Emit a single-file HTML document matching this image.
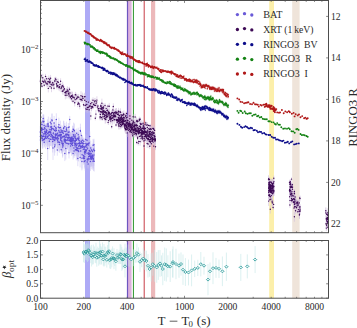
<!DOCTYPE html><html><head><meta charset="utf-8"><style>html,body{margin:0;padding:0;background:#fff;width:357px;height:328px;overflow:hidden}svg{display:block}text{font-family:"Liberation Serif",serif;fill:#2a2a2a}</style></head><body>
<svg width="357" height="328" viewBox="0 0 357 328">
<rect width="357" height="328" fill="#fff"/>
<rect x="85" y="0.5" width="5" height="232.2" fill="#aeaaf6"/><rect x="128" y="0.5" width="3.6" height="232.2" fill="#dcb0dc"/><rect x="126.9" y="0.5" width="1.2" height="232.2" fill="#6d55c0"/><rect x="132.9" y="0.5" width="1.1" height="232.2" fill="#3d9d3d"/><rect x="143.6" y="0.5" width="1.3" height="232.2" fill="#d46a72"/><rect x="151" y="0.5" width="4.2" height="232.2" fill="#ecb8ba"/><rect x="269.2" y="0.5" width="4.8" height="232.2" fill="#fcefaa"/><rect x="292.2" y="0.5" width="7.4" height="232.2" fill="#efe4da"/>
<rect x="85" y="240.5" width="5" height="57.69999999999999" fill="#aeaaf6"/><rect x="128" y="240.5" width="3.6" height="57.69999999999999" fill="#dcb0dc"/><rect x="126.9" y="240.5" width="1.2" height="57.69999999999999" fill="#6d55c0"/><rect x="132.9" y="240.5" width="1.1" height="57.69999999999999" fill="#3d9d3d"/><rect x="143.6" y="240.5" width="1.3" height="57.69999999999999" fill="#d46a72"/><rect x="151" y="240.5" width="4.2" height="57.69999999999999" fill="#ecb8ba"/><rect x="269.2" y="240.5" width="4.8" height="57.69999999999999" fill="#fcefaa"/><rect x="292.2" y="240.5" width="7.4" height="57.69999999999999" fill="#efe4da"/>
<path d="M40.3 125.9V141.1M40.4 131.0V144.6M40.5 137.2V143.9M40.6 133.0V140.2M40.7 120.6V128.5M40.8 132.4V147.3M40.9 120.4V140.0M41.0 123.4V141.5M41.1 131.0V141.4M41.3 132.1V140.9M41.4 124.2V138.0M41.5 126.2V133.3M41.6 126.5V137.1M41.7 122.7V135.2M41.8 131.9V141.5M41.9 119.2V132.7M42.1 124.7V144.5M42.1 123.7V135.7M42.3 134.4V141.2M42.4 132.0V148.7M42.6 130.4V146.2M42.7 123.9V138.1M42.8 135.5V148.3M42.9 118.5V125.6M43.1 115.1V132.6M43.2 113.9V125.4M43.3 136.1V144.6M43.4 131.2V138.2M43.5 131.4V143.0M43.7 133.3V140.6M43.8 114.6V132.1M44.0 125.3V135.4M44.1 117.6V137.0M44.2 138.8V147.5M44.3 127.9V142.3M44.4 137.1V143.4M44.5 120.1V139.4M44.6 133.1V146.4M44.7 124.6V143.2M44.9 123.9V142.1M45.0 125.2V132.9M45.2 133.7V140.8M45.2 129.4V140.3M45.3 133.7V139.9M45.4 134.6V141.2M45.6 130.2V144.9M45.7 128.2V139.5M45.7 131.0V148.9M45.9 123.3V130.7M46.0 129.8V140.7M46.1 131.7V138.3M46.2 124.3V137.8M46.3 126.0V139.5M46.5 125.1V143.2M46.6 128.9V137.4M46.8 132.8V146.3M46.9 123.7V141.1M47.1 129.0V147.0M47.3 132.8V142.2M47.4 119.5V130.6M47.4 133.3V143.1M47.6 125.6V145.0M47.7 140.7V160.1M47.8 122.2V131.4M47.9 127.9V142.7M48.1 129.1V146.9M48.2 123.6V131.0M48.3 116.6V135.3M48.5 129.2V137.9M48.6 121.7V132.6M48.8 133.7V145.5M48.9 125.2V141.5M49.0 127.6V146.3M49.2 131.9V140.2M49.3 136.9V147.9M49.4 128.6V136.7M49.5 135.8V149.3M49.7 126.6V138.8M49.8 131.0V140.7M49.9 125.7V135.2M50.1 129.5V137.6M50.2 134.7V145.8M50.3 117.5V129.5M50.5 121.7V134.8M50.6 127.2V139.5M50.7 130.6V136.9M50.9 129.9V146.1M51.0 134.9V145.6M51.1 120.8V128.5M51.2 126.1V135.8M51.3 128.8V142.8M51.5 119.1V137.9M51.6 123.0V136.3M51.7 124.1V136.6M51.9 113.6V129.4M52.0 127.9V147.1M52.1 113.6V131.4M52.2 125.5V133.4M52.3 134.7V141.9M52.4 128.9V145.9M52.6 132.9V148.2M52.7 134.1V152.5M52.9 131.9V143.6M53.0 140.0V159.9M53.1 131.9V145.2M53.2 135.7V144.6M53.3 128.3V142.1M53.4 130.3V136.8M53.5 126.3V133.4M53.7 122.4V139.5M53.9 135.1V141.9M54.0 133.0V143.0M54.1 116.0V133.5M54.2 136.9V145.2M54.4 123.2V130.7M54.4 124.2V139.9M54.6 140.7V155.7M54.7 137.5V144.9M54.9 140.0V152.5M55.0 133.6V147.5M55.1 128.8V142.3M55.2 134.5V142.3M55.3 134.1V144.6M55.4 129.2V145.9M55.5 126.6V137.6M55.6 130.8V140.5M55.7 130.4V139.2M55.8 119.8V138.9M55.9 132.1V145.2M56.0 124.5V136.2M56.1 124.2V135.1M56.3 113.3V129.2M56.4 127.7V134.7M56.5 135.1V142.3M56.6 131.9V139.3M56.8 131.2V149.4M56.9 130.1V140.4M57.0 136.0V144.4M57.2 126.1V145.7M57.3 146.1V155.7M57.5 130.7V137.0M57.6 135.2V148.0M57.7 134.9V141.2M57.8 138.9V146.4M57.9 132.4V142.8M58.0 130.0V144.3M58.1 129.0V145.1M58.3 122.3V134.0M58.4 132.3V148.5M58.5 132.5V139.3M58.7 135.4V151.7M58.8 127.3V135.4M58.9 117.7V135.1M59.1 129.7V144.0M59.2 128.4V137.8M59.3 124.4V132.5M59.4 139.0V152.9M59.6 136.7V151.5M59.7 128.5V145.8M59.8 130.7V143.9M60.0 128.3V144.7M60.1 131.3V138.6M60.2 129.0V145.4M60.3 127.0V140.0M60.4 120.7V137.5M60.6 131.3V146.4M60.6 132.3V148.7M60.7 134.1V148.2M60.8 134.3V149.8M60.9 131.8V147.3M61.0 124.8V137.5M61.1 128.3V146.8M61.2 147.3V153.7M61.3 127.5V145.0M61.5 128.4V137.6M61.7 134.3V143.4M61.8 133.2V152.6M61.9 135.0V152.6M62.0 139.7V149.1M62.2 125.6V138.5M62.2 138.4V150.9M62.3 133.6V141.8M62.4 129.7V136.0M62.6 139.8V157.6M62.7 137.5V156.2M62.8 128.2V139.6M62.9 140.1V151.3M63.0 132.8V142.9M63.1 141.7V151.9M63.2 139.7V149.3M63.3 128.7V140.1M63.5 129.4V147.8M63.6 120.7V139.9M63.8 121.3V137.4M63.8 129.8V146.4M64.0 126.8V137.0M64.0 134.8V147.6M64.1 131.8V142.1M64.3 135.6V150.9M64.4 131.1V145.0M64.5 135.4V144.5M64.7 135.2V148.2M64.8 148.7V161.1M64.8 123.1V132.0M64.9 132.3V141.8M65.0 134.0V148.1M65.2 132.8V144.7M65.3 127.1V138.5M65.4 134.2V153.7M65.5 134.2V147.4M65.6 136.4V146.4M65.7 130.0V141.8M65.8 141.3V159.6M65.9 132.0V138.7M66.0 137.4V151.7M66.1 129.3V140.9M66.3 135.4V155.0M66.4 124.8V132.5M66.4 121.7V140.9M66.6 130.8V146.0M66.7 128.4V135.2M66.9 136.4V145.9M67.0 132.1V140.1M67.1 128.4V143.4M67.3 134.7V148.2M67.4 135.3V146.9M67.5 133.7V144.1M67.6 130.3V149.7M67.8 139.7V149.2M67.8 126.5V145.9M68.0 133.0V146.1M68.1 135.1V147.1M68.2 128.5V137.9M68.3 123.0V133.9M68.4 130.4V147.6M68.6 130.1V143.3M68.6 136.9V154.4M68.7 134.3V143.6M68.9 129.8V142.9M69.0 149.1V158.4M69.1 128.7V136.9M69.2 123.3V132.5M69.4 137.6V144.7M69.5 133.3V151.9M69.6 129.5V148.6M69.7 115.9V124.7M69.9 133.3V148.7M70.0 133.5V144.9M70.1 135.7V145.8M70.2 132.2V151.6M70.3 139.0V150.2M70.4 131.8V149.3M70.6 141.4V152.8M70.7 138.2V147.1M70.8 136.2V148.1M71.0 132.3V149.1M71.1 134.4V153.3M71.1 133.8V150.3M71.3 129.8V149.2M71.4 140.1V149.9M71.6 135.7V142.0M71.7 136.9V155.8M71.9 137.7V147.1M72.0 132.1V151.5M72.1 132.2V144.3M72.3 135.7V154.7M72.3 136.5V154.1M72.5 125.7V140.3M72.6 131.4V148.4M72.7 142.0V150.9M72.8 138.0V144.7M72.9 138.5V149.2M73.1 149.6V159.5M73.2 126.2V133.8M73.3 135.5V144.9M73.4 128.8V143.6M73.6 134.6V150.0M73.6 122.6V140.4M73.7 129.3V145.7M73.8 134.9V144.5M73.9 142.3V156.5M74.0 146.3V158.0M74.2 130.0V147.4M74.3 133.1V153.0M74.4 123.6V141.4M74.6 140.3V147.1M74.7 136.3V155.9M74.8 136.4V155.4M74.9 141.8V151.6M75.1 129.1V148.4M75.1 131.3V140.5M75.2 133.8V142.0M75.3 135.4V150.6M75.4 147.1V153.5M75.5 136.1V146.6M75.6 131.8V149.0M75.7 139.9V151.6M75.9 137.2V152.2M76.0 142.1V154.0M76.0 145.8V156.3M76.2 135.1V146.3M76.3 142.2V160.4M76.5 133.7V149.9M76.6 143.1V149.4M76.7 128.6V140.4M76.9 142.9V155.5M77.0 144.4V159.4M77.2 140.9V148.4M77.3 135.3V143.5M77.4 143.0V156.4M77.5 141.8V159.1M77.7 144.3V153.3M77.8 153.3V166.2M77.9 130.6V149.6M78.0 143.5V161.0M78.1 132.5V149.6M78.2 127.7V145.3M78.2 146.7V155.9M78.4 135.3V143.2M78.4 137.1V153.3M78.6 144.9V161.5M78.7 139.2V157.0M78.8 132.6V147.4M78.9 135.4V147.5M79.0 132.1V144.5M79.1 145.9V152.5M79.2 133.9V150.6M79.4 140.2V152.8M79.5 139.1V147.1M79.6 142.6V150.1M79.7 137.5V152.5M79.8 138.6V155.0M79.9 138.2V151.3M80.0 137.6V156.9M80.1 151.0V167.4M80.3 127.0V135.9M80.4 123.7V142.6M80.5 139.7V156.8M80.7 144.3V160.9M80.8 140.8V159.3M80.9 142.1V155.3M81.0 139.6V148.8M81.1 138.5V145.3M81.2 142.8V151.3M81.4 137.8V146.4M81.5 132.4V140.2M81.7 135.8V154.1M81.8 137.0V151.2M81.9 155.4V170.4M82.0 151.3V168.5M82.1 150.2V161.4M82.3 141.9V154.2M82.4 140.2V157.8M82.5 139.6V154.6M82.6 136.0V146.5M82.7 140.5V147.2M82.8 137.7V151.0M83.0 140.5V148.5M83.0 144.7V150.9M83.2 143.9V151.6M83.3 143.5V157.9M83.4 149.8V164.6M83.5 153.4V163.0M83.6 155.5V163.0M83.7 150.7V162.5M83.8 138.6V145.0M83.9 137.6V152.7M84.0 139.0V158.1M84.2 146.2V153.0M84.3 156.7V168.6M84.4 155.8V162.3M84.5 145.0V164.2M84.6 146.4V159.6M84.7 149.8V167.3M84.8 144.8V151.7M85.0 147.2V164.3M85.1 154.2V170.7M85.2 143.6V160.0M85.4 146.4V155.9M85.4 148.2V159.1M85.6 139.8V155.8M85.7 134.0V147.8M85.8 147.9V157.8M85.9 135.6V155.1M86.0 147.2V157.0M86.1 143.1V159.6M86.3 143.1V161.4M86.4 141.7V151.2M86.5 138.5V153.9M86.7 139.3V152.0M86.9 142.4V154.7M87.0 134.7V148.8M87.1 150.2V157.6M87.3 156.0V164.2M87.3 157.5V168.5M87.4 157.1V163.8M87.5 142.3V158.2M87.6 141.1V148.3M87.8 137.8V155.3M87.9 157.2V164.3M88.1 160.9V168.6M88.2 141.8V149.6M88.2 152.2V167.2M88.4 137.5V152.4M88.5 147.6V164.3M88.6 149.5V160.1M88.7 152.6V162.7M88.8 148.3V159.6M88.9 151.8V169.7M89.1 148.1V154.8M89.2 138.7V149.7M89.3 150.8V164.4M89.4 147.0V164.6M89.5 148.0V154.3M89.6 151.2V157.5M89.7 131.3V144.3M89.9 150.8V161.9M90.0 154.9V164.7M90.2 145.4V161.3M90.3 153.5V161.3M90.4 155.3V171.1M90.6 151.8V166.6M90.7 140.6V159.1M90.8 148.8V167.2M90.8 146.6V165.2M91.0 152.6V164.1M91.1 148.1V161.7M91.3 152.7V169.3M91.4 146.6V155.0M91.6 151.1V166.4M91.7 149.3V166.2M91.8 155.4V163.3M91.9 152.8V161.7M92.0 144.0V159.9M92.2 151.2V160.9M92.3 150.6V164.1M92.4 143.6V163.3M92.5 153.5V161.2M92.7 150.0V169.8M92.8 150.3V166.6M93.0 153.1V160.8M93.0 156.6V168.2M93.1 138.9V154.7M93.2 153.6V168.5M93.4 153.8V165.6M93.5 152.2V170.9M93.6 140.2V152.2M93.7 142.8V159.0M93.9 147.8V165.8M94.0 138.8V153.9M94.1 147.6V155.2M94.2 154.5V171.5M94.4 146.0V158.0M94.5 144.7V159.5" stroke="#c4bdf0" stroke-width="0.5" fill="none"/>
<path d="M40.3 132.0h0.01M40.4 136.4h0.01M40.5 139.9h0.01M40.6 135.9h0.01M40.7 123.8h0.01M40.8 138.4h0.01M40.9 128.2h0.01M41.0 130.7h0.01M41.1 135.2h0.01M41.3 135.6h0.01M41.4 129.7h0.01M41.5 129.0h0.01M41.6 130.7h0.01M41.7 127.7h0.01M41.8 135.8h0.01M41.9 124.6h0.01M42.1 132.6h0.01M42.1 128.5h0.01M42.3 137.1h0.01M42.4 138.7h0.01M42.6 136.7h0.01M42.7 129.6h0.01M42.8 140.6h0.01M42.9 121.3h0.01M43.1 122.1h0.01M43.2 118.5h0.01M43.3 139.5h0.01M43.4 134.0h0.01M43.5 136.1h0.01M43.7 136.2h0.01M43.8 121.6h0.01M44.0 129.3h0.01M44.1 125.4h0.01M44.2 142.3h0.01M44.3 133.7h0.01M44.4 139.6h0.01M44.5 127.8h0.01M44.6 138.4h0.01M44.7 132.0h0.01M44.9 131.2h0.01M45.0 128.3h0.01M45.2 136.5h0.01M45.2 133.7h0.01M45.3 136.2h0.01M45.4 137.3h0.01M45.6 136.1h0.01M45.7 132.7h0.01M45.7 138.1h0.01M45.9 126.2h0.01M46.0 134.2h0.01M46.1 134.4h0.01M46.2 129.7h0.01M46.3 131.4h0.01M46.5 132.3h0.01M46.6 132.3h0.01M46.8 138.2h0.01M46.9 130.7h0.01M47.1 136.2h0.01M47.3 136.6h0.01M47.4 123.9h0.01M47.4 137.2h0.01M47.6 133.4h0.01M47.7 148.5h0.01M47.8 125.9h0.01M47.9 133.8h0.01M48.1 136.2h0.01M48.2 126.6h0.01M48.3 124.1h0.01M48.5 132.6h0.01M48.6 126.1h0.01M48.8 138.4h0.01M48.9 131.7h0.01M49.0 135.1h0.01M49.2 135.2h0.01M49.3 141.3h0.01M49.4 131.9h0.01M49.5 141.2h0.01M49.7 131.5h0.01M49.8 134.9h0.01M49.9 129.5h0.01M50.1 132.7h0.01M50.2 139.2h0.01M50.3 122.3h0.01M50.5 126.9h0.01M50.6 132.1h0.01M50.7 133.1h0.01M50.9 136.4h0.01M51.0 139.2h0.01M51.1 123.8h0.01M51.2 130.0h0.01M51.3 134.4h0.01M51.5 126.7h0.01M51.6 128.3h0.01M51.7 129.1h0.01M51.9 119.9h0.01M52.0 135.5h0.01M52.1 120.7h0.01M52.2 128.6h0.01M52.3 137.6h0.01M52.4 135.7h0.01M52.6 139.0h0.01M52.7 141.4h0.01M52.9 136.6h0.01M53.0 148.0h0.01M53.1 137.2h0.01M53.2 139.2h0.01M53.3 133.8h0.01M53.4 132.9h0.01M53.5 129.1h0.01M53.7 129.3h0.01M53.9 137.8h0.01M54.0 137.0h0.01M54.1 123.0h0.01M54.2 140.3h0.01M54.4 126.2h0.01M54.4 130.5h0.01M54.6 146.7h0.01M54.7 140.4h0.01M54.9 145.0h0.01M55.0 139.2h0.01M55.1 134.2h0.01M55.2 137.6h0.01M55.3 138.3h0.01M55.4 135.8h0.01M55.5 131.0h0.01M55.6 134.7h0.01M55.7 133.9h0.01M55.8 127.4h0.01M55.9 137.3h0.01M56.0 129.2h0.01M56.1 128.6h0.01M56.3 119.6h0.01M56.4 130.5h0.01M56.5 138.0h0.01M56.6 134.9h0.01M56.8 138.5h0.01M56.9 134.2h0.01M57.0 139.3h0.01M57.2 133.9h0.01M57.3 150.0h0.01M57.5 133.2h0.01M57.6 140.3h0.01M57.7 137.4h0.01M57.8 141.9h0.01M57.9 136.6h0.01M58.0 135.7h0.01M58.1 135.5h0.01M58.3 127.0h0.01M58.4 138.8h0.01M58.5 135.2h0.01M58.7 141.9h0.01M58.8 130.5h0.01M58.9 124.7h0.01M59.1 135.4h0.01M59.2 132.1h0.01M59.3 127.7h0.01M59.4 144.5h0.01M59.6 142.6h0.01M59.7 135.4h0.01M59.8 136.0h0.01M60.0 134.8h0.01M60.1 134.2h0.01M60.2 135.5h0.01M60.3 132.2h0.01M60.4 127.4h0.01M60.6 137.3h0.01M60.6 138.9h0.01M60.7 139.8h0.01M60.8 140.5h0.01M60.9 138.0h0.01M61.0 129.9h0.01M61.1 135.7h0.01M61.2 149.8h0.01M61.3 134.5h0.01M61.5 132.1h0.01M61.7 137.9h0.01M61.8 141.0h0.01M61.9 142.1h0.01M62.0 143.5h0.01M62.2 130.7h0.01M62.2 143.4h0.01M62.3 136.9h0.01M62.4 132.2h0.01M62.6 146.9h0.01M62.7 145.0h0.01M62.8 132.7h0.01M62.9 144.6h0.01M63.0 136.8h0.01M63.1 145.7h0.01M63.2 143.5h0.01M63.3 133.2h0.01M63.5 136.8h0.01M63.6 128.4h0.01M63.8 127.7h0.01M63.8 136.4h0.01M64.0 130.9h0.01M64.0 139.9h0.01M64.1 135.9h0.01M64.3 141.7h0.01M64.4 136.6h0.01M64.5 139.1h0.01M64.7 140.4h0.01M64.8 153.6h0.01M64.8 126.6h0.01M64.9 136.1h0.01M65.0 139.6h0.01M65.2 137.6h0.01M65.3 131.6h0.01M65.4 142.0h0.01M65.5 139.5h0.01M65.6 140.4h0.01M65.7 134.7h0.01M65.8 148.6h0.01M65.9 134.6h0.01M66.0 143.1h0.01M66.1 133.9h0.01M66.3 143.2h0.01M66.4 127.9h0.01M66.4 129.4h0.01M66.6 136.9h0.01M66.7 131.1h0.01M66.9 140.2h0.01M67.0 135.3h0.01M67.1 134.4h0.01M67.3 140.1h0.01M67.4 139.9h0.01M67.5 137.8h0.01M67.6 138.0h0.01M67.8 143.5h0.01M67.8 134.2h0.01M68.0 138.3h0.01M68.1 139.9h0.01M68.2 132.2h0.01M68.3 127.4h0.01M68.4 137.3h0.01M68.6 135.4h0.01M68.6 143.9h0.01M68.7 138.1h0.01M68.9 135.1h0.01M69.0 152.8h0.01M69.1 132.0h0.01M69.2 127.0h0.01M69.4 140.4h0.01M69.5 140.8h0.01M69.6 137.2h0.01M69.7 119.4h0.01M69.9 139.4h0.01M70.0 138.0h0.01M70.1 139.8h0.01M70.2 140.0h0.01M70.3 143.5h0.01M70.4 138.8h0.01M70.6 146.0h0.01M70.7 141.8h0.01M70.8 141.0h0.01M71.0 139.0h0.01M71.1 142.0h0.01M71.1 140.4h0.01M71.3 137.6h0.01M71.4 144.0h0.01M71.6 138.2h0.01M71.7 144.4h0.01M71.9 141.4h0.01M72.0 139.8h0.01M72.1 137.0h0.01M72.3 143.3h0.01M72.3 143.5h0.01M72.5 131.5h0.01M72.6 138.2h0.01M72.7 145.6h0.01M72.8 140.7h0.01M72.9 142.8h0.01M73.1 153.6h0.01M73.2 129.3h0.01M73.3 139.2h0.01M73.4 134.8h0.01M73.6 140.8h0.01M73.6 129.7h0.01M73.7 135.9h0.01M73.8 138.7h0.01M73.9 147.9h0.01M74.0 151.0h0.01M74.2 137.0h0.01M74.3 141.0h0.01M74.4 130.7h0.01M74.6 143.0h0.01M74.7 144.1h0.01M74.8 144.0h0.01M74.9 145.7h0.01M75.1 136.8h0.01M75.1 135.0h0.01M75.2 137.1h0.01M75.3 141.5h0.01M75.4 149.7h0.01M75.5 140.3h0.01M75.6 138.6h0.01M75.7 144.6h0.01M75.9 143.2h0.01M76.0 146.9h0.01M76.0 150.0h0.01M76.2 139.6h0.01M76.3 149.5h0.01M76.5 140.2h0.01M76.6 145.6h0.01M76.7 133.3h0.01M76.9 148.0h0.01M77.0 150.4h0.01M77.2 143.9h0.01M77.3 138.6h0.01M77.4 148.4h0.01M77.5 148.7h0.01M77.7 147.9h0.01M77.8 158.5h0.01M77.9 138.2h0.01M78.0 150.5h0.01M78.1 139.3h0.01M78.2 134.7h0.01M78.2 150.4h0.01M78.4 138.5h0.01M78.4 143.6h0.01M78.6 151.5h0.01M78.7 146.3h0.01M78.8 138.5h0.01M78.9 140.2h0.01M79.0 137.0h0.01M79.1 148.6h0.01M79.2 140.6h0.01M79.4 145.2h0.01M79.5 142.3h0.01M79.6 145.6h0.01M79.7 143.5h0.01M79.8 145.1h0.01M79.9 143.4h0.01M80.0 145.3h0.01M80.1 157.6h0.01M80.3 130.5h0.01M80.4 131.3h0.01M80.5 146.6h0.01M80.7 150.9h0.01M80.8 148.2h0.01M80.9 147.4h0.01M81.0 143.3h0.01M81.1 141.2h0.01M81.2 146.2h0.01M81.4 141.2h0.01M81.5 135.5h0.01M81.7 143.1h0.01M81.8 142.7h0.01M81.9 161.4h0.01M82.0 158.2h0.01M82.1 154.7h0.01M82.3 146.8h0.01M82.4 147.2h0.01M82.5 145.6h0.01M82.6 140.2h0.01M82.7 143.2h0.01M82.8 143.1h0.01M83.0 143.7h0.01M83.0 147.2h0.01M83.2 147.0h0.01M83.3 149.3h0.01M83.4 155.7h0.01M83.5 157.2h0.01M83.6 158.5h0.01M83.7 155.4h0.01M83.8 141.2h0.01M83.9 143.6h0.01M84.0 146.6h0.01M84.2 148.9h0.01M84.3 161.5h0.01M84.4 158.4h0.01M84.5 152.7h0.01M84.6 151.6h0.01M84.7 156.8h0.01M84.8 147.6h0.01M85.0 154.0h0.01M85.1 160.8h0.01M85.2 150.1h0.01M85.4 150.2h0.01M85.4 152.6h0.01M85.6 146.2h0.01M85.7 139.5h0.01M85.8 151.8h0.01M85.9 143.4h0.01M86.0 151.1h0.01M86.1 149.7h0.01M86.3 150.4h0.01M86.4 145.5h0.01M86.5 144.7h0.01M86.7 144.4h0.01M86.9 147.3h0.01M87.0 140.3h0.01M87.1 153.2h0.01M87.3 159.2h0.01M87.3 161.9h0.01M87.4 159.8h0.01M87.5 148.7h0.01M87.6 144.0h0.01M87.8 144.8h0.01M87.9 160.0h0.01M88.1 164.0h0.01M88.2 144.9h0.01M88.2 158.2h0.01M88.4 143.4h0.01M88.5 154.3h0.01M88.6 153.7h0.01M88.7 156.6h0.01M88.8 152.8h0.01M88.9 159.0h0.01M89.1 150.8h0.01M89.2 143.1h0.01M89.3 156.3h0.01M89.4 154.0h0.01M89.5 150.5h0.01M89.6 153.7h0.01M89.7 136.5h0.01M89.9 155.2h0.01M90.0 158.8h0.01M90.2 151.8h0.01M90.3 156.6h0.01M90.4 161.6h0.01M90.6 157.7h0.01M90.7 148.0h0.01M90.8 156.2h0.01M90.8 154.0h0.01M91.0 157.2h0.01M91.1 153.6h0.01M91.3 159.3h0.01M91.4 150.0h0.01M91.6 157.2h0.01M91.7 156.1h0.01M91.8 158.5h0.01M91.9 156.3h0.01M92.0 150.3h0.01M92.2 155.1h0.01M92.3 156.0h0.01M92.4 151.5h0.01M92.5 156.6h0.01M92.7 157.9h0.01M92.8 156.8h0.01M93.0 156.2h0.01M93.0 161.2h0.01M93.1 145.2h0.01M93.2 159.6h0.01M93.4 158.5h0.01M93.5 159.7h0.01M93.6 145.0h0.01M93.7 149.3h0.01M93.9 155.0h0.01M94.0 144.8h0.01M94.1 150.6h0.01M94.2 161.3h0.01M94.4 150.8h0.01M94.5 150.7h0.01" stroke="#5f4fd6" stroke-width="1.5" stroke-linecap="round" fill="none"/>
<path d="M40.3 79.1V83.2M40.7 73.8V81.5M41.1 73.8V77.1M41.5 81.7V85.7M42.0 84.4V88.0M42.4 78.0V84.2M42.8 73.8V81.7M43.2 78.6V84.1M43.8 79.7V85.0M44.2 83.5V87.2M44.8 77.8V82.4M45.1 79.9V83.0M45.5 73.9V79.0M45.8 80.5V84.8M46.3 81.5V85.8M46.7 76.1V81.4M47.0 79.7V87.5M47.5 81.1V87.0M47.9 79.1V84.2M48.3 84.5V92.4M48.8 75.5V81.8M49.0 77.7V85.7M49.4 80.2V85.5M49.7 76.9V82.5M50.0 84.2V88.9M50.3 79.6V84.4M50.6 74.9V81.8M51.0 80.0V88.5M51.5 83.7V92.2M52.0 83.0V86.9M52.5 81.3V84.4M53.0 79.5V86.5M53.3 82.7V87.1M53.8 82.2V87.2M54.0 86.2V90.2M54.6 77.7V84.3M55.0 77.2V85.0M55.5 76.8V81.0M56.0 76.9V82.6M56.5 80.7V87.0M56.8 82.1V88.1M57.0 83.8V89.6M57.3 78.6V84.8M57.8 84.3V87.3M58.3 78.7V85.7M58.8 84.5V89.7M59.2 84.4V91.2M59.6 85.1V88.2M60.0 81.9V86.9M60.6 78.3V84.4M60.9 84.9V92.2M61.4 85.2V90.3M61.9 83.2V89.3M62.3 89.2V93.5M62.7 81.7V89.6M63.0 87.0V95.0M63.4 84.0V90.1M63.9 86.2V93.2M64.4 86.4V91.2M64.8 89.2V96.0M65.3 91.1V99.4M65.7 90.4V93.7M66.0 88.7V97.2M66.4 88.0V94.9M66.9 91.9V98.6M67.3 86.3V93.5M67.8 88.1V95.1M68.1 87.1V94.7M68.4 89.5V97.2M68.9 90.7V97.6M69.2 92.8V99.2M69.5 86.8V91.6M69.9 89.5V96.4M70.4 95.9V99.3M70.8 92.6V100.4M71.3 91.5V100.0M71.6 95.4V101.9M72.1 91.9V100.8M72.5 91.7V98.6M72.8 95.3V99.2M73.0 99.4V103.2M73.6 95.4V98.9M74.1 94.0V101.4M74.4 94.2V101.6M74.7 99.1V106.4M75.2 96.0V103.3M75.4 91.9V97.6M75.9 92.7V97.2M76.5 97.2V100.3M76.9 94.7V102.6M77.2 95.3V99.3M77.7 101.3V107.2M77.9 94.1V99.7M78.4 101.1V105.0M78.8 93.9V100.7M79.2 101.3V106.6M79.7 102.9V109.3M80.0 97.4V100.8M80.5 97.0V102.0M81.0 91.2V100.1M81.4 96.6V102.2M82.0 97.6V102.9M82.4 92.6V100.5M82.7 96.6V99.6M83.0 94.6V102.5M83.5 103.0V106.3M84.0 102.1V108.5M84.3 92.8V100.9M84.8 97.7V102.8M85.1 93.4V99.7M85.6 100.9V109.5M85.9 105.6V112.2M86.3 99.4V103.9M86.8 100.7V108.4M87.1 105.6V113.2M87.4 104.3V110.8M88.0 104.7V110.6M88.4 100.0V104.1M88.7 104.5V109.7M89.1 107.1V112.5M89.4 101.4V110.4M89.8 104.4V108.1M90.2 102.8V109.3M90.6 100.7V106.8M90.8 111.9V120.1M91.2 104.9V111.4M91.5 102.4V111.1M91.9 98.8V106.7M92.5 104.4V108.6M92.8 105.8V109.3M93.0 97.3V103.0M93.5 100.2V108.7M93.8 102.3V106.0M94.3 102.9V107.5M94.7 98.3V105.3M95.1 97.9V103.6M95.3 116.1V120.4M95.6 103.1V107.7M95.9 110.1V118.1M96.1 99.7V107.4M96.6 100.3V103.6M96.9 96.3V103.8M97.4 103.9V110.4M97.9 104.1V107.8M98.2 105.8V111.6M98.5 108.5V112.9M98.7 105.1V112.4M99.0 107.0V110.2M99.5 106.8V115.0M100.1 115.9V119.7M100.2 112.4V120.4M100.4 111.6V117.3M100.5 108.2V115.0M100.6 104.0V108.3M100.7 106.9V110.8M100.9 103.2V107.8M101.0 107.7V115.7M101.1 110.5V114.5M101.3 105.1V108.8M101.5 115.8V119.1M101.7 106.3V112.1M101.8 106.1V110.6M101.9 98.7V107.7M102.2 117.3V120.9M102.3 108.1V115.4M102.4 105.6V114.5M102.5 110.1V114.0M102.6 103.8V111.8M102.7 108.3V116.8M102.8 111.4V117.9M102.9 110.1V117.4M103.0 115.1V118.6M103.1 105.6V110.2M103.2 105.2V111.9M103.4 111.1V115.3M103.5 103.2V110.6M103.6 107.4V115.2M103.8 106.3V114.4M104.0 106.8V115.3M104.1 107.7V115.9M104.2 111.9V117.1M104.3 115.7V120.9M104.5 113.6V119.3M104.6 110.3V114.0M104.8 112.7V117.6M105.0 102.9V108.1M105.2 114.9V123.7M105.3 112.2V118.3M105.5 107.4V116.2M105.6 110.4V114.5M105.7 111.0V114.2M105.8 115.9V123.1M105.9 114.5V121.0M106.1 109.8V117.0M106.2 115.3V118.5M106.2 105.6V111.6M106.4 110.0V115.4M106.5 111.7V118.2M106.7 112.4V119.8M106.8 113.1V121.1M107.0 106.4V114.4M107.2 113.3V118.6M107.4 111.9V116.4M107.5 107.5V113.1M107.7 112.6V120.5M107.9 104.4V107.7M108.1 120.1V124.6M108.2 108.3V115.1M108.3 109.9V115.5M108.5 112.3V115.5M108.6 116.3V124.9M108.8 109.2V117.0M109.0 111.8V118.6M109.1 110.3V117.4M109.2 102.9V109.7M109.3 109.3V115.4M109.5 115.2V120.1M109.6 112.0V115.7M109.8 116.9V121.6M109.9 110.6V116.8M110.0 114.1V118.8M110.2 114.1V118.8M110.3 115.2V123.2M110.5 114.5V120.9M110.6 114.2V119.9M110.8 117.7V124.3M110.9 112.2V116.5M111.1 115.4V120.7M111.2 114.9V123.1M111.4 112.6V119.0M111.5 110.8V115.5M111.7 124.7V128.7M111.8 116.9V120.2M111.9 110.0V115.6M112.1 113.6V122.3M112.3 115.7V119.6M112.4 109.2V115.9M112.6 116.7V124.6M112.8 111.9V119.4M112.9 106.0V113.7M113.1 113.8V122.1M113.2 111.4V119.0M113.3 103.3V109.7M113.5 112.7V120.4M113.7 110.7V116.4M113.8 110.5V117.8M113.9 110.1V115.4M114.1 115.9V123.6M114.3 110.5V114.6M114.4 114.8V118.7M114.5 111.1V119.6M114.7 112.0V120.1M114.9 116.7V122.3M115.1 114.8V117.9M115.2 108.6V117.2M115.3 112.2V118.4M115.6 109.0V116.1M115.7 114.2V119.3M115.9 108.2V115.3M116.0 123.2V126.8M116.1 110.2V116.6M116.4 116.1V124.9M116.5 108.0V117.0M116.6 116.6V122.7M116.8 114.9V123.8M117.0 117.8V123.9M117.1 118.6V126.5M117.3 110.1V118.4M117.5 116.8V122.8M117.6 118.7V122.8M117.7 111.9V117.0M117.9 110.9V117.7M118.0 109.9V114.8M118.1 120.4V123.4M118.2 117.6V124.6M118.2 110.9V116.9M118.3 114.7V120.9M118.5 120.8V127.3M118.5 116.3V123.8M118.6 118.2V121.8M118.6 107.9V114.5M118.7 115.8V119.1M118.8 115.3V122.6M118.8 113.1V117.1M118.9 122.2V128.7M119.0 120.7V126.4M119.0 123.2V129.7M119.2 118.6V124.3M119.2 114.4V123.0M119.4 117.5V122.4M119.5 116.8V123.4M119.6 112.8V118.7M119.7 115.4V122.7M119.8 120.4V125.3M119.9 109.7V114.2M119.9 117.1V122.2M120.0 119.0V125.4M120.0 115.3V121.5M120.1 116.0V119.7M120.2 117.4V122.5M120.3 118.1V122.6M120.3 118.7V125.7M120.4 120.9V124.5M120.4 120.5V128.5M120.5 108.3V116.2M120.5 119.5V124.6M120.6 110.1V114.4M120.8 123.5V129.5M120.8 113.9V121.2M120.9 116.0V124.4M121.0 114.3V121.0M121.0 117.8V126.0M121.1 112.5V117.1M121.2 116.8V122.1M121.3 114.1V119.4M121.3 116.5V120.5M121.4 115.6V119.3M121.5 122.8V127.9M121.6 117.2V122.1M121.6 119.7V123.4M121.7 115.2V123.6M121.8 120.1V128.4M121.9 120.9V124.1M122.0 119.3V126.3M122.1 111.9V119.1M122.2 119.5V127.6M122.2 117.0V120.7M122.3 115.1V122.5M122.4 119.8V123.8M122.5 118.6V123.4M122.6 120.7V127.6M122.6 117.7V125.7M122.7 117.5V123.1M122.8 115.4V120.5M122.8 122.1V126.9M122.9 111.0V119.1M123.0 122.1V125.8M123.1 119.9V124.2M123.2 117.6V124.8M123.3 115.8V123.3M123.4 116.7V125.4M123.4 118.8V127.4M123.5 117.6V124.3M123.6 112.3V115.6M123.7 113.0V121.5M123.8 120.0V127.5M123.8 117.2V121.8M123.9 110.3V119.1M124.0 117.2V120.5M124.1 118.3V123.7M124.1 117.4V124.7M124.2 121.8V126.2M124.3 113.3V121.9M124.3 119.2V124.0M124.4 122.9V127.9M124.5 123.1V129.4M124.6 121.9V128.5M124.7 123.8V131.3M124.8 122.3V127.5M124.9 122.9V126.3M124.9 121.7V127.4M125.0 126.0V130.9M125.1 119.2V122.7M125.1 120.0V128.9M125.2 123.8V132.7M125.3 124.1V127.8M125.4 117.2V123.5M125.4 119.6V128.1M125.5 112.8V119.7M125.6 113.8V118.3M125.6 125.8V133.9M125.7 122.1V126.3M125.8 126.3V130.3M125.9 111.5V119.4M126.0 118.0V126.0M126.0 122.9V128.1M126.1 115.8V120.3M126.2 125.8V132.2M126.3 121.9V130.3M126.4 114.7V120.7M126.5 122.2V128.7M126.5 122.9V130.0M126.6 111.7V115.2M126.6 124.6V130.2M126.7 119.6V127.6M126.8 119.6V127.3M126.8 119.5V125.6M126.9 127.2V132.2M127.0 115.8V124.3M127.0 114.9V119.7M127.1 118.4V122.6M127.2 120.1V125.0M127.2 128.8V137.0M127.4 118.2V126.9M127.4 121.2V128.3M127.5 120.5V125.3M127.6 125.4V132.3M127.7 120.5V125.5M127.8 123.5V130.6M127.9 123.2V126.7M128.0 118.1V123.6M128.0 125.3V131.7M128.1 122.5V130.8M128.2 124.6V128.3M128.3 121.7V127.9M128.4 123.7V129.7M128.5 123.9V127.5M128.5 127.0V133.6M128.6 120.8V126.5M128.7 122.8V129.1M128.8 120.8V129.7M128.9 121.4V125.0M129.0 118.9V127.7M129.1 123.1V130.8M129.1 123.4V127.8M129.2 122.5V125.6M129.3 122.7V129.9M129.4 124.8V133.1M129.5 125.1V133.6M129.6 119.9V123.9M129.7 118.4V125.5M129.8 129.9V133.6M129.8 121.4V128.7M129.9 112.6V119.2M129.9 117.0V120.7M130.0 120.2V127.3M130.1 123.6V131.6M130.2 128.5V132.2M130.2 129.8V133.9M130.3 128.6V133.3M130.4 120.4V128.6M130.5 124.3V131.4M130.6 124.4V129.5M130.7 123.1V129.1M130.8 124.7V128.8M130.9 121.8V128.9M130.9 120.0V128.1M131.0 122.8V131.0M131.1 127.7V132.0M131.2 125.0V131.6M131.3 125.6V131.4M131.3 127.5V132.8M131.4 129.7V134.7M131.4 124.1V129.8M131.6 125.5V132.5M131.6 125.2V129.8M131.7 123.4V129.5M131.8 127.8V136.8M131.9 116.2V124.4M132.0 120.9V127.7M132.1 120.9V128.7M132.2 125.4V134.0M132.3 121.0V128.5M132.3 130.5V137.3M132.4 121.5V124.8M132.5 123.4V128.4M132.6 121.1V125.5M132.7 125.2V130.3M132.7 133.0V138.7M132.8 124.6V131.0M132.8 125.8V130.6M132.9 125.1V132.5M133.0 126.8V135.3M133.1 124.3V127.8M133.1 114.1V119.3M133.2 118.8V124.4M133.4 127.9V136.3M133.4 127.4V132.0M133.5 125.8V133.0M133.5 127.9V133.3M133.6 117.6V124.5M133.6 119.0V126.4M133.7 122.6V130.4M133.9 124.4V129.4M133.9 125.8V134.1M134.0 128.6V137.1M134.1 121.3V128.2M134.1 130.7V137.8M134.2 130.5V133.8M134.3 127.2V132.2M134.4 122.6V128.4M134.4 122.0V130.6M134.5 126.3V133.0M134.6 125.7V130.7M134.6 125.8V133.4M134.7 126.3V134.2M134.8 119.7V126.1M134.8 123.8V130.4M134.9 124.6V131.9M135.0 121.4V129.1M135.1 127.3V133.0M135.1 113.9V120.1M135.3 126.1V131.9M135.3 125.3V132.9M135.4 128.0V135.5M135.5 126.9V130.1M135.5 130.2V136.6M135.6 126.3V135.0M135.6 126.7V134.1M135.8 129.0V133.0M135.8 125.0V133.9M135.9 122.4V129.2M135.9 128.0V132.9M136.1 122.7V126.4M136.2 132.0V137.4M136.3 129.9V133.3M136.3 116.8V125.4M136.4 132.2V136.5M136.5 126.7V131.1M136.6 130.0V137.6M136.6 123.1V127.4M136.7 140.5V144.4M136.8 128.0V135.5M136.9 124.7V129.4M137.0 118.6V122.5M137.1 127.1V133.7M137.2 119.7V123.9M137.3 122.8V128.0M137.4 127.4V135.6M137.5 125.3V130.1M137.6 137.1V140.2M137.7 135.4V139.3M137.8 128.5V135.6M137.8 128.9V133.9M137.9 123.7V132.5M138.0 119.1V123.5M138.1 126.6V132.6M138.1 126.2V131.8M138.2 140.7V145.6M138.3 129.9V133.7M138.4 131.1V135.2M138.5 131.7V135.6M138.6 125.6V130.7M138.6 126.1V134.6M138.7 128.7V137.0M138.8 139.1V143.7M138.9 128.7V131.9M138.9 129.4V134.8M139.0 126.5V133.7M139.1 127.9V134.2M139.2 122.0V130.2M139.3 116.5V121.9M139.4 117.9V123.2M139.4 133.6V139.1M139.5 127.9V134.5M139.6 128.5V133.1M139.7 126.5V130.6M139.7 129.1V137.1M139.8 128.5V135.7M139.9 126.8V133.6M140.0 124.9V127.9M140.1 137.6V145.7M140.2 117.1V121.5M140.3 119.7V127.2M140.3 127.1V133.2M140.4 123.4V130.5M140.5 125.3V129.6M140.6 125.0V129.6M140.7 121.4V127.5M140.8 130.3V134.7M140.8 133.1V139.2M140.9 125.1V133.0M141.0 132.3V138.1M141.1 134.6V142.6M141.2 129.8V135.0M141.3 126.7V134.6M141.3 131.7V135.3M141.4 130.4V138.3M141.5 127.2V132.6M141.6 128.7V135.8M141.7 120.3V127.8M141.7 129.3V136.4M141.8 126.0V131.2M141.9 128.8V134.1M141.9 131.9V135.3M142.0 133.6V140.9M142.0 126.4V134.5M142.1 131.4V138.2M142.2 129.5V137.2M142.3 133.8V139.0M142.3 124.5V131.8M142.4 130.8V136.3M142.5 131.0V136.3M142.5 124.1V132.6M142.6 136.3V141.6M142.7 128.5V133.5M142.7 129.3V135.5M142.8 123.8V132.2M142.9 135.2V141.0M143.0 129.3V137.3M143.1 120.5V126.1M143.2 130.9V137.0M143.3 126.3V131.7M143.3 122.6V129.7M143.4 131.6V135.3M143.4 123.3V126.8M143.5 130.4V137.9M143.6 132.1V135.4M143.7 129.8V133.1M143.8 125.1V130.6M143.9 136.7V145.0M144.0 130.2V135.2M144.0 143.7V148.3M144.1 130.9V135.8M144.2 133.4V139.5M144.2 126.9V130.2M144.3 134.2V142.3M144.4 125.0V129.2M144.4 125.9V131.7M144.5 128.8V135.3M144.6 129.7V138.2M144.6 128.6V131.9M144.7 125.5V131.9M144.8 129.9V134.5M144.9 127.5V135.3M145.0 137.1V142.8M145.1 123.1V126.4M145.2 133.0V139.8M145.2 131.2V137.7M145.2 127.8V136.3M145.3 131.5V138.5M145.4 126.1V130.9M145.5 130.5V139.0M145.5 129.6V133.2M145.6 133.1V138.6M145.7 120.7V125.2M145.8 130.9V134.3M145.9 129.7V132.9M146.0 129.6V136.1M146.1 133.7V140.0M146.1 133.1V141.1M146.2 127.8V135.6M146.3 130.3V135.6M146.4 132.4V136.8M146.5 134.4V141.7M146.5 133.2V140.2M146.6 130.8V139.3M146.7 127.7V136.3M146.8 129.3V136.8M146.9 133.8V142.4M146.9 122.0V128.6M147.0 133.2V136.8M147.0 128.9V137.0M147.1 139.3V147.8M147.1 122.2V127.3M147.3 124.0V131.0M147.3 129.6V134.1M147.4 136.5V140.6M147.5 130.7V137.1M147.6 132.9V139.2M147.7 128.7V131.9M147.7 129.9V133.5M147.8 135.9V141.0M147.9 135.4V142.4M148.0 137.2V142.2M148.1 139.8V148.1M148.1 131.7V140.0M148.2 133.3V139.3M148.3 136.4V140.4M148.4 135.1V141.2M148.4 134.2V138.4M148.5 136.9V141.3M148.6 123.9V127.0M148.7 131.8V137.8M148.8 126.6V131.0M148.9 130.1V134.0M149.0 136.4V142.5M149.0 131.8V140.1M149.1 128.9V135.5M149.2 129.9V137.2M149.2 130.9V139.8M149.3 137.9V144.6M149.4 132.9V140.8M149.4 127.2V135.7M149.5 136.9V142.3M149.5 131.4V135.8M149.6 131.7V136.7M149.7 130.9V135.1M149.7 124.9V133.9M149.8 143.2V149.1M149.9 133.5V141.0M150.0 123.7V127.9M150.1 138.2V141.8M150.2 126.5V131.6M150.3 138.4V145.9M150.3 130.2V138.1M150.4 137.8V145.8M150.5 128.2V134.7M150.6 135.2V143.4M150.7 124.3V133.0M150.7 133.4V142.2M150.8 132.7V137.3M151.0 133.2V139.0M151.0 135.8V141.8M151.1 130.3V135.7M151.2 125.4V133.2M151.3 141.1V146.5M151.4 129.4V136.3M151.5 128.7V136.7M151.6 139.6V142.6M151.7 134.2V142.1M151.7 132.9V139.6M151.8 131.9V137.0M151.9 135.4V142.1M152.0 135.6V142.8M152.1 134.5V141.5M152.2 139.5V142.8M152.3 138.9V143.0M152.3 138.2V142.5M152.4 131.8V138.4M152.5 127.7V136.4M152.6 135.1V144.1M152.7 134.5V140.7M152.7 131.9V136.0M152.8 126.1V130.6M152.9 136.9V140.5M153.0 137.3V142.6M153.1 128.1V136.4M153.2 139.3V145.0M153.3 136.8V142.0M153.4 130.5V136.6M153.5 129.1V137.5M153.6 126.7V130.1M153.7 142.5V149.6M153.8 125.2V133.6M153.9 135.4V142.9M153.9 131.2V139.9M154.0 137.0V140.9M154.1 132.8V138.2M154.2 132.7V139.5M154.3 133.9V140.2M154.3 128.6V137.4M154.4 136.5V141.8M154.6 126.7V134.0M154.7 133.2V139.7M154.8 135.7V143.5M154.8 136.3V144.6M154.9 137.5V144.9M154.9 134.0V138.8M155.0 134.0V142.8M155.1 134.2V142.9M155.2 138.2V143.1M155.3 137.1V142.5M155.3 134.9V143.6M155.4 137.0V142.7M155.5 143.3V150.1M270.2 187.3V193.6M271.6 188.1V195.8M272.6 181.7V191.2M271.4 187.9V192.9M272.0 185.0V188.3M273.0 189.7V196.7M270.4 187.3V192.0M268.9 182.5V189.4M272.6 181.1V189.7M269.1 181.1V186.2M272.0 188.1V195.9M272.8 183.1V188.8M273.7 184.0V189.7M272.9 181.0V186.4M269.5 186.7V193.4M272.2 179.1V188.5M269.2 183.4V189.2M271.3 183.6V192.6M272.2 180.3V187.3M270.0 180.8V189.7M272.8 184.2V191.9M272.6 182.0V188.5M273.4 187.4V196.1M272.1 178.9V188.1M269.2 181.8V189.0M270.0 179.9V183.4M271.8 186.0V190.5M269.7 182.6V186.3M272.2 190.6V196.2M272.3 184.2V187.7M273.1 183.2V190.6M269.3 184.8V189.7M268.8 178.4V187.0M268.7 184.1V192.9M269.1 185.1V190.5M270.3 188.5V195.5M269.7 183.2V192.1M272.9 181.2V188.0M268.7 183.9V190.4M270.8 184.4V187.9M272.0 183.3V189.1M271.3 178.7V185.8M269.7 190.7V199.3M273.8 175.6V180.9M273.9 188.7V192.7M271.0 184.9V192.7M272.4 181.7V186.0M270.7 185.4V190.4M269.6 183.6V189.7M269.6 178.7V186.6M269.6 182.6V190.5M273.9 187.5V195.7M273.7 188.0V196.1M268.8 182.0V186.4M268.6 187.1V194.5M270.0 179.9V185.4M269.4 176.9V182.1M268.7 176.7V180.9M270.5 189.1V195.3M269.1 181.3V185.0M269.3 182.7V192.7M273.5 178.7V187.3M271.1 185.9V189.7M271.6 182.0V188.6M269.7 182.3V191.7M272.4 182.9V192.6M273.9 178.8V184.5M273.0 184.8V193.7M269.2 185.9V193.0M270.6 185.7V188.7M273.1 186.3V189.6M273.4 179.7V186.5M268.9 180.2V189.4M271.2 187.8V195.3M269.6 184.5V190.2M269.1 191.2V198.4M269.2 184.7V191.8M272.0 186.8V194.8M270.9 190.6V194.0M271.1 186.5V192.3M272.2 182.6V190.2M272.3 181.3V187.6M269.3 189.4V192.8M269.8 179.4V189.3M269.8 177.7V186.4M272.0 186.9V195.1M268.7 190.9V199.5M268.7 190.8V194.1M269.8 185.4V193.1M273.6 182.2V189.7M273.6 185.3V188.4M272.7 187.2V190.9M273.9 182.1V190.7M269.4 181.5V188.0M269.1 184.0V193.4M268.5 175.2V184.1M271.6 185.2V192.5M271.8 178.9V187.5M268.9 188.7V193.8M270.7 187.0V190.0M272.6 189.4V198.0M271.0 186.1V189.9M272.1 186.1V189.9M273.9 187.3V194.1M270.4 187.4V196.3M273.2 188.4V192.1M270.5 183.0V187.0M271.8 187.8V197.7M272.7 186.5V190.3M272.3 183.5V190.7M271.4 191.9V199.2M272.1 196.6V206.0M272.5 198.4V207.3M272.4 188.9V192.1M272.2 198.2V207.4M269.5 191.3V200.9M270.9 196.5V201.6M270.4 194.1V199.3M269.0 184.4V191.9M273.6 200.3V208.6M273.1 205.1V210.0M269.9 196.8V202.7M268.6 196.4V205.9M270.3 205.1V213.5M291.9 195.9V202.6M289.8 179.8V188.6M290.5 183.6V190.4M292.5 184.8V189.0M291.1 181.8V191.4M290.8 180.3V189.7M291.6 191.3V195.8M290.4 185.8V195.1M289.5 185.4V195.4M290.0 197.5V203.5M291.6 183.2V191.5M290.3 179.3V184.1M289.6 187.1V191.9M292.5 183.4V190.9M291.3 182.6V190.4M290.4 182.5V186.0M289.7 194.7V198.7M289.8 188.3V194.7M292.5 185.0V193.4M290.1 184.7V188.4M290.4 180.2V186.3M291.8 194.1V197.8M292.4 183.2V186.4M292.1 198.2V202.8M292.2 191.4V196.4M289.5 180.4V184.7M292.3 192.3V199.4M291.5 196.2V200.5M289.9 202.2V207.8M291.5 197.3V204.3M290.2 187.5V196.4M289.9 186.5V196.3M290.6 186.2V194.7M290.3 185.0V190.6M291.1 190.2V198.8M290.4 191.1V196.8M291.9 189.4V193.9M290.7 192.1V197.7M291.5 177.4V180.8M291.6 188.7V197.6M294.5 202.5V206.4M296.2 199.0V207.0M293.3 199.8V204.0M294.4 200.1V206.1M293.5 199.1V205.4M300.0 205.7V212.6M293.2 195.6V202.6M299.5 209.2V219.0M299.4 211.7V218.3M294.5 204.6V208.8M299.4 204.6V209.4M299.9 206.0V212.2M298.4 207.0V212.2M294.2 197.7V205.4M295.5 207.5V213.9M294.0 206.5V209.6M297.8 200.1V206.3M298.4 201.7V208.5M294.4 189.5V197.1M293.7 194.3V203.0M300.1 204.1V209.7M299.7 195.8V200.1M294.4 189.6V193.2M294.3 192.1V195.3M296.1 199.6V207.9M297.2 201.0V210.6M295.8 196.3V205.9M294.4 195.7V202.1M296.6 202.8V212.7M297.5 199.9V204.4M299.2 208.5V214.7M294.4 212.0V221.7M295.1 193.2V200.9M292.8 196.8V202.4M293.9 195.2V202.5M294.6 196.7V202.9M297.0 200.3V205.0M293.6 191.0V200.8M293.8 198.8V205.8M299.6 209.3V212.7M294.5 199.5V205.7M295.8 202.2V211.4M297.8 209.2V214.1M300.0 195.6V201.5M293.0 197.9V201.0M294.9 196.6V201.6M300.2 207.6V214.3M299.3 198.6V207.2M297.8 199.6V204.3M297.8 200.5V207.6M327.8 225.1V229.4M325.8 208.3V217.6M327.2 219.2V224.0M326.3 221.8V227.4M327.1 214.2V222.4M327.3 214.4V220.7M327.5 216.0V222.3M327.5 214.5V222.5M327.4 219.0V227.5M326.3 225.1V231.1M328.3 215.2V225.0M328.1 220.6V225.3M327.7 211.1V219.4M326.0 221.3V225.8M326.2 216.9V220.9M326.7 217.1V223.0M325.8 207.2V214.2M326.6 210.3V218.2M326.8 219.5V222.6M327.5 221.0V225.2M326.6 221.2V230.1M327.4 213.7V221.1M327.6 217.4V225.8M326.4 216.0V220.8M327.9 208.2V217.3M327.2 212.2V216.6" stroke="#d2bfdd" stroke-width="0.6" fill="none"/>
<path d="M40.3 81.1h0.01M40.7 77.7h0.01M41.1 75.4h0.01M41.5 83.7h0.01M42.0 86.2h0.01M42.4 81.1h0.01M42.8 77.8h0.01M43.2 81.4h0.01M43.8 82.3h0.01M44.2 85.3h0.01M44.8 80.1h0.01M45.1 81.4h0.01M45.5 76.4h0.01M45.8 82.6h0.01M46.3 83.7h0.01M46.7 78.7h0.01M47.0 83.6h0.01M47.5 84.0h0.01M47.9 81.7h0.01M48.3 88.4h0.01M48.8 78.6h0.01M49.0 81.7h0.01M49.4 82.8h0.01M49.7 79.7h0.01M50.0 86.6h0.01M50.3 82.0h0.01M50.6 78.3h0.01M51.0 84.2h0.01M51.5 88.0h0.01M52.0 85.0h0.01M52.5 82.8h0.01M53.0 83.0h0.01M53.3 84.9h0.01M53.8 84.7h0.01M54.0 88.2h0.01M54.6 81.0h0.01M55.0 81.1h0.01M55.5 78.9h0.01M56.0 79.7h0.01M56.5 83.8h0.01M56.8 85.1h0.01M57.0 86.7h0.01M57.3 81.7h0.01M57.8 85.8h0.01M58.3 82.2h0.01M58.8 87.1h0.01M59.2 87.8h0.01M59.6 86.7h0.01M60.0 84.4h0.01M60.6 81.3h0.01M60.9 88.6h0.01M61.4 87.7h0.01M61.9 86.3h0.01M62.3 91.3h0.01M62.7 85.7h0.01M63.0 91.0h0.01M63.4 87.0h0.01M63.9 89.7h0.01M64.4 88.8h0.01M64.8 92.6h0.01M65.3 95.2h0.01M65.7 92.0h0.01M66.0 93.0h0.01M66.4 91.4h0.01M66.9 95.2h0.01M67.3 89.9h0.01M67.8 91.6h0.01M68.1 90.9h0.01M68.4 93.3h0.01M68.9 94.2h0.01M69.2 96.0h0.01M69.5 89.2h0.01M69.9 92.9h0.01M70.4 97.6h0.01M70.8 96.5h0.01M71.3 95.7h0.01M71.6 98.7h0.01M72.1 96.4h0.01M72.5 95.1h0.01M72.8 97.3h0.01M73.0 101.3h0.01M73.6 97.1h0.01M74.1 97.7h0.01M74.4 97.9h0.01M74.7 102.7h0.01M75.2 99.6h0.01M75.4 94.8h0.01M75.9 94.9h0.01M76.5 98.7h0.01M76.9 98.6h0.01M77.2 97.3h0.01M77.7 104.3h0.01M77.9 96.9h0.01M78.4 103.0h0.01M78.8 97.3h0.01M79.2 104.0h0.01M79.7 106.1h0.01M80.0 99.1h0.01M80.5 99.5h0.01M81.0 95.7h0.01M81.4 99.4h0.01M82.0 100.2h0.01M82.4 96.5h0.01M82.7 98.1h0.01M83.0 98.5h0.01M83.5 104.6h0.01M84.0 105.3h0.01M84.3 96.8h0.01M84.8 100.3h0.01M85.1 96.6h0.01M85.6 105.2h0.01M85.9 108.9h0.01M86.3 101.6h0.01M86.8 104.5h0.01M87.1 109.4h0.01M87.4 107.5h0.01M88.0 107.6h0.01M88.4 102.1h0.01M88.7 107.1h0.01M89.1 109.8h0.01M89.4 105.9h0.01M89.8 106.2h0.01M90.2 106.0h0.01M90.6 103.8h0.01M90.8 116.0h0.01M91.2 108.2h0.01M91.5 106.7h0.01M91.9 102.7h0.01M92.5 106.5h0.01M92.8 107.6h0.01M93.0 100.2h0.01M93.5 104.4h0.01M93.8 104.2h0.01M94.3 105.2h0.01M94.7 101.8h0.01M95.1 100.7h0.01M95.3 118.2h0.01M95.6 105.4h0.01M95.9 114.1h0.01M96.1 103.6h0.01M96.6 101.9h0.01M96.9 100.1h0.01M97.4 107.1h0.01M97.9 106.0h0.01M98.2 108.7h0.01M98.5 110.7h0.01M98.7 108.7h0.01M99.0 108.6h0.01M99.5 110.9h0.01M100.1 117.8h0.01M100.2 116.4h0.01M100.4 114.4h0.01M100.5 111.6h0.01M100.6 106.1h0.01M100.7 108.8h0.01M100.9 105.5h0.01M101.0 111.7h0.01M101.1 112.5h0.01M101.3 107.0h0.01M101.5 117.5h0.01M101.7 109.2h0.01M101.8 108.3h0.01M101.9 103.2h0.01M102.2 119.1h0.01M102.3 111.7h0.01M102.4 110.1h0.01M102.5 112.0h0.01M102.6 107.8h0.01M102.7 112.5h0.01M102.8 114.6h0.01M102.9 113.8h0.01M103.0 116.8h0.01M103.1 107.9h0.01M103.2 108.6h0.01M103.4 113.2h0.01M103.5 106.9h0.01M103.6 111.3h0.01M103.8 110.4h0.01M104.0 111.0h0.01M104.1 111.8h0.01M104.2 114.5h0.01M104.3 118.3h0.01M104.5 116.4h0.01M104.6 112.2h0.01M104.8 115.2h0.01M105.0 105.5h0.01M105.2 119.3h0.01M105.3 115.3h0.01M105.5 111.8h0.01M105.6 112.4h0.01M105.7 112.6h0.01M105.8 119.5h0.01M105.9 117.7h0.01M106.1 113.4h0.01M106.2 116.9h0.01M106.2 108.6h0.01M106.4 112.7h0.01M106.5 114.9h0.01M106.7 116.1h0.01M106.8 117.1h0.01M107.0 110.4h0.01M107.2 115.9h0.01M107.4 114.1h0.01M107.5 110.3h0.01M107.7 116.5h0.01M107.9 106.1h0.01M108.1 122.4h0.01M108.2 111.7h0.01M108.3 112.7h0.01M108.5 113.9h0.01M108.6 120.6h0.01M108.8 113.1h0.01M109.0 115.2h0.01M109.1 113.8h0.01M109.2 106.3h0.01M109.3 112.4h0.01M109.5 117.7h0.01M109.6 113.9h0.01M109.8 119.3h0.01M109.9 113.7h0.01M110.0 116.4h0.01M110.2 116.5h0.01M110.3 119.2h0.01M110.5 117.7h0.01M110.6 117.1h0.01M110.8 121.0h0.01M110.9 114.3h0.01M111.1 118.1h0.01M111.2 119.0h0.01M111.4 115.8h0.01M111.5 113.2h0.01M111.7 126.7h0.01M111.8 118.5h0.01M111.9 112.8h0.01M112.1 117.9h0.01M112.3 117.6h0.01M112.4 112.5h0.01M112.6 120.6h0.01M112.8 115.7h0.01M112.9 109.9h0.01M113.1 118.0h0.01M113.2 115.2h0.01M113.3 106.5h0.01M113.5 116.5h0.01M113.7 113.5h0.01M113.8 114.2h0.01M113.9 112.8h0.01M114.1 119.7h0.01M114.3 112.5h0.01M114.4 116.8h0.01M114.5 115.4h0.01M114.7 116.1h0.01M114.9 119.5h0.01M115.1 116.4h0.01M115.2 112.9h0.01M115.3 115.3h0.01M115.6 112.6h0.01M115.7 116.8h0.01M115.9 111.7h0.01M116.0 125.0h0.01M116.1 113.4h0.01M116.4 120.5h0.01M116.5 112.5h0.01M116.6 119.7h0.01M116.8 119.4h0.01M117.0 120.8h0.01M117.1 122.6h0.01M117.3 114.2h0.01M117.5 119.8h0.01M117.6 120.7h0.01M117.7 114.4h0.01M117.9 114.3h0.01M118.0 112.3h0.01M118.1 121.9h0.01M118.2 121.1h0.01M118.2 113.9h0.01M118.3 117.8h0.01M118.5 124.0h0.01M118.5 120.1h0.01M118.6 120.0h0.01M118.6 111.2h0.01M118.7 117.5h0.01M118.8 119.0h0.01M118.8 115.1h0.01M118.9 125.5h0.01M119.0 123.6h0.01M119.0 126.4h0.01M119.2 121.5h0.01M119.2 118.7h0.01M119.4 119.9h0.01M119.5 120.1h0.01M119.6 115.8h0.01M119.7 119.1h0.01M119.8 122.8h0.01M119.9 112.0h0.01M119.9 119.7h0.01M120.0 122.2h0.01M120.0 118.4h0.01M120.1 117.9h0.01M120.2 120.0h0.01M120.3 120.4h0.01M120.3 122.2h0.01M120.4 122.7h0.01M120.4 124.5h0.01M120.5 112.3h0.01M120.5 122.0h0.01M120.6 112.3h0.01M120.8 126.5h0.01M120.8 117.6h0.01M120.9 120.2h0.01M121.0 117.6h0.01M121.0 121.9h0.01M121.1 114.8h0.01M121.2 119.4h0.01M121.3 116.7h0.01M121.3 118.5h0.01M121.4 117.5h0.01M121.5 125.4h0.01M121.6 119.7h0.01M121.6 121.6h0.01M121.7 119.4h0.01M121.8 124.3h0.01M121.9 122.5h0.01M122.0 122.8h0.01M122.1 115.5h0.01M122.2 123.6h0.01M122.2 118.8h0.01M122.3 118.8h0.01M122.4 121.8h0.01M122.5 121.0h0.01M122.6 124.2h0.01M122.6 121.7h0.01M122.7 120.3h0.01M122.8 118.0h0.01M122.8 124.5h0.01M122.9 115.0h0.01M123.0 124.0h0.01M123.1 122.0h0.01M123.2 121.2h0.01M123.3 119.6h0.01M123.4 121.0h0.01M123.4 123.1h0.01M123.5 120.9h0.01M123.6 114.0h0.01M123.7 117.3h0.01M123.8 123.7h0.01M123.8 119.5h0.01M123.9 114.7h0.01M124.0 118.8h0.01M124.1 121.0h0.01M124.1 121.1h0.01M124.2 124.0h0.01M124.3 117.6h0.01M124.3 121.6h0.01M124.4 125.4h0.01M124.5 126.2h0.01M124.6 125.2h0.01M124.7 127.6h0.01M124.8 124.9h0.01M124.9 124.6h0.01M124.9 124.5h0.01M125.0 128.5h0.01M125.1 120.9h0.01M125.1 124.4h0.01M125.2 128.2h0.01M125.3 126.0h0.01M125.4 120.4h0.01M125.4 123.9h0.01M125.5 116.3h0.01M125.6 116.1h0.01M125.6 129.8h0.01M125.7 124.2h0.01M125.8 128.3h0.01M125.9 115.4h0.01M126.0 122.0h0.01M126.0 125.5h0.01M126.1 118.1h0.01M126.2 129.0h0.01M126.3 126.1h0.01M126.4 117.7h0.01M126.5 125.4h0.01M126.5 126.4h0.01M126.6 113.5h0.01M126.6 127.4h0.01M126.7 123.6h0.01M126.8 123.4h0.01M126.8 122.5h0.01M126.9 129.7h0.01M127.0 120.0h0.01M127.0 117.3h0.01M127.1 120.5h0.01M127.2 122.5h0.01M127.2 132.9h0.01M127.4 122.5h0.01M127.4 124.8h0.01M127.5 122.9h0.01M127.6 128.8h0.01M127.7 123.0h0.01M127.8 127.1h0.01M127.9 125.0h0.01M128.0 120.8h0.01M128.0 128.5h0.01M128.1 126.6h0.01M128.2 126.4h0.01M128.3 124.8h0.01M128.4 126.7h0.01M128.5 125.7h0.01M128.5 130.3h0.01M128.6 123.7h0.01M128.7 126.0h0.01M128.8 125.2h0.01M128.9 123.2h0.01M129.0 123.3h0.01M129.1 126.9h0.01M129.1 125.6h0.01M129.2 124.0h0.01M129.3 126.3h0.01M129.4 129.0h0.01M129.5 129.3h0.01M129.6 121.9h0.01M129.7 121.9h0.01M129.8 131.7h0.01M129.8 125.1h0.01M129.9 115.9h0.01M129.9 118.8h0.01M130.0 123.8h0.01M130.1 127.6h0.01M130.2 130.3h0.01M130.2 131.8h0.01M130.3 130.9h0.01M130.4 124.5h0.01M130.5 127.8h0.01M130.6 127.0h0.01M130.7 126.1h0.01M130.8 126.7h0.01M130.9 125.4h0.01M130.9 124.1h0.01M131.0 126.9h0.01M131.1 129.9h0.01M131.2 128.3h0.01M131.3 128.5h0.01M131.3 130.1h0.01M131.4 132.2h0.01M131.4 126.9h0.01M131.6 129.0h0.01M131.6 127.5h0.01M131.7 126.4h0.01M131.8 132.3h0.01M131.9 120.3h0.01M132.0 124.3h0.01M132.1 124.8h0.01M132.2 129.7h0.01M132.3 124.8h0.01M132.3 133.9h0.01M132.4 123.1h0.01M132.5 125.9h0.01M132.6 123.3h0.01M132.7 127.8h0.01M132.7 135.8h0.01M132.8 127.8h0.01M132.8 128.2h0.01M132.9 128.8h0.01M133.0 131.0h0.01M133.1 126.1h0.01M133.1 116.7h0.01M133.2 121.6h0.01M133.4 132.1h0.01M133.4 129.7h0.01M133.5 129.4h0.01M133.5 130.6h0.01M133.6 121.1h0.01M133.6 122.7h0.01M133.7 126.5h0.01M133.9 126.9h0.01M133.9 129.9h0.01M134.0 132.8h0.01M134.1 124.8h0.01M134.1 134.3h0.01M134.2 132.2h0.01M134.3 129.7h0.01M134.4 125.5h0.01M134.4 126.3h0.01M134.5 129.7h0.01M134.6 128.2h0.01M134.6 129.6h0.01M134.7 130.3h0.01M134.8 122.9h0.01M134.8 127.1h0.01M134.9 128.3h0.01M135.0 125.2h0.01M135.1 130.2h0.01M135.1 117.0h0.01M135.3 129.0h0.01M135.3 129.1h0.01M135.4 131.8h0.01M135.5 128.5h0.01M135.5 133.4h0.01M135.6 130.6h0.01M135.6 130.4h0.01M135.8 131.0h0.01M135.8 129.5h0.01M135.9 125.8h0.01M135.9 130.4h0.01M136.1 124.5h0.01M136.2 134.7h0.01M136.3 131.6h0.01M136.3 121.1h0.01M136.4 134.3h0.01M136.5 128.9h0.01M136.6 133.8h0.01M136.6 125.2h0.01M136.7 142.5h0.01M136.8 131.7h0.01M136.9 127.0h0.01M137.0 120.5h0.01M137.1 130.4h0.01M137.2 121.8h0.01M137.3 125.4h0.01M137.4 131.5h0.01M137.5 127.7h0.01M137.6 138.6h0.01M137.7 137.3h0.01M137.8 132.0h0.01M137.8 131.4h0.01M137.9 128.1h0.01M138.0 121.3h0.01M138.1 129.6h0.01M138.1 129.0h0.01M138.2 143.1h0.01M138.3 131.8h0.01M138.4 133.2h0.01M138.5 133.7h0.01M138.6 128.2h0.01M138.6 130.3h0.01M138.7 132.8h0.01M138.8 141.4h0.01M138.9 130.3h0.01M138.9 132.1h0.01M139.0 130.1h0.01M139.1 131.0h0.01M139.2 126.1h0.01M139.3 119.2h0.01M139.4 120.6h0.01M139.4 136.4h0.01M139.5 131.2h0.01M139.6 130.8h0.01M139.7 128.6h0.01M139.7 133.1h0.01M139.8 132.1h0.01M139.9 130.2h0.01M140.0 126.4h0.01M140.1 141.6h0.01M140.2 119.3h0.01M140.3 123.4h0.01M140.3 130.1h0.01M140.4 127.0h0.01M140.5 127.5h0.01M140.6 127.3h0.01M140.7 124.5h0.01M140.8 132.5h0.01M140.8 136.2h0.01M140.9 129.1h0.01M141.0 135.2h0.01M141.1 138.6h0.01M141.2 132.4h0.01M141.3 130.6h0.01M141.3 133.5h0.01M141.4 134.4h0.01M141.5 129.9h0.01M141.6 132.3h0.01M141.7 124.0h0.01M141.7 132.8h0.01M141.8 128.6h0.01M141.9 131.4h0.01M141.9 133.6h0.01M142.0 137.3h0.01M142.0 130.5h0.01M142.1 134.8h0.01M142.2 133.3h0.01M142.3 136.4h0.01M142.3 128.1h0.01M142.4 133.5h0.01M142.5 133.6h0.01M142.5 128.4h0.01M142.6 139.0h0.01M142.7 131.0h0.01M142.7 132.4h0.01M142.8 128.0h0.01M142.9 138.1h0.01M143.0 133.3h0.01M143.1 123.3h0.01M143.2 133.9h0.01M143.3 129.0h0.01M143.3 126.2h0.01M143.4 133.4h0.01M143.4 125.1h0.01M143.5 134.1h0.01M143.6 133.8h0.01M143.7 131.5h0.01M143.8 127.8h0.01M143.9 140.9h0.01M144.0 132.7h0.01M144.0 146.0h0.01M144.1 133.3h0.01M144.2 136.4h0.01M144.2 128.6h0.01M144.3 138.2h0.01M144.4 127.1h0.01M144.4 128.8h0.01M144.5 132.0h0.01M144.6 134.0h0.01M144.6 130.3h0.01M144.7 128.7h0.01M144.8 132.2h0.01M144.9 131.4h0.01M145.0 140.0h0.01M145.1 124.8h0.01M145.2 136.4h0.01M145.2 134.4h0.01M145.2 132.1h0.01M145.3 135.0h0.01M145.4 128.5h0.01M145.5 134.8h0.01M145.5 131.4h0.01M145.6 135.8h0.01M145.7 122.9h0.01M145.8 132.6h0.01M145.9 131.3h0.01M146.0 132.8h0.01M146.1 136.8h0.01M146.1 137.1h0.01M146.2 131.7h0.01M146.3 132.9h0.01M146.4 134.6h0.01M146.5 138.0h0.01M146.5 136.7h0.01M146.6 135.0h0.01M146.7 132.0h0.01M146.8 133.0h0.01M146.9 138.1h0.01M146.9 125.3h0.01M147.0 135.0h0.01M147.0 132.9h0.01M147.1 143.5h0.01M147.1 124.7h0.01M147.3 127.5h0.01M147.3 131.9h0.01M147.4 138.6h0.01M147.5 133.9h0.01M147.6 136.0h0.01M147.7 130.3h0.01M147.7 131.7h0.01M147.8 138.5h0.01M147.9 138.9h0.01M148.0 139.7h0.01M148.1 144.0h0.01M148.1 135.8h0.01M148.2 136.3h0.01M148.3 138.4h0.01M148.4 138.1h0.01M148.4 136.3h0.01M148.5 139.1h0.01M148.6 125.4h0.01M148.7 134.8h0.01M148.8 128.8h0.01M148.9 132.1h0.01M149.0 139.4h0.01M149.0 135.9h0.01M149.1 132.2h0.01M149.2 133.6h0.01M149.2 135.3h0.01M149.3 141.2h0.01M149.4 136.8h0.01M149.4 131.5h0.01M149.5 139.6h0.01M149.5 133.6h0.01M149.6 134.2h0.01M149.7 133.0h0.01M149.7 129.4h0.01M149.8 146.2h0.01M149.9 137.3h0.01M150.0 125.8h0.01M150.1 140.0h0.01M150.2 129.0h0.01M150.3 142.2h0.01M150.3 134.1h0.01M150.4 141.8h0.01M150.5 131.4h0.01M150.6 139.3h0.01M150.7 128.6h0.01M150.7 137.8h0.01M150.8 135.0h0.01M151.0 136.1h0.01M151.0 138.8h0.01M151.1 133.0h0.01M151.2 129.3h0.01M151.3 143.8h0.01M151.4 132.9h0.01M151.5 132.7h0.01M151.6 141.1h0.01M151.7 138.2h0.01M151.7 136.2h0.01M151.8 134.4h0.01M151.9 138.8h0.01M152.0 139.2h0.01M152.1 138.0h0.01M152.2 141.2h0.01M152.3 140.9h0.01M152.3 140.4h0.01M152.4 135.1h0.01M152.5 132.0h0.01M152.6 139.6h0.01M152.7 137.6h0.01M152.7 133.9h0.01M152.8 128.4h0.01M152.9 138.7h0.01M153.0 140.0h0.01M153.1 132.3h0.01M153.2 142.1h0.01M153.3 139.4h0.01M153.4 133.5h0.01M153.5 133.3h0.01M153.6 128.4h0.01M153.7 146.1h0.01M153.8 129.4h0.01M153.9 139.1h0.01M153.9 135.5h0.01M154.0 138.9h0.01M154.1 135.5h0.01M154.2 136.1h0.01M154.3 137.1h0.01M154.3 133.0h0.01M154.4 139.2h0.01M154.6 130.4h0.01M154.7 136.4h0.01M154.8 139.6h0.01M154.8 140.5h0.01M154.9 141.2h0.01M154.9 136.4h0.01M155.0 138.4h0.01M155.1 138.5h0.01M155.2 140.7h0.01M155.3 139.8h0.01M155.3 139.3h0.01M155.4 139.9h0.01M155.5 146.7h0.01M270.2 190.5h0.01M271.6 191.9h0.01M272.6 186.5h0.01M271.4 190.4h0.01M272.0 186.6h0.01M273.0 193.2h0.01M270.4 189.6h0.01M268.9 186.0h0.01M272.6 185.4h0.01M269.1 183.7h0.01M272.0 192.0h0.01M272.8 186.0h0.01M273.7 186.8h0.01M272.9 183.7h0.01M269.5 190.1h0.01M272.2 183.8h0.01M269.2 186.3h0.01M271.3 188.1h0.01M272.2 183.8h0.01M270.0 185.3h0.01M272.8 188.1h0.01M272.6 185.2h0.01M273.4 191.8h0.01M272.1 183.5h0.01M269.2 185.4h0.01M270.0 181.6h0.01M271.8 188.3h0.01M269.7 184.4h0.01M272.2 193.4h0.01M272.3 186.0h0.01M273.1 186.9h0.01M269.3 187.3h0.01M268.8 182.7h0.01M268.7 188.5h0.01M269.1 187.8h0.01M270.3 192.0h0.01M269.7 187.7h0.01M272.9 184.6h0.01M268.7 187.2h0.01M270.8 186.1h0.01M272.0 186.2h0.01M271.3 182.3h0.01M269.7 195.0h0.01M273.8 178.2h0.01M273.9 190.7h0.01M271.0 188.8h0.01M272.4 183.8h0.01M270.7 187.9h0.01M269.6 186.6h0.01M269.6 182.7h0.01M269.6 186.5h0.01M273.9 191.6h0.01M273.7 192.1h0.01M268.8 184.2h0.01M268.6 190.8h0.01M270.0 182.6h0.01M269.4 179.5h0.01M268.7 178.8h0.01M270.5 192.2h0.01M269.1 183.1h0.01M269.3 187.7h0.01M273.5 183.0h0.01M271.1 187.8h0.01M271.6 185.3h0.01M269.7 187.0h0.01M272.4 187.7h0.01M273.9 181.6h0.01M273.0 189.3h0.01M269.2 189.5h0.01M270.6 187.2h0.01M273.1 187.9h0.01M273.4 183.1h0.01M268.9 184.8h0.01M271.2 191.5h0.01M269.6 187.3h0.01M269.1 194.8h0.01M269.2 188.2h0.01M272.0 190.8h0.01M270.9 192.3h0.01M271.1 189.4h0.01M272.2 186.4h0.01M272.3 184.4h0.01M269.3 191.1h0.01M269.8 184.4h0.01M269.8 182.1h0.01M272.0 191.0h0.01M268.7 195.2h0.01M268.7 192.5h0.01M269.8 189.3h0.01M273.6 185.9h0.01M273.6 186.8h0.01M272.7 189.1h0.01M273.9 186.4h0.01M269.4 184.8h0.01M269.1 188.7h0.01M268.5 179.6h0.01M271.6 188.8h0.01M271.8 183.2h0.01M268.9 191.3h0.01M270.7 188.5h0.01M272.6 193.7h0.01M271.0 188.0h0.01M272.1 188.0h0.01M273.9 190.7h0.01M270.4 191.8h0.01M273.2 190.2h0.01M270.5 185.0h0.01M271.8 192.8h0.01M272.7 188.4h0.01M272.3 187.1h0.01M271.4 195.6h0.01M272.1 201.3h0.01M272.5 202.9h0.01M272.4 190.5h0.01M272.2 202.8h0.01M269.5 196.1h0.01M270.9 199.1h0.01M270.4 196.7h0.01M269.0 188.1h0.01M273.6 204.4h0.01M273.1 207.5h0.01M269.9 199.7h0.01M268.6 201.1h0.01M270.3 209.3h0.01M291.9 199.2h0.01M289.8 184.2h0.01M290.5 187.0h0.01M292.5 186.9h0.01M291.1 186.6h0.01M290.8 185.0h0.01M291.6 193.5h0.01M290.4 190.5h0.01M289.5 190.4h0.01M290.0 200.5h0.01M291.6 187.4h0.01M290.3 181.7h0.01M289.6 189.5h0.01M292.5 187.2h0.01M291.3 186.5h0.01M290.4 184.3h0.01M289.7 196.7h0.01M289.8 191.5h0.01M292.5 189.2h0.01M290.1 186.6h0.01M290.4 183.3h0.01M291.8 196.0h0.01M292.4 184.8h0.01M292.1 200.5h0.01M292.2 193.9h0.01M289.5 182.5h0.01M292.3 195.8h0.01M291.5 198.4h0.01M289.9 205.0h0.01M291.5 200.8h0.01M290.2 192.0h0.01M289.9 191.4h0.01M290.6 190.4h0.01M290.3 187.8h0.01M291.1 194.5h0.01M290.4 193.9h0.01M291.9 191.6h0.01M290.7 194.9h0.01M291.5 179.1h0.01M291.6 193.1h0.01M294.5 204.5h0.01M296.2 203.0h0.01M293.3 201.9h0.01M294.4 203.1h0.01M293.5 202.3h0.01M300.0 209.2h0.01M293.2 199.1h0.01M299.5 214.1h0.01M299.4 215.0h0.01M294.5 206.7h0.01M299.4 207.0h0.01M299.9 209.1h0.01M298.4 209.6h0.01M294.2 201.5h0.01M295.5 210.7h0.01M294.0 208.0h0.01M297.8 203.2h0.01M298.4 205.1h0.01M294.4 193.3h0.01M293.7 198.6h0.01M300.1 206.9h0.01M299.7 197.9h0.01M294.4 191.4h0.01M294.3 193.7h0.01M296.1 203.8h0.01M297.2 205.8h0.01M295.8 201.1h0.01M294.4 198.9h0.01M296.6 207.7h0.01M297.5 202.2h0.01M299.2 211.6h0.01M294.4 216.8h0.01M295.1 197.0h0.01M292.8 199.6h0.01M293.9 198.8h0.01M294.6 199.8h0.01M297.0 202.6h0.01M293.6 195.9h0.01M293.8 202.3h0.01M299.6 211.0h0.01M294.5 202.6h0.01M295.8 206.8h0.01M297.8 211.7h0.01M300.0 198.5h0.01M293.0 199.4h0.01M294.9 199.1h0.01M300.2 211.0h0.01M299.3 202.9h0.01M297.8 201.9h0.01M297.8 204.1h0.01M327.8 227.2h0.01M325.8 212.9h0.01M327.2 221.6h0.01M326.3 224.6h0.01M327.1 218.3h0.01M327.3 217.6h0.01M327.5 219.2h0.01M327.5 218.5h0.01M327.4 223.3h0.01M326.3 228.1h0.01M328.3 220.1h0.01M328.1 223.0h0.01M327.7 215.2h0.01M326.0 223.6h0.01M326.2 218.9h0.01M326.7 220.1h0.01M325.8 210.7h0.01M326.6 214.3h0.01M326.8 221.1h0.01M327.5 223.1h0.01M326.6 225.6h0.01M327.4 217.4h0.01M327.6 221.6h0.01M326.4 218.4h0.01M327.9 212.7h0.01M327.2 214.4h0.01" stroke="#3d0a55" stroke-width="1.4" stroke-linecap="round" fill="none"/>
<path d="M84.3 58.6V59.8M84.5 59.0V60.2M84.6 58.8V60.0M84.9 58.9V60.1M85.1 58.7V59.9M85.2 57.6V58.8M85.4 60.6V61.8M85.6 58.8V60.0M85.8 59.0V60.2M86.1 59.5V60.7M86.3 59.6V60.8M86.5 59.9V61.1M86.7 60.4V61.6M87.0 60.3V61.5M87.2 60.2V61.4M87.5 59.2V60.4M87.8 60.6V61.8M88.0 61.4V62.6M88.2 60.8V62.0M88.5 61.1V62.3M88.8 60.6V61.8M89.1 61.6V62.8M89.3 60.4V61.6M89.6 60.7V61.9M90.0 61.2V62.4M90.2 60.8V62.0M90.5 61.2V62.4M90.7 61.5V62.7M91.0 62.4V63.6M91.2 62.4V63.6M91.4 61.5V62.7M91.7 62.7V63.9M91.9 62.4V63.6M92.1 62.3V63.5M92.4 62.7V63.9M92.8 62.5V63.7M93.0 63.1V64.3M93.2 64.3V65.5M93.4 63.8V65.0M93.8 64.9V66.1M94.1 65.1V66.3M94.3 64.0V65.2M94.5 64.4V65.6M94.8 64.4V65.6M95.0 65.3V66.5M95.2 64.9V66.1M95.6 65.3V66.5M95.8 64.6V65.8M96.0 64.4V65.6M96.2 65.1V66.3M96.5 64.3V65.5M96.7 65.1V66.3M96.9 64.9V66.1M97.1 65.8V67.0M97.4 65.6V66.8M97.7 66.1V67.3M98.0 65.8V67.0M98.3 65.2V66.4M98.6 66.6V67.8M98.8 65.7V66.9M99.1 65.8V67.0M99.2 65.8V67.0M99.6 66.6V67.8M99.9 66.3V67.5M100.2 66.5V67.7M100.6 67.0V68.2M100.9 66.8V68.0M101.1 67.2V68.4M101.3 67.4V68.6M101.5 67.3V68.5M101.9 67.7V68.9M102.0 67.8V69.0M102.2 66.7V67.9M102.4 67.6V68.8M102.6 68.0V69.2M102.9 67.5V68.7M103.0 68.2V69.4M103.2 69.7V70.9M103.4 68.3V69.5M103.8 67.4V68.6M104.1 69.5V70.7M104.3 68.7V69.9M104.6 68.8V70.0M104.8 68.2V69.4M104.9 69.5V70.7M105.3 69.4V70.6M105.5 69.6V70.8M105.8 70.2V71.4M106.2 70.6V71.8M106.4 71.0V72.2M106.6 70.3V71.5M106.8 69.9V71.1M107.1 71.1V72.3M107.4 69.8V71.0M107.5 71.0V72.2M107.9 70.4V71.6M108.3 70.9V72.1M108.6 72.6V73.8M108.9 71.5V72.7M109.1 72.3V73.5M109.3 72.4V73.6M109.7 72.5V73.7M110.0 71.6V72.8M110.3 71.7V72.9M110.5 73.5V74.7M110.9 72.2V73.4M111.3 72.8V74.0M111.5 71.8V73.0M111.8 72.1V73.3M112.0 73.6V74.8M112.2 72.4V73.6M112.5 73.9V75.1M112.8 73.7V74.9M113.0 72.2V73.4M113.4 73.1V74.3M113.7 72.4V73.6M113.9 73.8V75.0M114.2 72.9V74.1M114.4 73.7V74.9M114.8 72.7V73.9M115.0 73.5V74.7M115.1 74.2V75.4M115.4 74.9V76.1M115.6 74.2V75.4M115.7 75.0V76.2M115.9 74.6V75.8M116.2 73.6V74.8M116.6 75.3V76.5M116.8 74.1V75.3M117.1 74.2V75.4M117.5 75.3V76.5M117.8 75.1V76.3M118.1 76.4V77.6M118.5 76.5V77.7M118.8 75.7V76.9M119.1 76.5V77.7M119.4 76.8V78.0M119.7 77.3V78.5M120.1 76.9V78.1M120.5 76.9V78.1M120.6 76.8V78.0M120.9 77.1V78.3M121.2 78.1V79.3M121.6 78.1V79.3M121.9 77.6V78.8M122.2 78.3V79.5M122.6 78.4V79.6M123.0 79.5V80.7M123.2 77.9V79.1M123.6 79.3V80.5M123.8 78.7V79.9M124.2 79.5V80.7M124.4 78.5V79.7M124.7 79.1V80.3M124.9 81.8V83.0M125.2 78.9V80.1M125.5 80.2V81.4M125.8 81.0V82.2M126.1 80.4V81.6M126.5 79.9V81.1M126.7 81.0V82.2M127.1 80.6V81.8M127.5 81.4V82.6M127.8 80.7V81.9M128.1 81.5V82.7M128.5 81.8V83.0M128.7 81.0V82.2M129.0 81.2V82.4M129.2 80.9V82.1M129.4 81.6V82.8M129.5 81.2V82.4M129.9 82.6V83.8M130.1 82.0V83.2M130.3 82.8V84.0M130.6 82.5V83.7M130.9 82.1V83.3M131.2 82.5V83.7M131.5 81.8V83.0M131.8 83.5V84.7M131.9 81.8V83.0M132.3 82.9V84.1M132.5 83.3V84.5M132.8 83.3V84.5M133.1 83.3V84.5M133.4 84.3V85.5M133.7 83.9V85.1M133.9 84.1V85.3M134.2 84.4V85.6M134.5 84.1V85.3M134.7 84.6V85.8M134.9 84.5V85.7M135.2 84.9V86.1M135.4 83.9V85.1M135.7 84.6V85.8M136.0 85.2V86.4M136.2 84.4V85.6M136.5 84.8V86.0M136.7 84.9V86.1M137.0 85.1V86.3M137.2 84.5V85.7M137.5 84.1V85.3M137.8 85.2V86.4M137.9 85.0V86.2M138.1 84.0V85.2M138.5 84.5V85.7M138.8 84.0V85.2M139.1 84.1V85.3M139.4 84.9V86.1M139.7 84.2V85.4M140.0 83.9V85.1M140.2 84.0V85.2M140.6 85.6V86.8M140.9 84.7V85.9M141.3 84.6V85.8M141.5 84.9V86.1M141.7 85.4V86.6M142.1 85.4V86.6M142.3 85.3V86.5M142.6 85.0V86.2M143.0 85.7V86.9M143.2 84.6V85.8M143.5 85.7V86.9M143.8 85.7V86.9M144.1 86.6V87.8M144.4 86.2V87.4M144.7 86.9V88.1M144.9 87.0V88.2M145.1 86.1V87.3M145.4 86.7V87.9M145.7 86.4V87.6M145.9 86.8V88.0M146.2 87.0V88.2M146.4 87.0V88.2M146.6 87.2V88.4M146.9 86.9V88.1M147.3 86.1V87.3M147.6 87.6V88.8M148.0 87.5V88.7M148.3 88.0V89.2M148.6 88.7V89.9M148.9 88.9V90.1M149.2 88.8V90.0M149.5 88.4V89.6M149.7 88.3V89.5M149.9 89.3V90.5M150.2 88.6V89.8M150.3 88.7V90.0M150.6 88.9V90.2M151.0 89.2V90.5M151.4 88.7V89.9M151.6 88.5V89.8M151.8 89.2V90.4M152.2 89.8V91.1M152.4 88.9V90.2M152.6 89.3V90.5M152.9 89.4V90.7M153.1 88.2V89.4M153.3 88.8V90.1M153.5 89.2V90.5M153.8 88.3V89.6M154.2 88.7V90.0M154.4 88.8V90.1M154.8 90.0V91.4M155.1 88.3V89.6M155.3 89.6V90.9M155.6 90.0V91.3M155.7 89.9V91.2M156.0 88.7V90.0M156.2 89.9V91.3M156.5 89.3V90.7M156.8 90.0V91.3M157.2 89.7V91.0M157.6 91.2V92.6M157.8 90.3V91.7M158.0 90.6V92.0M158.4 92.3V93.7M158.7 92.0V93.4M159.0 89.6V91.1M159.3 91.4V92.9M159.6 91.1V92.5M159.8 92.0V93.5M160.0 91.1V92.6M160.4 93.0V94.5M160.7 92.6V94.0M160.9 91.9V93.4M161.3 91.1V92.6M161.6 90.7V92.2M161.7 92.6V94.1M162.1 92.4V93.9M162.3 92.3V93.8M162.6 91.1V92.6M162.8 92.4V93.9M163.2 91.9V93.4M163.5 91.9V93.4M163.8 92.3V93.9M164.0 93.1V94.6M164.2 93.5V95.1M164.6 91.5V93.1M164.9 91.3V92.8M165.2 91.9V93.5M165.5 92.9V94.5M165.9 92.1V93.7M166.2 93.4V95.0M166.3 93.4V95.0M166.7 94.6V96.2M166.9 93.5V95.1M167.3 93.6V95.2M167.5 93.7V95.4M167.7 93.2V94.8M168.0 93.0V94.7M168.2 94.1V95.7M168.3 92.1V93.8M168.6 92.3V94.0M168.9 93.7V95.3M169.2 93.9V95.6M169.4 93.4V95.1M169.7 94.0V95.7M170.0 94.1V95.8M170.2 94.7V96.4M170.5 95.4V97.1M170.8 94.2V95.9M171.0 95.8V97.5M171.4 93.1V94.9M171.8 93.5V95.3M172.1 93.6V95.4M172.3 94.8V96.6M172.5 96.3V98.1M172.8 94.8V96.6M173.2 95.8V97.6M173.5 96.8V98.6M173.9 96.7V98.5M174.2 96.3V98.1M174.5 96.3V98.2M174.7 97.1V98.9M175.0 96.4V98.2M175.2 97.1V98.9M175.5 97.3V99.1M175.7 96.3V98.2M176.1 96.3V98.2M176.5 99.1V101.0M176.6 96.3V98.1M176.9 97.1V99.0M177.2 98.1V100.0M177.4 98.4V100.3M177.6 98.1V100.0M177.8 99.5V101.4M178.2 98.3V100.2M178.6 98.1V100.0M178.9 97.5V99.4M179.2 98.7V100.6M179.5 98.7V100.6M179.9 99.0V101.0M180.1 99.8V101.7M180.2 99.5V101.4M180.5 99.8V101.8M180.7 100.5V102.4M181.1 99.2V101.2M181.5 98.9V100.9M181.9 99.6V101.6M182.0 99.1V101.1M182.2 98.5V100.5M182.4 101.3V103.3M182.7 101.3V103.3M183.1 100.8V102.8M183.4 100.9V103.0M183.6 100.9V102.9M183.8 101.3V103.3M184.1 100.9V103.0M184.4 102.0V104.1M184.6 100.8V102.9M185.0 100.6V102.6M185.1 102.3V104.3M185.5 102.1V104.1M185.8 101.7V103.8M186.1 102.2V104.3M186.4 102.4V104.5M186.8 104.4V106.5M187.1 101.8V104.0M187.4 102.6V104.8M187.7 103.1V105.2M187.9 102.5V104.7M188.1 101.7V103.9M188.3 102.7V104.9M188.6 103.0V105.2M188.8 101.2V103.3M189.1 102.2V104.4M189.4 102.2V104.4M189.5 102.3V104.5M189.8 102.5V104.7M190.0 103.8V106.0M190.3 102.6V104.8M190.6 103.0V105.2M190.9 102.0V104.2M191.1 103.9V106.1M191.4 103.2V105.4M191.7 102.0V104.2M192.0 102.4V104.6M192.2 102.5V104.7M192.4 102.6V104.9M192.7 103.1V105.4M193.0 102.5V104.7M193.3 103.7V106.0M193.5 103.2V105.5M193.8 103.4V105.7M194.2 102.6V104.9M194.3 102.0V104.3M194.5 104.0V106.4M194.8 104.1V106.4M195.0 102.8V105.1M195.3 102.9V105.2M195.5 104.3V106.6M195.8 104.1V106.5M196.1 104.1V106.4M196.4 104.7V107.1M196.7 105.4V107.7M196.9 104.9V107.3M197.1 103.7V106.0M197.2 104.6V107.0M197.6 105.3V107.7M197.8 104.7V107.1M198.1 105.2V107.6M198.4 106.2V108.6M198.7 105.8V108.2M199.0 106.1V108.6M199.3 106.5V109.0M199.6 106.2V108.7M199.9 107.0V109.5M200.2 107.9V110.4M200.5 106.4V108.8M200.9 109.0V111.5M201.1 107.7V110.2M201.3 107.9V110.4M201.6 106.8V109.3M202.0 106.0V108.5M202.2 106.8V109.3M202.4 105.5V108.1M202.6 108.1V110.7M202.9 107.4V109.9M203.2 106.6V109.2M203.5 106.1V108.6M203.7 107.8V110.3M203.9 106.7V109.2M204.1 106.5V109.0M204.4 105.0V107.5M204.5 107.7V110.2M204.7 105.7V108.2M205.0 106.6V109.2M205.1 106.6V109.2M205.4 108.8V111.4M205.6 104.6V107.2M206.0 107.2V109.8M206.3 105.1V107.7M206.7 105.6V108.2M207.0 105.3V107.9M207.2 106.1V108.7M207.4 107.1V109.7M207.6 106.1V108.7M207.8 107.2V109.9M208.1 106.3V109.0M208.3 107.5V110.1M208.6 108.0V110.7M208.9 108.7V111.3M209.2 107.3V109.9M209.5 106.2V108.9M209.7 108.8V111.5M209.9 107.4V110.1M210.2 106.7V109.4M210.5 108.8V111.6M210.8 108.0V110.7M211.0 107.5V110.2M211.3 107.9V110.6M211.6 109.1V111.9M212.0 108.6V111.4M212.3 109.2V112.0M212.6 108.1V110.9M212.9 107.7V110.4M213.2 109.8V112.6M213.3 109.4V112.2M213.7 107.9V110.7M214.1 109.3V112.1M214.4 109.8V112.6M214.6 110.7V113.5M215.0 109.9V112.7M215.2 109.0V111.8M215.4 108.7V111.5M215.8 110.4V113.3M216.2 111.1V113.9M216.4 109.7V112.5M216.6 111.1V113.9M216.8 110.4V113.3M217.1 112.2V115.1M217.3 109.6V112.5M217.7 111.3V114.2M217.9 109.9V112.8M218.2 110.2V113.1M218.6 110.9V113.8M218.8 109.5V112.4M219.0 111.3V114.2M219.2 109.8V112.7M219.4 111.1V114.1M219.6 110.6V113.6M219.9 109.7V112.7M220.2 110.8V113.7M220.5 111.0V114.0M220.8 110.8V113.8M221.2 111.9V114.9M221.6 111.7V114.7M221.9 113.2V116.2M222.1 113.0V116.0M222.4 112.7V115.7M222.7 112.3V115.3M222.9 113.0V116.0M223.2 112.5V115.5M223.5 114.2V117.3M223.7 114.7V117.8M224.1 114.3V117.4M224.3 113.8V116.8M224.4 114.3V117.3M224.8 115.4V118.5M225.1 114.6V117.7M225.4 115.9V119.0M225.6 115.7V118.8M225.9 114.6V117.7M226.2 114.7V117.8M226.5 114.7V117.8M226.7 117.3V120.5M226.9 116.2V119.3M227.3 115.1V118.3M227.5 115.6V118.7M227.6 116.5V119.6M227.8 117.1V120.3M228.0 116.9V120.0M228.3 115.9V119.1" stroke="#0c0c8a" stroke-opacity="0.35" stroke-width="0.5" fill="none"/><path d="M84.3 59.2h0.01M84.5 59.6h0.01M84.6 59.4h0.01M84.9 59.5h0.01M85.1 59.3h0.01M85.2 58.2h0.01M85.4 61.2h0.01M85.6 59.4h0.01M85.8 59.6h0.01M86.1 60.1h0.01M86.3 60.2h0.01M86.5 60.5h0.01M86.7 61.0h0.01M87.0 60.9h0.01M87.2 60.8h0.01M87.5 59.8h0.01M87.8 61.2h0.01M88.0 62.0h0.01M88.2 61.4h0.01M88.5 61.7h0.01M88.8 61.2h0.01M89.1 62.2h0.01M89.3 61.0h0.01M89.6 61.3h0.01M90.0 61.8h0.01M90.2 61.4h0.01M90.5 61.8h0.01M90.7 62.1h0.01M91.0 63.0h0.01M91.2 63.0h0.01M91.4 62.1h0.01M91.7 63.3h0.01M91.9 63.0h0.01M92.1 62.9h0.01M92.4 63.3h0.01M92.8 63.1h0.01M93.0 63.7h0.01M93.2 64.9h0.01M93.4 64.4h0.01M93.8 65.5h0.01M94.1 65.7h0.01M94.3 64.6h0.01M94.5 65.0h0.01M94.8 65.0h0.01M95.0 65.9h0.01M95.2 65.5h0.01M95.6 65.9h0.01M95.8 65.2h0.01M96.0 65.0h0.01M96.2 65.7h0.01M96.5 64.9h0.01M96.7 65.7h0.01M96.9 65.5h0.01M97.1 66.4h0.01M97.4 66.2h0.01M97.7 66.7h0.01M98.0 66.4h0.01M98.3 65.8h0.01M98.6 67.2h0.01M98.8 66.3h0.01M99.1 66.4h0.01M99.2 66.4h0.01M99.6 67.2h0.01M99.9 66.9h0.01M100.2 67.1h0.01M100.6 67.6h0.01M100.9 67.4h0.01M101.1 67.8h0.01M101.3 68.0h0.01M101.5 67.9h0.01M101.9 68.3h0.01M102.0 68.4h0.01M102.2 67.3h0.01M102.4 68.2h0.01M102.6 68.6h0.01M102.9 68.1h0.01M103.0 68.8h0.01M103.2 70.3h0.01M103.4 68.9h0.01M103.8 68.0h0.01M104.1 70.1h0.01M104.3 69.3h0.01M104.6 69.4h0.01M104.8 68.8h0.01M104.9 70.1h0.01M105.3 70.0h0.01M105.5 70.2h0.01M105.8 70.8h0.01M106.2 71.2h0.01M106.4 71.6h0.01M106.6 70.9h0.01M106.8 70.5h0.01M107.1 71.7h0.01M107.4 70.4h0.01M107.5 71.6h0.01M107.9 71.0h0.01M108.3 71.5h0.01M108.6 73.2h0.01M108.9 72.1h0.01M109.1 72.9h0.01M109.3 73.0h0.01M109.7 73.1h0.01M110.0 72.2h0.01M110.3 72.3h0.01M110.5 74.1h0.01M110.9 72.8h0.01M111.3 73.4h0.01M111.5 72.4h0.01M111.8 72.7h0.01M112.0 74.2h0.01M112.2 73.0h0.01M112.5 74.5h0.01M112.8 74.3h0.01M113.0 72.8h0.01M113.4 73.7h0.01M113.7 73.0h0.01M113.9 74.4h0.01M114.2 73.5h0.01M114.4 74.3h0.01M114.8 73.3h0.01M115.0 74.1h0.01M115.1 74.8h0.01M115.4 75.5h0.01M115.6 74.8h0.01M115.7 75.6h0.01M115.9 75.2h0.01M116.2 74.2h0.01M116.6 75.9h0.01M116.8 74.7h0.01M117.1 74.8h0.01M117.5 75.9h0.01M117.8 75.7h0.01M118.1 77.0h0.01M118.5 77.1h0.01M118.8 76.3h0.01M119.1 77.1h0.01M119.4 77.4h0.01M119.7 77.9h0.01M120.1 77.5h0.01M120.5 77.5h0.01M120.6 77.4h0.01M120.9 77.7h0.01M121.2 78.7h0.01M121.6 78.7h0.01M121.9 78.2h0.01M122.2 78.9h0.01M122.6 79.0h0.01M123.0 80.1h0.01M123.2 78.5h0.01M123.6 79.9h0.01M123.8 79.3h0.01M124.2 80.1h0.01M124.4 79.1h0.01M124.7 79.7h0.01M124.9 82.4h0.01M125.2 79.5h0.01M125.5 80.8h0.01M125.8 81.6h0.01M126.1 81.0h0.01M126.5 80.5h0.01M126.7 81.6h0.01M127.1 81.2h0.01M127.5 82.0h0.01M127.8 81.3h0.01M128.1 82.1h0.01M128.5 82.4h0.01M128.7 81.6h0.01M129.0 81.8h0.01M129.2 81.5h0.01M129.4 82.2h0.01M129.5 81.8h0.01M129.9 83.2h0.01M130.1 82.6h0.01M130.3 83.4h0.01M130.6 83.1h0.01M130.9 82.7h0.01M131.2 83.1h0.01M131.5 82.4h0.01M131.8 84.1h0.01M131.9 82.4h0.01M132.3 83.5h0.01M132.5 83.9h0.01M132.8 83.9h0.01M133.1 83.9h0.01M133.4 84.9h0.01M133.7 84.5h0.01M133.9 84.7h0.01M134.2 85.0h0.01M134.5 84.7h0.01M134.7 85.2h0.01M134.9 85.1h0.01M135.2 85.5h0.01M135.4 84.5h0.01M135.7 85.2h0.01M136.0 85.8h0.01M136.2 85.0h0.01M136.5 85.4h0.01M136.7 85.5h0.01M137.0 85.7h0.01M137.2 85.1h0.01M137.5 84.7h0.01M137.8 85.8h0.01M137.9 85.6h0.01M138.1 84.6h0.01M138.5 85.1h0.01M138.8 84.6h0.01M139.1 84.7h0.01M139.4 85.5h0.01M139.7 84.8h0.01M140.0 84.5h0.01M140.2 84.6h0.01M140.6 86.2h0.01M140.9 85.3h0.01M141.3 85.2h0.01M141.5 85.5h0.01M141.7 86.0h0.01M142.1 86.0h0.01M142.3 85.9h0.01M142.6 85.6h0.01M143.0 86.3h0.01M143.2 85.2h0.01M143.5 86.3h0.01M143.8 86.3h0.01M144.1 87.2h0.01M144.4 86.8h0.01M144.7 87.5h0.01M144.9 87.6h0.01M145.1 86.7h0.01M145.4 87.3h0.01M145.7 87.0h0.01M145.9 87.4h0.01M146.2 87.6h0.01M146.4 87.6h0.01M146.6 87.8h0.01M146.9 87.5h0.01M147.3 86.7h0.01M147.6 88.2h0.01M148.0 88.1h0.01M148.3 88.6h0.01M148.6 89.3h0.01M148.9 89.5h0.01M149.2 89.4h0.01M149.5 89.0h0.01M149.7 88.9h0.01M149.9 89.9h0.01M150.2 89.2h0.01M150.3 89.3h0.01M150.6 89.6h0.01M151.0 89.9h0.01M151.4 89.3h0.01M151.6 89.1h0.01M151.8 89.8h0.01M152.2 90.4h0.01M152.4 89.6h0.01M152.6 89.9h0.01M152.9 90.1h0.01M153.1 88.8h0.01M153.3 89.5h0.01M153.5 89.9h0.01M153.8 89.0h0.01M154.2 89.3h0.01M154.4 89.5h0.01M154.8 90.7h0.01M155.1 89.0h0.01M155.3 90.3h0.01M155.6 90.7h0.01M155.7 90.5h0.01M156.0 89.3h0.01M156.2 90.6h0.01M156.5 90.0h0.01M156.8 90.6h0.01M157.2 90.3h0.01M157.6 91.9h0.01M157.8 91.0h0.01M158.0 91.3h0.01M158.4 93.0h0.01M158.7 92.7h0.01M159.0 90.4h0.01M159.3 92.2h0.01M159.6 91.8h0.01M159.8 92.8h0.01M160.0 91.8h0.01M160.4 93.7h0.01M160.7 93.3h0.01M160.9 92.7h0.01M161.3 91.9h0.01M161.6 91.4h0.01M161.7 93.4h0.01M162.1 93.2h0.01M162.3 93.1h0.01M162.6 91.9h0.01M162.8 93.2h0.01M163.2 92.7h0.01M163.5 92.6h0.01M163.8 93.1h0.01M164.0 93.8h0.01M164.2 94.3h0.01M164.6 92.3h0.01M164.9 92.0h0.01M165.2 92.7h0.01M165.5 93.7h0.01M165.9 92.9h0.01M166.2 94.2h0.01M166.3 94.2h0.01M166.7 95.4h0.01M166.9 94.3h0.01M167.3 94.4h0.01M167.5 94.5h0.01M167.7 94.0h0.01M168.0 93.8h0.01M168.2 94.9h0.01M168.3 93.0h0.01M168.6 93.1h0.01M168.9 94.5h0.01M169.2 94.8h0.01M169.4 94.3h0.01M169.7 94.9h0.01M170.0 95.0h0.01M170.2 95.6h0.01M170.5 96.2h0.01M170.8 95.0h0.01M171.0 96.7h0.01M171.4 94.0h0.01M171.8 94.4h0.01M172.1 94.5h0.01M172.3 95.7h0.01M172.5 97.2h0.01M172.8 95.7h0.01M173.2 96.7h0.01M173.5 97.7h0.01M173.9 97.6h0.01M174.2 97.2h0.01M174.5 97.3h0.01M174.7 98.0h0.01M175.0 97.3h0.01M175.2 98.0h0.01M175.5 98.2h0.01M175.7 97.2h0.01M176.1 97.3h0.01M176.5 100.1h0.01M176.6 97.2h0.01M176.9 98.0h0.01M177.2 99.0h0.01M177.4 99.4h0.01M177.6 99.1h0.01M177.8 100.4h0.01M178.2 99.3h0.01M178.6 99.1h0.01M178.9 98.5h0.01M179.2 99.6h0.01M179.5 99.7h0.01M179.9 100.0h0.01M180.1 100.7h0.01M180.2 100.5h0.01M180.5 100.8h0.01M180.7 101.5h0.01M181.1 100.2h0.01M181.5 99.9h0.01M181.9 100.6h0.01M182.0 100.1h0.01M182.2 99.5h0.01M182.4 102.3h0.01M182.7 102.3h0.01M183.1 101.8h0.01M183.4 102.0h0.01M183.6 101.9h0.01M183.8 102.3h0.01M184.1 102.0h0.01M184.4 103.0h0.01M184.6 101.8h0.01M185.0 101.6h0.01M185.1 103.3h0.01M185.5 103.1h0.01M185.8 102.8h0.01M186.1 103.3h0.01M186.4 103.5h0.01M186.8 105.4h0.01M187.1 102.9h0.01M187.4 103.7h0.01M187.7 104.1h0.01M187.9 103.6h0.01M188.1 102.8h0.01M188.3 103.8h0.01M188.6 104.1h0.01M188.8 102.3h0.01M189.1 103.3h0.01M189.4 103.3h0.01M189.5 103.4h0.01M189.8 103.6h0.01M190.0 104.9h0.01M190.3 103.7h0.01M190.6 104.1h0.01M190.9 103.1h0.01M191.1 105.0h0.01M191.4 104.3h0.01M191.7 103.1h0.01M192.0 103.5h0.01M192.2 103.6h0.01M192.4 103.8h0.01M192.7 104.3h0.01M193.0 103.6h0.01M193.3 104.9h0.01M193.5 104.4h0.01M193.8 104.6h0.01M194.2 103.8h0.01M194.3 103.2h0.01M194.5 105.2h0.01M194.8 105.2h0.01M195.0 103.9h0.01M195.3 104.0h0.01M195.5 105.4h0.01M195.8 105.3h0.01M196.1 105.2h0.01M196.4 105.9h0.01M196.7 106.5h0.01M196.9 106.1h0.01M197.1 104.9h0.01M197.2 105.8h0.01M197.6 106.5h0.01M197.8 105.9h0.01M198.1 106.4h0.01M198.4 107.4h0.01M198.7 107.0h0.01M199.0 107.3h0.01M199.3 107.8h0.01M199.6 107.4h0.01M199.9 108.2h0.01M200.2 109.2h0.01M200.5 107.6h0.01M200.9 110.2h0.01M201.1 109.0h0.01M201.3 109.1h0.01M201.6 108.0h0.01M202.0 107.3h0.01M202.2 108.0h0.01M202.4 106.8h0.01M202.6 109.4h0.01M202.9 108.6h0.01M203.2 107.9h0.01M203.5 107.3h0.01M203.7 109.0h0.01M203.9 107.9h0.01M204.1 107.8h0.01M204.4 106.2h0.01M204.5 109.0h0.01M204.7 106.9h0.01M205.0 107.9h0.01M205.1 107.9h0.01M205.4 110.1h0.01M205.6 105.9h0.01M206.0 108.5h0.01M206.3 106.4h0.01M206.7 106.9h0.01M207.0 106.6h0.01M207.2 107.4h0.01M207.4 108.4h0.01M207.6 107.4h0.01M207.8 108.6h0.01M208.1 107.6h0.01M208.3 108.8h0.01M208.6 109.3h0.01M208.9 110.0h0.01M209.2 108.6h0.01M209.5 107.6h0.01M209.7 110.2h0.01M209.9 108.7h0.01M210.2 108.1h0.01M210.5 110.2h0.01M210.8 109.4h0.01M211.0 108.9h0.01M211.3 109.3h0.01M211.6 110.5h0.01M212.0 110.0h0.01M212.3 110.6h0.01M212.6 109.5h0.01M212.9 109.1h0.01M213.2 111.2h0.01M213.3 110.8h0.01M213.7 109.3h0.01M214.1 110.7h0.01M214.4 111.2h0.01M214.6 112.1h0.01M215.0 111.3h0.01M215.2 110.4h0.01M215.4 110.1h0.01M215.8 111.9h0.01M216.2 112.5h0.01M216.4 111.1h0.01M216.6 112.5h0.01M216.8 111.8h0.01M217.1 113.6h0.01M217.3 111.1h0.01M217.7 112.8h0.01M217.9 111.3h0.01M218.2 111.6h0.01M218.6 112.3h0.01M218.8 110.9h0.01M219.0 112.8h0.01M219.2 111.2h0.01M219.4 112.6h0.01M219.6 112.1h0.01M219.9 111.2h0.01M220.2 112.3h0.01M220.5 112.5h0.01M220.8 112.3h0.01M221.2 113.4h0.01M221.6 113.2h0.01M221.9 114.7h0.01M222.1 114.5h0.01M222.4 114.2h0.01M222.7 113.8h0.01M222.9 114.5h0.01M223.2 114.0h0.01M223.5 115.8h0.01M223.7 116.2h0.01M224.1 115.8h0.01M224.3 115.3h0.01M224.4 115.8h0.01M224.8 116.9h0.01M225.1 116.2h0.01M225.4 117.5h0.01M225.6 117.2h0.01M225.9 116.1h0.01M226.2 116.3h0.01M226.5 116.3h0.01M226.7 118.9h0.01M226.9 117.8h0.01M227.3 116.7h0.01M227.5 117.1h0.01M227.6 118.0h0.01M227.8 118.7h0.01M228.0 118.4h0.01M228.3 117.5h0.01" stroke="#0c0c8a" stroke-width="1.45" stroke-linecap="round" fill="none"/><path d="M237.4 123.7h0.01M239.4 124.9h0.01M240.9 126.8h0.01M242.2 127.7h0.01M244.1 127.1h0.01M245.5 126.3h0.01M247.0 127.0h0.01M248.3 128.2h0.01M249.7 128.4h0.01M250.8 127.6h0.01M252.1 128.2h0.01M253.5 130.3h0.01M254.9 130.0h0.01M256.8 130.7h0.01M258.0 132.3h0.01M259.7 131.8h0.01M261.1 131.9h0.01M262.3 133.4h0.01M264.1 133.0h0.01M265.5 134.3h0.01M266.7 134.6h0.01M268.7 135.0h0.01M270.2 135.0h0.01M271.7 136.8h0.01M273.3 137.7h0.01M275.0 137.8h0.01M276.1 139.5h0.01M277.8 139.4h0.01M279.1 140.2h0.01M280.6 140.6h0.01M282.2 141.3h0.01M283.4 140.6h0.01M284.9 142.7h0.01M286.5 142.4h0.01M287.8 141.7h0.01M289.2 143.4h0.01M290.9 142.3h0.01M292.3 141.4h0.01M294.1 144.4h0.01M295.8 144.1h0.01M296.8 143.6h0.01M298.8 143.4h0.01" stroke="#0c0c8a" stroke-width="1.9" stroke-linecap="round" fill="none"/>
<path d="M84.3 41.6V42.8M84.6 43.1V44.3M84.8 42.3V43.5M85.2 42.1V43.3M85.6 41.9V43.1M85.8 43.1V44.3M85.9 42.5V43.7M86.2 43.1V44.3M86.5 43.1V44.3M86.6 43.3V44.5M86.9 43.6V44.8M87.2 44.2V45.4M87.6 42.9V44.1M87.9 43.7V44.9M88.3 43.3V44.5M88.6 43.9V45.1M88.8 43.6V44.8M89.2 43.5V44.7M89.6 44.2V45.4M89.7 44.3V45.5M90.1 44.2V45.4M90.3 45.4V46.6M90.6 46.4V47.6M90.9 45.6V46.8M91.2 45.3V46.5M91.5 45.9V47.1M91.9 46.6V47.8M92.1 45.7V46.9M92.3 46.5V47.7M92.6 46.8V48.0M92.8 45.9V47.1M93.0 46.7V47.9M93.4 48.2V49.4M93.6 47.3V48.5M94.0 47.9V49.1M94.3 47.1V48.3M94.5 48.2V49.4M94.8 47.9V49.1M95.0 49.4V50.6M95.2 48.3V49.5M95.4 48.4V49.6M95.7 49.2V50.4M95.9 49.7V50.9M96.2 49.3V50.5M96.5 50.6V51.8M96.8 49.5V50.7M97.2 49.7V50.9M97.4 50.7V51.9M97.7 49.5V50.7M98.0 49.6V50.8M98.4 50.9V52.1M98.6 51.1V52.3M98.9 51.1V52.3M99.1 51.1V52.3M99.3 52.1V53.3M99.5 51.4V52.6M99.7 51.8V53.0M100.0 50.7V51.9M100.3 51.2V52.4M100.6 52.8V54.0M100.8 51.7V52.9M101.0 51.7V52.9M101.3 51.0V52.2M101.5 51.8V53.0M101.8 51.4V52.6M102.0 51.2V52.4M102.3 51.6V52.8M102.5 52.7V53.9M102.9 52.4V53.6M103.0 51.3V52.5M103.2 51.9V53.1M103.6 52.4V53.6M103.8 52.2V53.4M104.0 52.4V53.6M104.2 52.7V53.9M104.4 52.3V53.5M104.7 53.2V54.4M105.0 52.7V53.9M105.2 52.6V53.8M105.4 52.8V54.0M105.7 53.4V54.6M106.1 53.7V54.9M106.2 53.5V54.7M106.6 52.6V53.8M106.8 54.6V55.8M107.0 55.3V56.5M107.3 54.9V56.1M107.6 53.7V54.9M107.9 55.2V56.4M108.2 55.3V56.5M108.6 55.8V57.0M108.8 55.1V56.3M109.1 55.1V56.3M109.4 55.9V57.1M109.8 56.9V58.1M109.9 55.5V56.7M110.3 57.3V58.5M110.5 56.0V57.2M110.8 56.2V57.4M111.1 57.2V58.4M111.4 57.3V58.5M111.8 57.3V58.5M112.1 58.0V59.2M112.4 57.9V59.1M112.6 57.5V58.7M112.9 57.4V58.6M113.2 57.9V59.1M113.5 57.9V59.1M113.7 57.4V58.6M114.1 58.7V59.9M114.3 58.7V59.9M114.7 59.2V60.4M114.9 58.6V59.8M115.1 58.1V59.3M115.3 59.1V60.3M115.5 58.4V59.6M115.9 59.0V60.2M116.2 58.8V60.0M116.6 59.6V60.8M116.8 59.0V60.2M117.0 58.9V60.1M117.4 59.9V61.1M117.5 60.3V61.5M117.8 60.5V61.7M118.1 60.1V61.3M118.4 60.5V61.7M118.7 61.0V62.2M118.9 61.9V63.1M119.1 60.5V61.7M119.4 61.0V62.2M119.7 61.3V62.5M120.1 61.2V62.4M120.4 62.3V63.5M120.6 61.9V63.1M120.8 61.7V62.9M121.1 62.6V63.8M121.3 62.2V63.4M121.6 62.6V63.8M121.8 62.5V63.7M121.9 62.8V64.0M122.2 62.9V64.1M122.4 63.1V64.3M122.6 62.5V63.7M122.8 63.2V64.4M123.2 63.2V64.4M123.3 64.0V65.2M123.6 63.5V64.7M124.0 64.1V65.3M124.3 64.2V65.4M124.6 64.2V65.4M124.9 64.0V65.2M125.1 64.1V65.3M125.4 64.8V66.0M125.6 64.6V65.8M125.8 65.6V66.8M126.1 64.6V65.8M126.3 65.0V66.2M126.6 64.2V65.4M126.8 65.1V66.3M127.1 65.6V66.8M127.5 65.1V66.3M127.9 66.7V67.9M128.1 65.4V66.6M128.4 65.4V66.6M128.8 65.6V66.8M129.1 66.2V67.4M129.3 65.4V66.6M129.7 66.4V67.6M130.0 66.8V68.0M130.2 65.7V66.9M130.4 66.8V68.0M130.7 67.2V68.4M131.0 67.3V68.5M131.3 67.5V68.7M131.7 67.5V68.7M131.9 67.1V68.3M132.3 68.0V69.2M132.6 67.7V68.9M132.9 67.8V69.0M133.2 68.9V70.1M133.6 70.0V71.2M133.9 69.6V70.8M134.3 69.2V70.4M134.5 69.3V70.5M134.9 68.7V69.9M135.2 70.1V71.3M135.6 69.6V70.8M135.8 69.9V71.1M136.2 70.7V71.9M136.5 70.9V72.1M136.7 69.8V71.0M136.9 70.2V71.4M137.2 70.5V71.7M137.3 71.2V72.4M137.5 71.5V72.7M137.9 70.4V71.6M138.1 72.0V73.2M138.3 71.1V72.3M138.6 71.3V72.5M138.8 72.4V73.6M139.1 71.5V72.7M139.2 71.9V73.1M139.5 71.5V72.7M139.6 72.4V73.6M139.9 72.3V73.5M140.2 71.9V73.1M140.6 72.5V73.7M140.8 73.3V74.5M141.0 72.2V73.4M141.4 73.2V74.4M141.7 72.6V73.8M142.0 71.7V72.9M142.2 72.4V73.6M142.5 72.7V73.9M142.7 73.4V74.6M143.0 72.0V73.2M143.3 72.6V73.8M143.6 73.9V75.1M143.9 72.7V73.9M144.2 73.7V74.9M144.3 73.0V74.2M144.6 73.0V74.2M144.9 72.2V73.4M145.2 74.4V75.6M145.5 73.2V74.4M145.7 73.7V74.9M145.9 73.3V74.5M146.2 74.0V75.2M146.5 73.6V74.8M146.9 74.4V75.6M147.2 74.5V75.7M147.4 76.2V77.4M147.7 74.0V75.2M148.0 74.6V75.8M148.4 74.8V76.0M148.6 75.7V76.9M148.8 75.5V76.7M149.0 74.2V75.4M149.3 76.2V77.4M149.6 75.8V77.0M149.9 75.0V76.2M150.1 75.3V76.5M150.4 76.0V77.2M150.7 75.7V76.9M151.1 76.8V78.0M151.3 76.1V77.3M151.4 76.2V77.5M151.6 75.2V76.5M151.9 76.7V78.0M152.3 76.6V77.9M152.6 75.6V76.9M152.8 75.9V77.2M153.1 76.6V77.9M153.2 75.8V77.0M153.5 76.2V77.4M153.8 77.1V78.4M154.1 76.9V78.2M154.4 77.0V78.3M154.8 77.0V78.3M155.2 76.6V77.9M155.6 76.5V77.9M155.9 76.6V77.9M156.2 78.3V79.6M156.6 77.2V78.5M156.8 78.0V79.4M157.1 77.4V78.8M157.3 76.7V78.1M157.6 78.4V79.8M158.0 77.5V78.9M158.3 78.2V79.6M158.5 78.2V79.6M158.8 78.1V79.5M159.1 76.9V78.4M159.4 78.1V79.6M159.7 78.2V79.7M160.1 79.5V81.0M160.5 79.2V80.7M160.6 79.3V80.7M160.9 79.2V80.7M161.3 79.6V81.1M161.5 80.3V81.8M161.8 79.0V80.5M162.1 79.8V81.3M162.4 81.1V82.6M162.7 80.0V81.5M163.0 79.8V81.3M163.2 80.5V82.0M163.5 81.1V82.6M163.9 81.6V83.2M164.3 81.6V83.1M164.5 81.3V82.8M164.9 82.0V83.6M165.2 82.6V84.1M165.5 81.8V83.4M165.7 81.6V83.2M165.9 82.1V83.7M166.2 82.2V83.8M166.5 82.7V84.4M166.8 82.8V84.4M167.0 82.5V84.1M167.2 80.9V82.5M167.6 82.2V83.8M167.7 81.6V83.2M168.1 82.1V83.8M168.4 81.7V83.4M168.8 81.1V82.8M169.2 81.0V82.7M169.4 82.7V84.4M169.6 80.7V82.4M169.9 81.5V83.2M170.2 80.9V82.6M170.4 82.1V83.8M170.6 83.0V84.7M171.0 82.7V84.4M171.3 82.1V83.8M171.6 83.4V85.2M172.0 83.6V85.4M172.2 83.4V85.1M172.5 83.5V85.2M172.8 83.5V85.3M173.0 83.1V84.9M173.2 83.9V85.7M173.4 83.5V85.3M173.7 84.9V86.7M173.9 84.7V86.5M174.1 83.6V85.4M174.4 83.2V85.0M174.6 85.3V87.1M174.8 84.9V86.7M175.2 84.7V86.5M175.5 83.9V85.7M175.8 85.7V87.6M176.0 85.9V87.7M176.2 85.4V87.3M176.5 85.1V86.9M176.7 86.3V88.2M177.0 85.0V86.9M177.2 87.4V89.3M177.5 85.2V87.0M177.8 86.4V88.3M178.0 85.7V87.6M178.2 85.0V86.9M178.3 86.2V88.2M178.6 87.2V89.1M178.8 86.4V88.3M179.2 87.2V89.1M179.4 86.2V88.2M179.7 86.7V88.7M180.0 85.3V87.3M180.2 86.5V88.4M180.5 87.1V89.1M180.8 88.6V90.6M181.1 86.6V88.6M181.4 88.0V89.9M181.8 87.6V89.6M182.1 88.4V90.4M182.5 87.5V89.5M182.7 88.9V90.9M182.9 87.1V89.1M183.3 88.7V90.7M183.5 89.7V91.8M183.8 89.0V91.1M184.1 90.0V92.1M184.3 89.3V91.4M184.5 88.8V90.9M184.8 87.5V89.6M185.2 88.4V90.5M185.5 89.0V91.1M185.6 89.6V91.7M185.9 88.7V90.8M186.3 89.2V91.4M186.6 89.3V91.4M186.8 90.6V92.7M187.2 89.3V91.5M187.4 89.8V91.9M187.6 90.1V92.2M187.9 91.5V93.6M188.3 90.4V92.6M188.4 90.8V93.0M188.6 90.4V92.6M189.0 92.6V94.8M189.2 91.8V93.9M189.5 90.9V93.1M189.8 92.2V94.4M190.1 92.2V94.4M190.4 90.9V93.2M190.8 93.6V95.8M191.0 93.4V95.6M191.3 92.9V95.1M191.5 93.4V95.6M191.7 92.8V95.0M192.0 92.0V94.3M192.3 92.0V94.3M192.5 92.6V94.9M192.8 92.8V95.1M193.1 92.1V94.4M193.5 91.4V93.7M193.8 91.6V93.9M194.0 91.3V93.6M194.2 93.2V95.5M194.5 91.7V94.0M194.8 92.5V94.8M195.0 92.3V94.6M195.4 92.8V95.1M195.8 92.0V94.3M196.1 91.9V94.2M196.3 91.4V93.8M196.6 91.8V94.2M196.9 93.6V96.0M197.2 91.2V93.5M197.6 92.1V94.5M197.9 93.1V95.5M198.2 93.2V95.6M198.4 92.5V95.0M198.7 93.3V95.8M199.0 94.1V96.5M199.3 95.4V97.8M199.6 93.9V96.3M199.9 94.3V96.8M200.1 94.4V96.8M200.4 94.5V97.0M200.7 94.8V97.2M200.9 93.5V96.0M201.3 94.6V97.1M201.5 94.5V97.0M201.8 95.0V97.5M202.1 94.6V97.1M202.3 95.9V98.4M202.6 95.8V98.3M202.9 96.1V98.6M203.1 96.7V99.3M203.5 95.8V98.4M203.7 96.0V98.5M203.9 95.5V98.1M204.3 97.7V100.3M204.6 96.0V98.6M204.8 94.7V97.3M205.1 98.3V100.9M205.2 95.6V98.2M205.4 96.1V98.7M205.7 97.0V99.6M206.1 98.3V100.9M206.3 96.9V99.5M206.5 97.3V99.9M206.7 96.4V99.0M206.8 96.5V99.1M207.0 97.2V99.8M207.2 96.0V98.7M207.5 96.5V99.1M207.8 97.2V99.8M208.0 95.5V98.2M208.4 97.3V99.9M208.6 95.8V98.5M208.9 98.3V100.9M209.2 98.4V101.1M209.3 98.7V101.4M209.5 96.1V98.8M209.8 97.1V99.8M210.2 98.1V100.9M210.4 95.7V98.4M210.6 97.1V99.8M210.9 94.8V97.5M211.1 98.4V101.1M211.5 98.1V100.8M211.6 97.6V100.3M211.8 96.9V99.7M212.2 97.6V100.4M212.3 96.5V99.3M212.5 96.7V99.4M212.7 98.2V101.0M213.1 97.4V100.1M213.3 96.7V99.5M213.6 100.2V103.0M214.0 99.6V102.4M214.3 98.9V101.8M214.6 101.0V103.8M215.0 101.1V103.9M215.3 99.7V102.5M215.7 99.9V102.7M215.9 100.5V103.4M216.1 98.7V101.6M216.4 98.9V101.8M216.6 101.1V104.0M217.0 99.0V101.9M217.3 101.4V104.3M217.6 99.8V102.7M217.8 101.4V104.3M218.0 101.8V104.7M218.4 101.0V103.9M218.6 102.3V105.3M219.0 99.5V102.5M219.2 99.4V102.4M219.5 98.3V101.2M219.6 100.8V103.7M219.9 99.3V102.3M220.3 99.8V102.7M220.7 100.1V103.1M220.9 100.4V103.4M221.3 100.2V103.2M221.6 100.3V103.3M222.0 100.9V103.9M222.3 100.1V103.1M222.6 100.4V103.5M222.9 102.0V105.0M223.1 101.1V104.1M223.5 103.3V106.4M223.9 103.1V106.2M224.2 103.3V106.4M224.5 102.4V105.5M224.7 102.9V106.0M225.1 103.4V106.4M225.3 103.3V106.3M225.5 101.9V105.0M225.7 101.3V104.4M226.0 103.3V106.4M226.4 102.0V105.1M226.8 103.4V106.5M227.0 104.5V107.7M227.2 103.9V107.0M227.4 103.7V106.8M227.8 104.4V107.5M228.0 105.6V108.8M228.4 103.7V106.8" stroke="#148214" stroke-opacity="0.35" stroke-width="0.5" fill="none"/><path d="M84.3 42.2h0.01M84.6 43.7h0.01M84.8 42.9h0.01M85.2 42.7h0.01M85.6 42.5h0.01M85.8 43.7h0.01M85.9 43.1h0.01M86.2 43.7h0.01M86.5 43.7h0.01M86.6 43.9h0.01M86.9 44.2h0.01M87.2 44.8h0.01M87.6 43.5h0.01M87.9 44.3h0.01M88.3 43.9h0.01M88.6 44.5h0.01M88.8 44.2h0.01M89.2 44.1h0.01M89.6 44.8h0.01M89.7 44.9h0.01M90.1 44.8h0.01M90.3 46.0h0.01M90.6 47.0h0.01M90.9 46.2h0.01M91.2 45.9h0.01M91.5 46.5h0.01M91.9 47.2h0.01M92.1 46.3h0.01M92.3 47.1h0.01M92.6 47.4h0.01M92.8 46.5h0.01M93.0 47.3h0.01M93.4 48.8h0.01M93.6 47.9h0.01M94.0 48.5h0.01M94.3 47.7h0.01M94.5 48.8h0.01M94.8 48.5h0.01M95.0 50.0h0.01M95.2 48.9h0.01M95.4 49.0h0.01M95.7 49.8h0.01M95.9 50.3h0.01M96.2 49.9h0.01M96.5 51.2h0.01M96.8 50.1h0.01M97.2 50.3h0.01M97.4 51.3h0.01M97.7 50.1h0.01M98.0 50.2h0.01M98.4 51.5h0.01M98.6 51.7h0.01M98.9 51.7h0.01M99.1 51.7h0.01M99.3 52.7h0.01M99.5 52.0h0.01M99.7 52.4h0.01M100.0 51.3h0.01M100.3 51.8h0.01M100.6 53.4h0.01M100.8 52.3h0.01M101.0 52.3h0.01M101.3 51.6h0.01M101.5 52.4h0.01M101.8 52.0h0.01M102.0 51.8h0.01M102.3 52.2h0.01M102.5 53.3h0.01M102.9 53.0h0.01M103.0 51.9h0.01M103.2 52.5h0.01M103.6 53.0h0.01M103.8 52.8h0.01M104.0 53.0h0.01M104.2 53.3h0.01M104.4 52.9h0.01M104.7 53.8h0.01M105.0 53.3h0.01M105.2 53.2h0.01M105.4 53.4h0.01M105.7 54.0h0.01M106.1 54.3h0.01M106.2 54.1h0.01M106.6 53.2h0.01M106.8 55.2h0.01M107.0 55.9h0.01M107.3 55.5h0.01M107.6 54.3h0.01M107.9 55.8h0.01M108.2 55.9h0.01M108.6 56.4h0.01M108.8 55.7h0.01M109.1 55.7h0.01M109.4 56.5h0.01M109.8 57.5h0.01M109.9 56.1h0.01M110.3 57.9h0.01M110.5 56.6h0.01M110.8 56.8h0.01M111.1 57.8h0.01M111.4 57.9h0.01M111.8 57.9h0.01M112.1 58.6h0.01M112.4 58.5h0.01M112.6 58.1h0.01M112.9 58.0h0.01M113.2 58.5h0.01M113.5 58.5h0.01M113.7 58.0h0.01M114.1 59.3h0.01M114.3 59.3h0.01M114.7 59.8h0.01M114.9 59.2h0.01M115.1 58.7h0.01M115.3 59.7h0.01M115.5 59.0h0.01M115.9 59.6h0.01M116.2 59.4h0.01M116.6 60.2h0.01M116.8 59.6h0.01M117.0 59.5h0.01M117.4 60.5h0.01M117.5 60.9h0.01M117.8 61.1h0.01M118.1 60.7h0.01M118.4 61.1h0.01M118.7 61.6h0.01M118.9 62.5h0.01M119.1 61.1h0.01M119.4 61.6h0.01M119.7 61.9h0.01M120.1 61.8h0.01M120.4 62.9h0.01M120.6 62.5h0.01M120.8 62.3h0.01M121.1 63.2h0.01M121.3 62.8h0.01M121.6 63.2h0.01M121.8 63.1h0.01M121.9 63.4h0.01M122.2 63.5h0.01M122.4 63.7h0.01M122.6 63.1h0.01M122.8 63.8h0.01M123.2 63.8h0.01M123.3 64.6h0.01M123.6 64.1h0.01M124.0 64.7h0.01M124.3 64.8h0.01M124.6 64.8h0.01M124.9 64.6h0.01M125.1 64.7h0.01M125.4 65.4h0.01M125.6 65.2h0.01M125.8 66.2h0.01M126.1 65.2h0.01M126.3 65.6h0.01M126.6 64.8h0.01M126.8 65.7h0.01M127.1 66.2h0.01M127.5 65.7h0.01M127.9 67.3h0.01M128.1 66.0h0.01M128.4 66.0h0.01M128.8 66.2h0.01M129.1 66.8h0.01M129.3 66.0h0.01M129.7 67.0h0.01M130.0 67.4h0.01M130.2 66.3h0.01M130.4 67.4h0.01M130.7 67.8h0.01M131.0 67.9h0.01M131.3 68.1h0.01M131.7 68.1h0.01M131.9 67.7h0.01M132.3 68.6h0.01M132.6 68.3h0.01M132.9 68.4h0.01M133.2 69.5h0.01M133.6 70.6h0.01M133.9 70.2h0.01M134.3 69.8h0.01M134.5 69.9h0.01M134.9 69.3h0.01M135.2 70.7h0.01M135.6 70.2h0.01M135.8 70.5h0.01M136.2 71.3h0.01M136.5 71.5h0.01M136.7 70.4h0.01M136.9 70.8h0.01M137.2 71.1h0.01M137.3 71.8h0.01M137.5 72.1h0.01M137.9 71.0h0.01M138.1 72.6h0.01M138.3 71.7h0.01M138.6 71.9h0.01M138.8 73.0h0.01M139.1 72.1h0.01M139.2 72.5h0.01M139.5 72.1h0.01M139.6 73.0h0.01M139.9 72.9h0.01M140.2 72.5h0.01M140.6 73.1h0.01M140.8 73.9h0.01M141.0 72.8h0.01M141.4 73.8h0.01M141.7 73.2h0.01M142.0 72.3h0.01M142.2 73.0h0.01M142.5 73.3h0.01M142.7 74.0h0.01M143.0 72.6h0.01M143.3 73.2h0.01M143.6 74.5h0.01M143.9 73.3h0.01M144.2 74.3h0.01M144.3 73.6h0.01M144.6 73.6h0.01M144.9 72.8h0.01M145.2 75.0h0.01M145.5 73.8h0.01M145.7 74.3h0.01M145.9 73.9h0.01M146.2 74.6h0.01M146.5 74.2h0.01M146.9 75.0h0.01M147.2 75.1h0.01M147.4 76.8h0.01M147.7 74.6h0.01M148.0 75.2h0.01M148.4 75.4h0.01M148.6 76.3h0.01M148.8 76.1h0.01M149.0 74.8h0.01M149.3 76.8h0.01M149.6 76.4h0.01M149.9 75.6h0.01M150.1 75.9h0.01M150.4 76.6h0.01M150.7 76.3h0.01M151.1 77.4h0.01M151.3 76.7h0.01M151.4 76.9h0.01M151.6 75.9h0.01M151.9 77.3h0.01M152.3 77.3h0.01M152.6 76.2h0.01M152.8 76.6h0.01M153.1 77.2h0.01M153.2 76.4h0.01M153.5 76.8h0.01M153.8 77.7h0.01M154.1 77.6h0.01M154.4 77.6h0.01M154.8 77.7h0.01M155.2 77.2h0.01M155.6 77.2h0.01M155.9 77.3h0.01M156.2 78.9h0.01M156.6 77.8h0.01M156.8 78.7h0.01M157.1 78.1h0.01M157.3 77.4h0.01M157.6 79.1h0.01M158.0 78.2h0.01M158.3 78.9h0.01M158.5 78.9h0.01M158.8 78.8h0.01M159.1 77.6h0.01M159.4 78.9h0.01M159.7 79.0h0.01M160.1 80.2h0.01M160.5 79.9h0.01M160.6 80.0h0.01M160.9 80.0h0.01M161.3 80.3h0.01M161.5 81.0h0.01M161.8 79.7h0.01M162.1 80.5h0.01M162.4 81.9h0.01M162.7 80.7h0.01M163.0 80.5h0.01M163.2 81.2h0.01M163.5 81.8h0.01M163.9 82.4h0.01M164.3 82.4h0.01M164.5 82.1h0.01M164.9 82.8h0.01M165.2 83.3h0.01M165.5 82.6h0.01M165.7 82.4h0.01M165.9 82.9h0.01M166.2 83.0h0.01M166.5 83.5h0.01M166.8 83.6h0.01M167.0 83.3h0.01M167.2 81.7h0.01M167.6 83.0h0.01M167.7 82.4h0.01M168.1 83.0h0.01M168.4 82.5h0.01M168.8 82.0h0.01M169.2 81.9h0.01M169.4 83.6h0.01M169.6 81.5h0.01M169.9 82.3h0.01M170.2 81.7h0.01M170.4 83.0h0.01M170.6 83.9h0.01M171.0 83.5h0.01M171.3 83.0h0.01M171.6 84.3h0.01M172.0 84.5h0.01M172.2 84.3h0.01M172.5 84.4h0.01M172.8 84.4h0.01M173.0 84.0h0.01M173.2 84.8h0.01M173.4 84.4h0.01M173.7 85.8h0.01M173.9 85.6h0.01M174.1 84.5h0.01M174.4 84.1h0.01M174.6 86.2h0.01M174.8 85.8h0.01M175.2 85.6h0.01M175.5 84.8h0.01M175.8 86.6h0.01M176.0 86.8h0.01M176.2 86.4h0.01M176.5 86.0h0.01M176.7 87.3h0.01M177.0 85.9h0.01M177.2 88.3h0.01M177.5 86.1h0.01M177.8 87.4h0.01M178.0 86.7h0.01M178.2 85.9h0.01M178.3 87.2h0.01M178.6 88.1h0.01M178.8 87.4h0.01M179.2 88.1h0.01M179.4 87.2h0.01M179.7 87.7h0.01M180.0 86.3h0.01M180.2 87.4h0.01M180.5 88.1h0.01M180.8 89.6h0.01M181.1 87.6h0.01M181.4 88.9h0.01M181.8 88.6h0.01M182.1 89.4h0.01M182.5 88.5h0.01M182.7 89.9h0.01M182.9 88.1h0.01M183.3 89.7h0.01M183.5 90.7h0.01M183.8 90.1h0.01M184.1 91.0h0.01M184.3 90.4h0.01M184.5 89.8h0.01M184.8 88.6h0.01M185.2 89.4h0.01M185.5 90.1h0.01M185.6 90.7h0.01M185.9 89.8h0.01M186.3 90.3h0.01M186.6 90.4h0.01M186.8 91.6h0.01M187.2 90.4h0.01M187.4 90.9h0.01M187.6 91.2h0.01M187.9 92.6h0.01M188.3 91.5h0.01M188.4 91.9h0.01M188.6 91.5h0.01M189.0 93.7h0.01M189.2 92.9h0.01M189.5 92.0h0.01M189.8 93.3h0.01M190.1 93.3h0.01M190.4 92.1h0.01M190.8 94.7h0.01M191.0 94.5h0.01M191.3 94.0h0.01M191.5 94.5h0.01M191.7 93.9h0.01M192.0 93.2h0.01M192.3 93.1h0.01M192.5 93.8h0.01M192.8 94.0h0.01M193.1 93.3h0.01M193.5 92.6h0.01M193.8 92.8h0.01M194.0 92.5h0.01M194.2 94.3h0.01M194.5 92.9h0.01M194.8 93.7h0.01M195.0 93.5h0.01M195.4 93.9h0.01M195.8 93.2h0.01M196.1 93.1h0.01M196.3 92.6h0.01M196.6 93.0h0.01M196.9 94.8h0.01M197.2 92.3h0.01M197.6 93.3h0.01M197.9 94.3h0.01M198.2 94.4h0.01M198.4 93.7h0.01M198.7 94.6h0.01M199.0 95.3h0.01M199.3 96.6h0.01M199.6 95.1h0.01M199.9 95.5h0.01M200.1 95.6h0.01M200.4 95.7h0.01M200.7 96.0h0.01M200.9 94.8h0.01M201.3 95.8h0.01M201.5 95.7h0.01M201.8 96.3h0.01M202.1 95.8h0.01M202.3 97.1h0.01M202.6 97.0h0.01M202.9 97.3h0.01M203.1 98.0h0.01M203.5 97.1h0.01M203.7 97.3h0.01M203.9 96.8h0.01M204.3 99.0h0.01M204.6 97.3h0.01M204.8 96.0h0.01M205.1 99.6h0.01M205.2 96.9h0.01M205.4 97.4h0.01M205.7 98.3h0.01M206.1 99.6h0.01M206.3 98.2h0.01M206.5 98.6h0.01M206.7 97.7h0.01M206.8 97.8h0.01M207.0 98.5h0.01M207.2 97.3h0.01M207.5 97.8h0.01M207.8 98.5h0.01M208.0 96.9h0.01M208.4 98.6h0.01M208.6 97.2h0.01M208.9 99.6h0.01M209.2 99.7h0.01M209.3 100.0h0.01M209.5 97.4h0.01M209.8 98.4h0.01M210.2 99.5h0.01M210.4 97.0h0.01M210.6 98.4h0.01M210.9 96.1h0.01M211.1 99.8h0.01M211.5 99.4h0.01M211.6 99.0h0.01M211.8 98.3h0.01M212.2 99.0h0.01M212.3 97.9h0.01M212.5 98.0h0.01M212.7 99.6h0.01M213.1 98.7h0.01M213.3 98.1h0.01M213.6 101.6h0.01M214.0 101.0h0.01M214.3 100.3h0.01M214.6 102.4h0.01M215.0 102.5h0.01M215.3 101.1h0.01M215.7 101.3h0.01M215.9 101.9h0.01M216.1 100.2h0.01M216.4 100.3h0.01M216.6 102.6h0.01M217.0 100.4h0.01M217.3 102.9h0.01M217.6 101.3h0.01M217.8 102.8h0.01M218.0 103.3h0.01M218.4 102.4h0.01M218.6 103.8h0.01M219.0 101.0h0.01M219.2 100.9h0.01M219.5 99.8h0.01M219.6 102.2h0.01M219.9 100.8h0.01M220.3 101.3h0.01M220.7 101.6h0.01M220.9 101.9h0.01M221.3 101.7h0.01M221.6 101.8h0.01M222.0 102.4h0.01M222.3 101.6h0.01M222.6 101.9h0.01M222.9 103.5h0.01M223.1 102.6h0.01M223.5 104.8h0.01M223.9 104.6h0.01M224.2 104.8h0.01M224.5 103.9h0.01M224.7 104.4h0.01M225.1 104.9h0.01M225.3 104.8h0.01M225.5 103.4h0.01M225.7 102.9h0.01M226.0 104.9h0.01M226.4 103.5h0.01M226.8 104.9h0.01M227.0 106.1h0.01M227.2 105.5h0.01M227.4 105.3h0.01M227.8 106.0h0.01M228.0 107.2h0.01M228.4 105.3h0.01" stroke="#148214" stroke-width="1.45" stroke-linecap="round" fill="none"/><path d="M237.4 110.9h0.01M238.6 112.8h0.01M240.2 110.7h0.01M241.3 111.3h0.01M242.7 113.0h0.01M244.7 111.5h0.01M245.8 113.2h0.01M247.5 113.9h0.01M249.2 113.2h0.01M250.8 113.3h0.01M252.3 115.8h0.01M254.0 114.7h0.01M255.6 114.4h0.01M257.1 116.3h0.01M258.3 115.8h0.01M259.7 117.4h0.01M261.3 117.0h0.01M262.7 118.8h0.01M264.1 119.1h0.01M265.1 119.2h0.01M266.8 119.3h0.01M268.4 121.3h0.01M269.8 121.3h0.01M271.6 122.1h0.01M273.6 122.4h0.01M274.9 123.9h0.01M275.9 124.6h0.01M277.2 123.1h0.01M278.4 124.6h0.01M279.9 124.8h0.01M281.3 127.2h0.01M283.2 128.8h0.01M285.0 128.5h0.01M287.0 128.7h0.01M288.7 128.1h0.01M289.8 129.2h0.01M291.5 131.3h0.01M293.2 131.4h0.01M294.7 132.8h0.01M296.3 129.2h0.01M297.4 128.9h0.01M298.6 129.9h0.01M300.5 134.0h0.01M301.8 135.1h0.01M303.1 134.9h0.01M304.6 135.2h0.01M306.4 136.0h0.01M307.7 136.7h0.01" stroke="#148214" stroke-width="1.9" stroke-linecap="round" fill="none"/>
<path d="M84.3 30.3V31.5M84.6 30.4V31.6M84.9 30.2V31.4M85.1 30.6V31.8M85.4 30.9V32.1M85.7 31.3V32.5M86.1 30.7V31.9M86.4 31.3V32.5M86.6 31.5V32.7M86.8 31.3V32.5M87.1 32.0V33.2M87.3 31.7V32.9M87.4 32.1V33.3M87.7 32.6V33.8M88.0 31.7V32.9M88.3 32.7V33.9M88.6 33.0V34.2M89.0 32.4V33.6M89.2 33.5V34.7M89.5 32.9V34.1M89.8 33.1V34.3M90.1 33.7V34.9M90.4 33.4V34.6M90.7 33.2V34.4M90.9 34.1V35.3M91.2 34.6V35.8M91.5 35.3V36.5M91.7 34.6V35.8M91.9 34.7V35.9M92.3 35.5V36.7M92.5 35.2V36.4M92.8 35.9V37.1M93.0 35.2V36.4M93.3 36.9V38.1M93.7 37.0V38.2M93.8 36.0V37.2M94.0 36.9V38.1M94.3 37.3V38.5M94.6 36.7V37.9M94.8 37.1V38.3M95.2 37.7V38.9M95.4 37.3V38.5M95.8 38.0V39.2M96.0 39.2V40.4M96.3 37.6V38.8M96.5 39.3V40.5M96.7 38.8V40.0M97.1 39.6V40.8M97.4 38.6V39.8M97.6 38.4V39.6M97.8 39.0V40.2M98.1 38.9V40.1M98.3 39.2V40.4M98.7 39.7V40.9M98.9 39.6V40.8M99.2 40.0V41.2M99.5 39.9V41.1M99.7 40.5V41.7M99.9 39.6V40.8M100.2 40.3V41.5M100.4 39.6V40.8M100.7 38.8V40.0M100.9 40.1V41.3M101.1 40.0V41.2M101.3 39.5V40.7M101.5 39.8V41.0M101.7 41.0V42.2M101.9 39.9V41.1M102.2 40.9V42.1M102.4 40.3V41.5M102.7 40.9V42.1M102.9 41.4V42.6M103.1 41.7V42.9M103.4 41.9V43.1M103.7 40.9V42.1M103.9 42.3V43.5M104.1 42.9V44.1M104.5 41.7V42.9M104.8 41.4V42.6M105.1 42.3V43.5M105.3 42.6V43.8M105.7 43.1V44.3M105.9 42.4V43.6M106.1 43.5V44.7M106.4 43.6V44.8M106.8 42.7V43.9M107.0 44.3V45.5M107.3 44.8V46.0M107.6 44.0V45.2M107.9 44.8V46.0M108.2 44.9V46.1M108.4 44.4V45.6M108.7 45.1V46.3M108.9 44.2V45.4M109.3 44.7V45.9M109.6 46.4V47.6M109.9 45.7V46.9M110.3 46.6V47.8M110.6 46.4V47.6M110.8 46.8V48.0M111.2 47.8V49.0M111.5 47.2V48.4M111.8 46.6V47.8M112.1 47.1V48.3M112.2 47.5V48.7M112.4 47.2V48.4M112.7 46.8V48.0M113.1 46.8V48.0M113.5 47.8V49.0M113.7 47.8V49.0M114.0 48.2V49.4M114.4 48.5V49.7M114.5 46.9V48.1M114.9 48.0V49.2M115.1 47.8V49.0M115.5 48.5V49.7M115.9 48.4V49.6M116.2 48.4V49.6M116.5 49.2V50.4M116.8 48.8V50.0M117.2 48.8V50.0M117.5 50.0V51.2M117.8 50.0V51.2M118.2 50.2V51.4M118.5 49.4V50.6M118.7 50.7V51.9M118.9 50.6V51.8M119.2 50.0V51.2M119.6 51.2V52.4M119.7 51.3V52.5M119.9 51.1V52.3M120.1 51.4V52.6M120.4 52.9V54.1M120.7 52.6V53.8M121.0 51.7V52.9M121.3 52.5V53.7M121.6 53.8V55.0M121.9 52.4V53.6M122.3 53.0V54.2M122.5 53.0V54.2M122.7 51.5V52.7M123.0 53.8V55.0M123.4 53.3V54.5M123.6 53.7V54.9M123.8 54.0V55.2M124.0 53.7V54.9M124.3 53.0V54.2M124.6 53.5V54.7M124.9 53.6V54.8M125.2 53.3V54.5M125.4 54.2V55.4M125.7 54.5V55.7M126.0 54.9V56.1M126.4 55.7V56.9M126.7 55.2V56.4M126.9 54.4V55.6M127.2 55.0V56.2M127.3 53.6V54.8M127.5 55.0V56.2M127.8 55.8V57.0M128.0 55.7V56.9M128.3 55.1V56.3M128.6 55.4V56.6M129.0 55.9V57.1M129.3 55.8V57.0M129.5 55.5V56.7M129.9 57.1V58.3M130.1 55.7V56.9M130.3 56.7V57.9M130.7 56.2V57.4M130.9 57.6V58.8M131.1 56.6V57.8M131.4 56.2V57.4M131.8 57.4V58.6M132.2 57.5V58.7M132.5 57.1V58.3M132.7 56.4V57.6M132.9 58.4V59.6M133.1 57.6V58.8M133.5 58.0V59.2M133.8 59.5V60.7M133.9 59.3V60.5M134.3 58.7V59.9M134.4 59.3V60.5M134.8 59.5V60.7M135.2 59.0V60.2M135.6 60.4V61.6M135.8 59.6V60.8M136.1 61.0V62.2M136.4 60.1V61.3M136.8 59.8V61.0M137.1 60.9V62.1M137.3 60.6V61.8M137.6 60.5V61.7M137.9 61.5V62.7M138.2 61.8V63.0M138.4 60.2V61.4M138.6 61.2V62.4M138.8 61.6V62.8M138.9 61.4V62.6M139.2 61.4V62.6M139.5 60.0V61.2M139.7 62.0V63.2M140.0 61.2V62.4M140.3 61.9V63.1M140.5 61.4V62.6M140.8 61.8V63.0M140.9 61.5V62.7M141.3 62.0V63.2M141.5 62.0V63.2M141.9 61.8V63.0M142.2 62.6V63.8M142.4 61.6V62.8M142.6 62.9V64.1M143.0 62.7V63.9M143.3 63.0V64.2M143.5 63.1V64.3M143.9 63.0V64.2M144.2 63.1V64.3M144.5 63.7V64.9M144.8 63.0V64.2M145.1 63.9V65.1M145.4 63.6V64.8M145.7 64.2V65.4M146.0 65.5V66.7M146.3 63.1V64.3M146.5 64.4V65.6M146.9 65.1V66.3M147.1 63.7V64.9M147.3 62.6V63.8M147.7 63.9V65.1M148.1 65.1V66.3M148.3 64.0V65.2M148.4 66.3V67.5M148.7 64.1V65.3M149.0 65.3V66.5M149.4 65.3V66.5M149.5 65.4V66.6M149.7 65.4V66.6M150.0 65.6V66.8M150.3 66.0V67.2M150.5 66.9V68.1M150.9 65.5V66.7M151.2 66.7V67.9M151.4 66.1V67.4M151.6 66.1V67.4M151.9 66.7V68.0M152.0 65.8V67.1M152.2 65.5V66.8M152.4 65.7V67.0M152.8 65.9V67.2M153.0 66.9V68.2M153.3 67.8V69.1M153.7 66.5V67.8M154.0 66.5V67.8M154.1 66.3V67.6M154.5 66.3V67.6M154.7 66.0V67.3M155.0 67.4V68.7M155.1 66.4V67.8M155.3 66.7V68.1M155.7 67.1V68.5M156.1 67.1V68.5M156.4 67.2V68.5M156.5 67.1V68.5M156.9 66.4V67.8M157.2 67.8V69.1M157.4 67.9V69.2M157.8 68.4V69.8M158.0 67.5V68.9M158.3 68.8V70.2M158.5 68.9V70.3M158.9 67.9V69.4M159.2 69.6V71.0M159.5 70.3V71.8M159.9 69.4V70.9M160.3 70.6V72.1M160.5 70.4V71.8M160.7 68.9V70.4M160.9 71.6V73.0M161.2 71.6V73.1M161.4 71.7V73.2M161.8 69.2V70.7M162.0 70.2V71.7M162.3 70.3V71.8M162.6 69.4V70.9M162.9 71.0V72.5M163.2 69.5V71.1M163.4 70.2V71.7M163.6 70.3V71.8M163.8 70.5V72.1M164.1 70.5V72.1M164.5 70.1V71.6M164.8 70.1V71.7M165.2 70.1V71.7M165.4 70.2V71.7M165.7 70.5V72.0M166.1 70.9V72.5M166.4 71.0V72.6M166.6 70.5V72.1M166.9 71.2V72.8M167.1 71.0V72.6M167.4 71.5V73.2M167.7 70.4V72.0M168.0 71.1V72.7M168.2 70.3V72.0M168.6 71.1V72.8M168.7 70.7V72.4M169.0 70.9V72.6M169.1 70.8V72.5M169.4 71.7V73.4M169.6 71.2V72.9M169.8 71.8V73.5M170.0 71.3V73.0M170.3 70.8V72.5M170.5 71.7V73.4M170.7 72.0V73.7M170.9 70.5V72.2M171.1 71.7V73.4M171.3 73.0V74.8M171.5 72.3V74.0M171.7 70.4V72.2M172.0 71.5V73.3M172.2 71.8V73.5M172.5 71.6V73.4M172.8 71.3V73.1M173.1 72.5V74.2M173.4 72.6V74.4M173.8 73.0V74.8M174.2 72.8V74.7M174.3 72.9V74.7M174.7 73.7V75.6M175.1 73.9V75.7M175.4 73.2V75.0M175.7 73.0V74.8M175.9 73.6V75.4M176.1 75.2V77.1M176.3 75.1V76.9M176.5 74.3V76.1M176.8 75.6V77.5M177.1 75.5V77.3M177.3 73.9V75.7M177.6 75.2V77.1M177.8 75.4V77.3M177.9 74.1V76.0M178.2 76.3V78.2M178.4 75.3V77.2M178.7 76.2V78.1M178.9 76.0V77.9M179.2 75.8V77.7M179.3 75.4V77.3M179.6 74.8V76.8M179.9 74.5V76.4M180.2 77.0V79.0M180.4 74.2V76.1M180.8 75.3V77.2M181.2 74.6V76.6M181.5 75.6V77.5M181.8 77.3V79.3M182.1 75.9V77.9M182.3 75.8V77.8M182.7 76.7V78.7M182.9 76.4V78.5M183.2 76.0V78.0M183.5 76.7V78.8M183.9 75.1V77.1M184.2 77.5V79.6M184.5 78.9V81.0M184.9 77.4V79.4M185.0 78.4V80.5M185.3 77.6V79.7M185.5 78.2V80.3M185.8 78.9V81.0M186.0 78.8V80.9M186.3 77.8V79.9M186.5 78.8V80.9M186.7 79.8V82.0M187.1 79.1V81.2M187.3 78.6V80.7M187.6 79.6V81.8M187.9 79.1V81.3M188.1 79.1V81.2M188.3 78.6V80.8M188.5 79.8V82.0M188.9 78.3V80.5M189.3 79.8V81.9M189.6 78.2V80.4M189.9 78.6V80.8M190.0 80.5V82.7M190.3 79.3V81.5M190.5 79.6V81.8M190.8 78.9V81.1M191.0 80.4V82.6M191.2 79.4V81.6M191.6 80.0V82.2M191.9 80.5V82.8M192.3 80.4V82.6M192.6 80.3V82.6M192.8 78.7V81.0M193.1 80.7V83.0M193.5 81.3V83.5M193.7 81.1V83.4M194.1 78.3V80.6M194.3 80.3V82.6M194.6 80.5V82.8M194.7 80.7V83.1M194.9 80.7V83.0M195.3 79.2V81.5M195.5 79.0V81.4M195.6 80.1V82.5M195.9 81.2V83.6M196.1 79.5V81.8M196.4 81.5V83.9M196.7 78.7V81.1M196.9 80.8V83.1M197.1 80.2V82.5M197.3 79.5V81.9M197.6 80.7V83.1M197.8 81.9V84.3M198.1 82.3V84.7M198.3 82.5V84.9M198.7 80.1V82.5M199.1 83.0V85.4M199.4 82.8V85.3M199.6 82.6V85.0M199.8 81.0V83.4M200.0 84.9V87.3M200.3 83.0V85.4M200.5 82.5V84.9M200.8 84.0V86.5M201.0 83.4V85.9M201.2 86.5V88.9M201.5 85.3V87.8M201.7 85.1V87.6M202.1 84.7V87.2M202.3 86.2V88.7M202.5 84.8V87.3M202.7 84.7V87.2M203.1 83.7V86.2M203.3 85.6V88.2M203.6 84.1V86.7M203.9 84.4V87.0M204.1 83.7V86.3M204.4 86.0V88.5M204.6 84.7V87.3M204.8 84.6V87.2M205.2 86.8V89.4M205.5 84.0V86.6M205.7 84.9V87.5M206.0 83.1V85.7M206.4 84.3V86.9M206.6 84.4V87.1M206.8 83.8V86.4M207.1 84.1V86.7M207.3 87.4V90.0M207.5 85.2V87.9M207.7 85.5V88.1M208.0 85.0V87.7M208.4 84.4V87.0M208.6 85.1V87.8M208.9 84.6V87.2M209.2 84.8V87.5M209.3 86.2V88.9M209.5 87.4V90.0M209.7 86.1V88.8M210.0 87.9V90.6M210.2 87.5V90.2M210.4 86.1V88.8M210.7 87.0V89.7M211.0 85.8V88.6M211.3 88.0V90.7M211.5 86.6V89.3M211.8 86.3V89.0M212.1 87.8V90.6M212.2 86.1V88.8M212.5 87.0V89.7M212.9 85.8V88.6M213.1 87.5V90.3M213.3 86.1V88.9M213.5 87.3V90.1M213.9 86.6V89.4M214.1 87.6V90.4M214.4 89.6V92.4M214.7 86.6V89.4M214.8 87.8V90.7M215.2 88.0V90.8M215.5 87.8V90.6M215.8 89.3V92.2M216.0 87.4V90.2M216.3 89.9V92.7M216.6 89.2V92.1M216.8 89.2V92.0M217.0 88.0V90.9M217.4 87.9V90.8M217.7 89.8V92.7M218.0 88.3V91.2M218.2 86.6V89.5M218.4 89.4V92.3M218.6 88.4V91.4M218.9 89.3V92.2M219.2 86.5V89.4M219.5 89.0V92.0M219.7 90.2V93.1M220.0 88.9V91.9M220.3 88.3V91.3M220.6 88.6V91.6M220.9 88.4V91.4M221.1 88.5V91.5M221.5 88.3V91.3M221.8 88.9V91.9M222.2 90.2V93.2M222.5 88.5V91.5M222.7 88.0V91.0M223.0 90.4V93.4M223.1 91.2V94.3M223.3 89.2V92.2M223.5 88.2V91.2M223.8 90.0V93.1M224.1 92.4V95.5M224.3 92.4V95.5M224.6 92.6V95.6M224.7 93.0V96.1M225.0 91.2V94.2M225.4 91.1V94.2M225.5 93.9V97.0M225.9 92.5V95.6M226.2 95.1V98.2M226.4 94.6V97.7M226.8 92.0V95.1M227.1 93.7V96.9M227.3 93.5V96.7M227.6 93.1V96.3M227.8 93.1V96.3M228.0 95.4V98.6M228.2 93.2V96.3M228.3 94.9V98.1" stroke="#b01818" stroke-opacity="0.35" stroke-width="0.5" fill="none"/><path d="M84.3 30.9h0.01M84.6 31.0h0.01M84.9 30.8h0.01M85.1 31.2h0.01M85.4 31.5h0.01M85.7 31.9h0.01M86.1 31.3h0.01M86.4 31.9h0.01M86.6 32.1h0.01M86.8 31.9h0.01M87.1 32.6h0.01M87.3 32.3h0.01M87.4 32.7h0.01M87.7 33.2h0.01M88.0 32.3h0.01M88.3 33.3h0.01M88.6 33.6h0.01M89.0 33.0h0.01M89.2 34.1h0.01M89.5 33.5h0.01M89.8 33.7h0.01M90.1 34.3h0.01M90.4 34.0h0.01M90.7 33.8h0.01M90.9 34.7h0.01M91.2 35.2h0.01M91.5 35.9h0.01M91.7 35.2h0.01M91.9 35.3h0.01M92.3 36.1h0.01M92.5 35.8h0.01M92.8 36.5h0.01M93.0 35.8h0.01M93.3 37.5h0.01M93.7 37.6h0.01M93.8 36.6h0.01M94.0 37.5h0.01M94.3 37.9h0.01M94.6 37.3h0.01M94.8 37.7h0.01M95.2 38.3h0.01M95.4 37.9h0.01M95.8 38.6h0.01M96.0 39.8h0.01M96.3 38.2h0.01M96.5 39.9h0.01M96.7 39.4h0.01M97.1 40.2h0.01M97.4 39.2h0.01M97.6 39.0h0.01M97.8 39.6h0.01M98.1 39.5h0.01M98.3 39.8h0.01M98.7 40.3h0.01M98.9 40.2h0.01M99.2 40.6h0.01M99.5 40.5h0.01M99.7 41.1h0.01M99.9 40.2h0.01M100.2 40.9h0.01M100.4 40.2h0.01M100.7 39.4h0.01M100.9 40.7h0.01M101.1 40.6h0.01M101.3 40.1h0.01M101.5 40.4h0.01M101.7 41.6h0.01M101.9 40.5h0.01M102.2 41.5h0.01M102.4 40.9h0.01M102.7 41.5h0.01M102.9 42.0h0.01M103.1 42.3h0.01M103.4 42.5h0.01M103.7 41.5h0.01M103.9 42.9h0.01M104.1 43.5h0.01M104.5 42.3h0.01M104.8 42.0h0.01M105.1 42.9h0.01M105.3 43.2h0.01M105.7 43.7h0.01M105.9 43.0h0.01M106.1 44.1h0.01M106.4 44.2h0.01M106.8 43.3h0.01M107.0 44.9h0.01M107.3 45.4h0.01M107.6 44.6h0.01M107.9 45.4h0.01M108.2 45.5h0.01M108.4 45.0h0.01M108.7 45.7h0.01M108.9 44.8h0.01M109.3 45.3h0.01M109.6 47.0h0.01M109.9 46.3h0.01M110.3 47.2h0.01M110.6 47.0h0.01M110.8 47.4h0.01M111.2 48.4h0.01M111.5 47.8h0.01M111.8 47.2h0.01M112.1 47.7h0.01M112.2 48.1h0.01M112.4 47.8h0.01M112.7 47.4h0.01M113.1 47.4h0.01M113.5 48.4h0.01M113.7 48.4h0.01M114.0 48.8h0.01M114.4 49.1h0.01M114.5 47.5h0.01M114.9 48.6h0.01M115.1 48.4h0.01M115.5 49.1h0.01M115.9 49.0h0.01M116.2 49.0h0.01M116.5 49.8h0.01M116.8 49.4h0.01M117.2 49.4h0.01M117.5 50.6h0.01M117.8 50.6h0.01M118.2 50.8h0.01M118.5 50.0h0.01M118.7 51.3h0.01M118.9 51.2h0.01M119.2 50.6h0.01M119.6 51.8h0.01M119.7 51.9h0.01M119.9 51.7h0.01M120.1 52.0h0.01M120.4 53.5h0.01M120.7 53.2h0.01M121.0 52.3h0.01M121.3 53.1h0.01M121.6 54.4h0.01M121.9 53.0h0.01M122.3 53.6h0.01M122.5 53.6h0.01M122.7 52.1h0.01M123.0 54.4h0.01M123.4 53.9h0.01M123.6 54.3h0.01M123.8 54.6h0.01M124.0 54.3h0.01M124.3 53.6h0.01M124.6 54.1h0.01M124.9 54.2h0.01M125.2 53.9h0.01M125.4 54.8h0.01M125.7 55.1h0.01M126.0 55.5h0.01M126.4 56.3h0.01M126.7 55.8h0.01M126.9 55.0h0.01M127.2 55.6h0.01M127.3 54.2h0.01M127.5 55.6h0.01M127.8 56.4h0.01M128.0 56.3h0.01M128.3 55.7h0.01M128.6 56.0h0.01M129.0 56.5h0.01M129.3 56.4h0.01M129.5 56.1h0.01M129.9 57.7h0.01M130.1 56.3h0.01M130.3 57.3h0.01M130.7 56.8h0.01M130.9 58.2h0.01M131.1 57.2h0.01M131.4 56.8h0.01M131.8 58.0h0.01M132.2 58.1h0.01M132.5 57.7h0.01M132.7 57.0h0.01M132.9 59.0h0.01M133.1 58.2h0.01M133.5 58.6h0.01M133.8 60.1h0.01M133.9 59.9h0.01M134.3 59.3h0.01M134.4 59.9h0.01M134.8 60.1h0.01M135.2 59.6h0.01M135.6 61.0h0.01M135.8 60.2h0.01M136.1 61.6h0.01M136.4 60.7h0.01M136.8 60.4h0.01M137.1 61.5h0.01M137.3 61.2h0.01M137.6 61.1h0.01M137.9 62.1h0.01M138.2 62.4h0.01M138.4 60.8h0.01M138.6 61.8h0.01M138.8 62.2h0.01M138.9 62.0h0.01M139.2 62.0h0.01M139.5 60.6h0.01M139.7 62.6h0.01M140.0 61.8h0.01M140.3 62.5h0.01M140.5 62.0h0.01M140.8 62.4h0.01M140.9 62.1h0.01M141.3 62.6h0.01M141.5 62.6h0.01M141.9 62.4h0.01M142.2 63.2h0.01M142.4 62.2h0.01M142.6 63.5h0.01M143.0 63.3h0.01M143.3 63.6h0.01M143.5 63.7h0.01M143.9 63.6h0.01M144.2 63.7h0.01M144.5 64.3h0.01M144.8 63.6h0.01M145.1 64.5h0.01M145.4 64.2h0.01M145.7 64.8h0.01M146.0 66.1h0.01M146.3 63.7h0.01M146.5 65.0h0.01M146.9 65.7h0.01M147.1 64.3h0.01M147.3 63.2h0.01M147.7 64.5h0.01M148.1 65.7h0.01M148.3 64.6h0.01M148.4 66.9h0.01M148.7 64.7h0.01M149.0 65.9h0.01M149.4 65.9h0.01M149.5 66.0h0.01M149.7 66.0h0.01M150.0 66.2h0.01M150.3 66.6h0.01M150.5 67.5h0.01M150.9 66.1h0.01M151.2 67.3h0.01M151.4 66.7h0.01M151.6 66.8h0.01M151.9 67.4h0.01M152.0 66.5h0.01M152.2 66.2h0.01M152.4 66.4h0.01M152.8 66.5h0.01M153.0 67.6h0.01M153.3 68.4h0.01M153.7 67.1h0.01M154.0 67.2h0.01M154.1 67.0h0.01M154.5 67.0h0.01M154.7 66.7h0.01M155.0 68.0h0.01M155.1 67.1h0.01M155.3 67.4h0.01M155.7 67.8h0.01M156.1 67.8h0.01M156.4 67.8h0.01M156.5 67.8h0.01M156.9 67.1h0.01M157.2 68.4h0.01M157.4 68.6h0.01M157.8 69.1h0.01M158.0 68.2h0.01M158.3 69.5h0.01M158.5 69.6h0.01M158.9 68.6h0.01M159.2 70.3h0.01M159.5 71.0h0.01M159.9 70.2h0.01M160.3 71.4h0.01M160.5 71.1h0.01M160.7 69.7h0.01M160.9 72.3h0.01M161.2 72.3h0.01M161.4 72.5h0.01M161.8 69.9h0.01M162.0 70.9h0.01M162.3 71.0h0.01M162.6 70.1h0.01M162.9 71.7h0.01M163.2 70.3h0.01M163.4 70.9h0.01M163.6 71.1h0.01M163.8 71.3h0.01M164.1 71.3h0.01M164.5 70.9h0.01M164.8 70.9h0.01M165.2 70.9h0.01M165.4 70.9h0.01M165.7 71.2h0.01M166.1 71.7h0.01M166.4 71.8h0.01M166.6 71.3h0.01M166.9 72.0h0.01M167.1 71.8h0.01M167.4 72.3h0.01M167.7 71.2h0.01M168.0 71.9h0.01M168.2 71.2h0.01M168.6 72.0h0.01M168.7 71.6h0.01M169.0 71.7h0.01M169.1 71.7h0.01M169.4 72.5h0.01M169.6 72.1h0.01M169.8 72.6h0.01M170.0 72.1h0.01M170.3 71.6h0.01M170.5 72.6h0.01M170.7 72.8h0.01M170.9 71.4h0.01M171.1 72.5h0.01M171.3 73.9h0.01M171.5 73.1h0.01M171.7 71.3h0.01M172.0 72.4h0.01M172.2 72.7h0.01M172.5 72.5h0.01M172.8 72.2h0.01M173.1 73.4h0.01M173.4 73.5h0.01M173.8 73.9h0.01M174.2 73.8h0.01M174.3 73.8h0.01M174.7 74.7h0.01M175.1 74.8h0.01M175.4 74.1h0.01M175.7 73.9h0.01M175.9 74.5h0.01M176.1 76.2h0.01M176.3 76.0h0.01M176.5 75.2h0.01M176.8 76.6h0.01M177.1 76.4h0.01M177.3 74.8h0.01M177.6 76.1h0.01M177.8 76.4h0.01M177.9 75.1h0.01M178.2 77.3h0.01M178.4 76.3h0.01M178.7 77.1h0.01M178.9 77.0h0.01M179.2 76.8h0.01M179.3 76.4h0.01M179.6 75.8h0.01M179.9 75.5h0.01M180.2 78.0h0.01M180.4 75.1h0.01M180.8 76.2h0.01M181.2 75.6h0.01M181.5 76.5h0.01M181.8 78.3h0.01M182.1 76.9h0.01M182.3 76.8h0.01M182.7 77.7h0.01M182.9 77.5h0.01M183.2 77.0h0.01M183.5 77.7h0.01M183.9 76.1h0.01M184.2 78.5h0.01M184.5 80.0h0.01M184.9 78.4h0.01M185.0 79.4h0.01M185.3 78.7h0.01M185.5 79.3h0.01M185.8 80.0h0.01M186.0 79.9h0.01M186.3 78.8h0.01M186.5 79.8h0.01M186.7 80.9h0.01M187.1 80.1h0.01M187.3 79.7h0.01M187.6 80.7h0.01M187.9 80.2h0.01M188.1 80.1h0.01M188.3 79.7h0.01M188.5 80.9h0.01M188.9 79.4h0.01M189.3 80.9h0.01M189.6 79.3h0.01M189.9 79.7h0.01M190.0 81.6h0.01M190.3 80.4h0.01M190.5 80.7h0.01M190.8 80.0h0.01M191.0 81.5h0.01M191.2 80.5h0.01M191.6 81.1h0.01M191.9 81.6h0.01M192.3 81.5h0.01M192.6 81.5h0.01M192.8 79.9h0.01M193.1 81.9h0.01M193.5 82.4h0.01M193.7 82.3h0.01M194.1 79.4h0.01M194.3 81.4h0.01M194.6 81.7h0.01M194.7 81.9h0.01M194.9 81.9h0.01M195.3 80.4h0.01M195.5 80.2h0.01M195.6 81.3h0.01M195.9 82.4h0.01M196.1 80.7h0.01M196.4 82.7h0.01M196.7 79.9h0.01M196.9 81.9h0.01M197.1 81.4h0.01M197.3 80.7h0.01M197.6 81.9h0.01M197.8 83.1h0.01M198.1 83.5h0.01M198.3 83.7h0.01M198.7 81.3h0.01M199.1 84.2h0.01M199.4 84.0h0.01M199.6 83.8h0.01M199.8 82.2h0.01M200.0 86.1h0.01M200.3 84.2h0.01M200.5 83.7h0.01M200.8 85.3h0.01M201.0 84.7h0.01M201.2 87.7h0.01M201.5 86.6h0.01M201.7 86.3h0.01M202.1 85.9h0.01M202.3 87.5h0.01M202.5 86.0h0.01M202.7 85.9h0.01M203.1 84.9h0.01M203.3 86.9h0.01M203.6 85.4h0.01M203.9 85.7h0.01M204.1 85.0h0.01M204.4 87.2h0.01M204.6 86.0h0.01M204.8 85.9h0.01M205.2 88.1h0.01M205.5 85.3h0.01M205.7 86.2h0.01M206.0 84.4h0.01M206.4 85.6h0.01M206.6 85.8h0.01M206.8 85.1h0.01M207.1 85.4h0.01M207.3 88.7h0.01M207.5 86.5h0.01M207.7 86.8h0.01M208.0 86.3h0.01M208.4 85.7h0.01M208.6 86.5h0.01M208.9 85.9h0.01M209.2 86.2h0.01M209.3 87.5h0.01M209.5 88.7h0.01M209.7 87.4h0.01M210.0 89.2h0.01M210.2 88.8h0.01M210.4 87.5h0.01M210.7 88.4h0.01M211.0 87.2h0.01M211.3 89.3h0.01M211.5 87.9h0.01M211.8 87.7h0.01M212.1 89.2h0.01M212.2 87.5h0.01M212.5 88.3h0.01M212.9 87.2h0.01M213.1 88.9h0.01M213.3 87.5h0.01M213.5 88.7h0.01M213.9 88.0h0.01M214.1 89.0h0.01M214.4 91.0h0.01M214.7 88.0h0.01M214.8 89.3h0.01M215.2 89.4h0.01M215.5 89.2h0.01M215.8 90.8h0.01M216.0 88.8h0.01M216.3 91.3h0.01M216.6 90.7h0.01M216.8 90.6h0.01M217.0 89.4h0.01M217.4 89.3h0.01M217.7 91.3h0.01M218.0 89.8h0.01M218.2 88.1h0.01M218.4 90.8h0.01M218.6 89.9h0.01M218.9 90.8h0.01M219.2 88.0h0.01M219.5 90.5h0.01M219.7 91.6h0.01M220.0 90.4h0.01M220.3 89.8h0.01M220.6 90.1h0.01M220.9 89.9h0.01M221.1 90.0h0.01M221.5 89.8h0.01M221.8 90.4h0.01M222.2 91.7h0.01M222.5 90.0h0.01M222.7 89.5h0.01M223.0 91.9h0.01M223.1 92.7h0.01M223.3 90.7h0.01M223.5 89.7h0.01M223.8 91.6h0.01M224.1 93.9h0.01M224.3 94.0h0.01M224.6 94.1h0.01M224.7 94.6h0.01M225.0 92.7h0.01M225.4 92.7h0.01M225.5 95.5h0.01M225.9 94.1h0.01M226.2 96.6h0.01M226.4 96.2h0.01M226.8 93.5h0.01M227.1 95.3h0.01M227.3 95.1h0.01M227.6 94.7h0.01M227.8 94.7h0.01M228.0 97.0h0.01M228.2 94.8h0.01M228.3 96.5h0.01" stroke="#b01818" stroke-width="1.45" stroke-linecap="round" fill="none"/><path d="M237.4 98.4h0.01M239.2 99.5h0.01M240.5 101.8h0.01M242.3 102.1h0.01M244.1 103.3h0.01M245.7 102.9h0.01M247.2 102.5h0.01M248.4 102.3h0.01M250.1 104.0h0.01M252.0 104.3h0.01M253.5 102.8h0.01M255.0 104.3h0.01M256.4 104.4h0.01M257.8 104.7h0.01M258.8 106.6h0.01M260.4 104.9h0.01M261.6 105.5h0.01M263.4 104.7h0.01M265.1 104.4h0.01M264.7 106.9h0.01M265.1 106.5h0.01M265.6 104.3h0.01M266.5 104.8h0.01M266.3 103.7h0.01M267.1 106.4h0.01M266.5 105.8h0.01M268.4 106.8h0.01M268.6 106.3h0.01M268.3 105.1h0.01M267.9 106.9h0.01M269.7 107.3h0.01M270.4 108.7h0.01M270.4 106.0h0.01M269.7 105.2h0.01M271.1 108.6h0.01M271.8 108.9h0.01M270.8 106.8h0.01M271.7 105.8h0.01M272.9 109.3h0.01M273.5 107.0h0.01M273.6 109.5h0.01M272.7 108.5h0.01M274.5 108.2h0.01M275.1 109.1h0.01M273.7 111.1h0.01M274.7 110.5h0.01M275.6 110.2h0.01M274.9 112.2h0.01M275.4 110.4h0.01M276.3 109.1h0.01M277.2 112.4h0.01M279.0 112.8h0.01M280.1 112.4h0.01M281.9 110.0h0.01M283.7 113.2h0.01M285.3 111.4h0.01M287.1 112.2h0.01M288.8 111.2h0.01M289.9 112.2h0.01M291.8 113.7h0.01M293.6 112.9h0.01M294.6 116.4h0.01M295.7 114.2h0.01M297.7 115.4h0.01M299.0 114.4h0.01M300.5 117.2h0.01M302.2 116.1h0.01M304.1 118.2h0.01M305.4 117.6h0.01M306.6 118.9h0.01M307.7 118.2h0.01" stroke="#b01818" stroke-width="1.9" stroke-linecap="round" fill="none"/>
<circle cx="237.4" cy="14.6" r="1.65" fill="#6a5ad8"/>
<circle cx="244.5" cy="13.7" r="1.65" fill="#6a5ad8"/>
<circle cx="251.8" cy="15.0" r="1.65" fill="#6a5ad8"/>
<text x="263.2" y="17.8" font-size="10.9" textLength="19.2" lengthAdjust="spacingAndGlyphs">BAT</text>
<circle cx="237.4" cy="29.5" r="1.65" fill="#3d0a55"/>
<circle cx="244.5" cy="28.6" r="1.65" fill="#3d0a55"/>
<circle cx="251.8" cy="29.9" r="1.65" fill="#3d0a55"/>
<text x="263.2" y="32.7" font-size="10.9" textLength="50.4" lengthAdjust="spacingAndGlyphs">XRT (1 keV)</text>
<circle cx="237.4" cy="44.3" r="1.65" fill="#0c0c8a"/>
<circle cx="244.5" cy="43.4" r="1.65" fill="#0c0c8a"/>
<circle cx="251.8" cy="44.7" r="1.65" fill="#0c0c8a"/>
<text x="263.2" y="47.5" font-size="10.9" textLength="54.3" lengthAdjust="spacingAndGlyphs">RINGO3 BV</text>
<circle cx="237.4" cy="59.2" r="1.65" fill="#148214"/>
<circle cx="244.5" cy="58.3" r="1.65" fill="#148214"/>
<circle cx="251.8" cy="59.6" r="1.65" fill="#148214"/>
<text x="263.2" y="62.4" font-size="10.9" textLength="48.7" lengthAdjust="spacingAndGlyphs">RINGO3 R</text>
<circle cx="237.4" cy="74.0" r="1.65" fill="#b01818"/>
<circle cx="244.5" cy="73.1" r="1.65" fill="#b01818"/>
<circle cx="251.8" cy="74.4" r="1.65" fill="#b01818"/>
<text x="263.2" y="77.2" font-size="10.9" textLength="44.7" lengthAdjust="spacingAndGlyphs">RINGO3 I</text>
<path d="M83.6 242.2V262.0M82.4 252.1h2.4M84.2 244.3V263.0M83.0 253.7h2.4M85.3 244.0V259.9M84.1 251.9h2.4M85.9 245.2V258.2M84.7 251.7h2.4M86.6 242.6V260.4M85.4 251.5h2.4M87.4 243.7V262.0M86.2 252.9h2.4M88.2 239.2V261.0M87.0 250.1h2.4M89.0 243.6V258.1M87.8 250.9h2.4M90.1 245.7V259.9M88.9 252.8h2.4M90.8 247.5V263.2M89.6 255.4h2.4M91.6 244.9V266.5M90.4 255.7h2.4M92.6 249.8V264.6M91.4 257.2h2.4M93.3 244.6V264.2M92.1 254.4h2.4M94.4 246.5V258.9M93.2 252.7h2.4M95.2 249.8V262.8M94.0 256.3h2.4M96.0 242.8V263.3M94.8 253.0h2.4M96.8 248.7V266.7M95.6 257.7h2.4M97.8 246.6V259.9M96.6 253.3h2.4M98.7 248.0V265.7M97.5 256.9h2.4M99.6 241.0V264.3M98.4 252.6h2.4M100.3 243.7V260.4M99.1 252.0h2.4M100.9 246.0V264.7M99.7 255.4h2.4M101.6 247.3V264.3M100.4 255.8h2.4M102.5 242.5V260.5M101.3 251.5h2.4M103.3 253.2V265.7M102.1 259.4h2.4M104.0 244.0V266.6M102.8 255.3h2.4M104.9 246.7V265.7M103.7 256.2h2.4M105.8 246.8V263.0M104.6 254.9h2.4M106.8 252.1V267.5M105.6 259.8h2.4M107.6 245.1V259.3M106.4 252.2h2.4M108.4 241.3V264.5M107.2 252.9h2.4M109.0 240.2V262.3M107.8 251.2h2.4M109.8 251.9V268.4M108.6 260.2h2.4M110.7 249.7V269.0M109.5 259.4h2.4M111.8 248.7V267.4M110.6 258.0h2.4M112.6 246.4V260.8M111.4 253.6h2.4M113.3 251.9V264.3M112.1 258.1h2.4M114.0 248.3V269.1M112.8 258.7h2.4M114.8 251.9V265.9M113.6 258.9h2.4M115.9 251.9V270.7M114.7 261.3h2.4M117.0 249.0V261.2M115.8 255.1h2.4M118.0 251.7V263.9M116.8 257.8h2.4M119.1 249.8V263.8M117.9 256.8h2.4M120.1 244.1V263.9M118.9 254.0h2.4M121.0 244.7V264.1M119.8 254.4h2.4M121.8 246.9V270.8M120.6 258.9h2.4M122.5 249.6V269.5M121.3 259.6h2.4M123.2 250.2V268.5M122.0 259.4h2.4M124.2 248.6V260.8M123.0 254.7h2.4M125.0 243.7V267.2M123.8 255.4h2.4M126.0 247.5V265.3M124.8 256.4h2.4M125.0 255.2V277.4M123.8 266.3h2.4M126.6 248.4V261.0M125.4 254.7h2.4M128.2 244.5V266.5M127.0 255.5h2.4M129.8 248.9V266.7M128.6 257.8h2.4M131.3 252.1V266.7M130.1 259.4h2.4M133.7 249.4V266.2M132.5 257.8h2.4M135.3 249.8V262.8M134.1 256.3h2.4M136.9 243.6V262.6M135.7 253.1h2.4M138.5 247.4V262.0M137.3 254.7h2.4M140.0 251.6V272.0M138.8 261.8h2.4M141.7 253.2V267.2M140.5 260.2h2.4M143.3 248.5V268.7M142.1 258.6h2.4M144.8 250.5V269.9M143.6 260.2h2.4M146.4 250.7V271.3M145.2 261.0h2.4M148.0 254.1V277.5M146.8 265.8h2.4M149.6 261.2V276.8M148.4 269.0h2.4M151.2 253.3V281.5M149.0 267.4h4.4M152.8 252.6V275.8M150.6 264.2h4.4M154.4 249.8V281.8M152.2 265.8h4.4M156.7 252.0V282.8M154.5 267.4h4.4M158.3 250.1V279.9M156.1 265.0h4.4M160.0 250.0V276.8M157.8 263.4h4.4M161.5 255.4V276.2M159.3 265.8h4.4M162.8 252.8V285.2M160.6 269.0h4.4M164.7 247.5V280.9M162.5 264.2h4.4M166.3 248.5V281.5M164.1 265.0h4.4M167.9 255.3V277.3M165.7 266.3h4.4M170.2 251.2V282.0M168.0 266.6h4.4M172.6 249.3V277.5M170.4 263.4h4.4M173.0 246.4V277.6M170.8 262.0h4.4M176.0 248.8V279.2M173.8 264.0h4.4M179.0 253.6V277.8M176.8 265.7h4.4M181.0 252.4V275.6M178.8 264.0h4.4M183.0 254.5V284.9M180.8 269.7h4.4M185.4 258.1V285.9M183.2 272.0h4.4M188.5 259.6V285.4M186.3 272.5h4.4M191.6 254.5V286.3M189.4 270.4h4.4M194.7 260.5V277.1M192.5 268.8h4.4M197.8 259.8V276.0M195.6 267.9h4.4M200.8 252.0V276.4M198.6 264.2h4.4M204.0 256.8V274.6M201.8 265.7h4.4M208.0 264.0V295.2M205.8 279.6h4.4M210.0 262.5V280.1M207.8 271.3h4.4M213.0 252.3V284.1M210.8 268.2h4.4M216.0 257.9V277.9M213.8 267.9h4.4M219.0 259.6V278.0M216.8 268.8h4.4M222.4 256.5V286.1M220.2 271.3h4.4M226.4 252.6V280.8M224.2 266.7h4.4M240.8 253.9V280.9M238.3 267.4h5M247.3 254.4V278.4M244.8 266.4h5M255.1 246.1V273.1M252.6 259.6h5" stroke="#c2e6e6" stroke-width="0.6" fill="none"/>
<path d="M83.6 250.6l1.5 1.5l-1.5 1.5l-1.5 -1.5zM84.2 252.2l1.5 1.5l-1.5 1.5l-1.5 -1.5zM85.3 250.4l1.5 1.5l-1.5 1.5l-1.5 -1.5zM85.9 250.2l1.5 1.5l-1.5 1.5l-1.5 -1.5zM86.6 250.0l1.5 1.5l-1.5 1.5l-1.5 -1.5zM87.4 251.4l1.5 1.5l-1.5 1.5l-1.5 -1.5zM88.2 248.6l1.5 1.5l-1.5 1.5l-1.5 -1.5zM89.0 249.4l1.5 1.5l-1.5 1.5l-1.5 -1.5zM90.1 251.3l1.5 1.5l-1.5 1.5l-1.5 -1.5zM90.8 253.9l1.5 1.5l-1.5 1.5l-1.5 -1.5zM91.6 254.2l1.5 1.5l-1.5 1.5l-1.5 -1.5zM92.6 255.7l1.5 1.5l-1.5 1.5l-1.5 -1.5zM93.3 252.9l1.5 1.5l-1.5 1.5l-1.5 -1.5zM94.4 251.2l1.5 1.5l-1.5 1.5l-1.5 -1.5zM95.2 254.8l1.5 1.5l-1.5 1.5l-1.5 -1.5zM96.0 251.5l1.5 1.5l-1.5 1.5l-1.5 -1.5zM96.8 256.2l1.5 1.5l-1.5 1.5l-1.5 -1.5zM97.8 251.8l1.5 1.5l-1.5 1.5l-1.5 -1.5zM98.7 255.4l1.5 1.5l-1.5 1.5l-1.5 -1.5zM99.6 251.1l1.5 1.5l-1.5 1.5l-1.5 -1.5zM100.3 250.5l1.5 1.5l-1.5 1.5l-1.5 -1.5zM100.9 253.9l1.5 1.5l-1.5 1.5l-1.5 -1.5zM101.6 254.3l1.5 1.5l-1.5 1.5l-1.5 -1.5zM102.5 250.0l1.5 1.5l-1.5 1.5l-1.5 -1.5zM103.3 257.9l1.5 1.5l-1.5 1.5l-1.5 -1.5zM104.0 253.8l1.5 1.5l-1.5 1.5l-1.5 -1.5zM104.9 254.7l1.5 1.5l-1.5 1.5l-1.5 -1.5zM105.8 253.4l1.5 1.5l-1.5 1.5l-1.5 -1.5zM106.8 258.3l1.5 1.5l-1.5 1.5l-1.5 -1.5zM107.6 250.7l1.5 1.5l-1.5 1.5l-1.5 -1.5zM108.4 251.4l1.5 1.5l-1.5 1.5l-1.5 -1.5zM109.0 249.7l1.5 1.5l-1.5 1.5l-1.5 -1.5zM109.8 258.7l1.5 1.5l-1.5 1.5l-1.5 -1.5zM110.7 257.9l1.5 1.5l-1.5 1.5l-1.5 -1.5zM111.8 256.5l1.5 1.5l-1.5 1.5l-1.5 -1.5zM112.6 252.1l1.5 1.5l-1.5 1.5l-1.5 -1.5zM113.3 256.6l1.5 1.5l-1.5 1.5l-1.5 -1.5zM114.0 257.2l1.5 1.5l-1.5 1.5l-1.5 -1.5zM114.8 257.4l1.5 1.5l-1.5 1.5l-1.5 -1.5zM115.9 259.8l1.5 1.5l-1.5 1.5l-1.5 -1.5zM117.0 253.6l1.5 1.5l-1.5 1.5l-1.5 -1.5zM118.0 256.3l1.5 1.5l-1.5 1.5l-1.5 -1.5zM119.1 255.3l1.5 1.5l-1.5 1.5l-1.5 -1.5zM120.1 252.5l1.5 1.5l-1.5 1.5l-1.5 -1.5zM121.0 252.9l1.5 1.5l-1.5 1.5l-1.5 -1.5zM121.8 257.4l1.5 1.5l-1.5 1.5l-1.5 -1.5zM122.5 258.1l1.5 1.5l-1.5 1.5l-1.5 -1.5zM123.2 257.9l1.5 1.5l-1.5 1.5l-1.5 -1.5zM124.2 253.2l1.5 1.5l-1.5 1.5l-1.5 -1.5zM125.0 253.9l1.5 1.5l-1.5 1.5l-1.5 -1.5zM126.0 254.9l1.5 1.5l-1.5 1.5l-1.5 -1.5zM125.0 264.8l1.5 1.5l-1.5 1.5l-1.5 -1.5zM126.6 253.2l1.5 1.5l-1.5 1.5l-1.5 -1.5zM128.2 254.0l1.5 1.5l-1.5 1.5l-1.5 -1.5zM129.8 256.3l1.5 1.5l-1.5 1.5l-1.5 -1.5zM131.3 257.9l1.5 1.5l-1.5 1.5l-1.5 -1.5zM133.7 256.3l1.5 1.5l-1.5 1.5l-1.5 -1.5zM135.3 254.8l1.5 1.5l-1.5 1.5l-1.5 -1.5zM136.9 251.6l1.5 1.5l-1.5 1.5l-1.5 -1.5zM138.5 253.2l1.5 1.5l-1.5 1.5l-1.5 -1.5zM140.0 260.3l1.5 1.5l-1.5 1.5l-1.5 -1.5zM141.7 258.7l1.5 1.5l-1.5 1.5l-1.5 -1.5zM143.3 257.1l1.5 1.5l-1.5 1.5l-1.5 -1.5zM144.8 258.7l1.5 1.5l-1.5 1.5l-1.5 -1.5zM146.4 259.5l1.5 1.5l-1.5 1.5l-1.5 -1.5zM148.0 264.3l1.5 1.5l-1.5 1.5l-1.5 -1.5zM149.6 267.5l1.5 1.5l-1.5 1.5l-1.5 -1.5zM151.2 265.9l1.5 1.5l-1.5 1.5l-1.5 -1.5zM152.8 262.7l1.5 1.5l-1.5 1.5l-1.5 -1.5zM154.4 264.3l1.5 1.5l-1.5 1.5l-1.5 -1.5zM156.7 265.9l1.5 1.5l-1.5 1.5l-1.5 -1.5zM158.3 263.5l1.5 1.5l-1.5 1.5l-1.5 -1.5zM160.0 261.9l1.5 1.5l-1.5 1.5l-1.5 -1.5zM161.5 264.3l1.5 1.5l-1.5 1.5l-1.5 -1.5zM162.8 267.5l1.5 1.5l-1.5 1.5l-1.5 -1.5zM164.7 262.7l1.5 1.5l-1.5 1.5l-1.5 -1.5zM166.3 263.5l1.5 1.5l-1.5 1.5l-1.5 -1.5zM167.9 264.8l1.5 1.5l-1.5 1.5l-1.5 -1.5zM170.2 265.1l1.5 1.5l-1.5 1.5l-1.5 -1.5zM172.6 261.9l1.5 1.5l-1.5 1.5l-1.5 -1.5zM173.0 260.5l1.5 1.5l-1.5 1.5l-1.5 -1.5zM176.0 262.5l1.5 1.5l-1.5 1.5l-1.5 -1.5zM179.0 264.2l1.5 1.5l-1.5 1.5l-1.5 -1.5zM181.0 262.5l1.5 1.5l-1.5 1.5l-1.5 -1.5zM183.0 268.2l1.5 1.5l-1.5 1.5l-1.5 -1.5zM185.4 270.5l1.5 1.5l-1.5 1.5l-1.5 -1.5zM188.5 271.0l1.5 1.5l-1.5 1.5l-1.5 -1.5zM191.6 268.9l1.5 1.5l-1.5 1.5l-1.5 -1.5zM194.7 267.3l1.5 1.5l-1.5 1.5l-1.5 -1.5zM197.8 266.4l1.5 1.5l-1.5 1.5l-1.5 -1.5zM200.8 262.7l1.5 1.5l-1.5 1.5l-1.5 -1.5zM204.0 264.2l1.5 1.5l-1.5 1.5l-1.5 -1.5zM208.0 278.1l1.5 1.5l-1.5 1.5l-1.5 -1.5zM210.0 269.8l1.5 1.5l-1.5 1.5l-1.5 -1.5zM213.0 266.7l1.5 1.5l-1.5 1.5l-1.5 -1.5zM216.0 266.4l1.5 1.5l-1.5 1.5l-1.5 -1.5zM219.0 267.3l1.5 1.5l-1.5 1.5l-1.5 -1.5zM222.4 269.8l1.5 1.5l-1.5 1.5l-1.5 -1.5zM226.4 265.2l1.5 1.5l-1.5 1.5l-1.5 -1.5zM240.8 265.9l1.5 1.5l-1.5 1.5l-1.5 -1.5zM247.3 264.9l1.5 1.5l-1.5 1.5l-1.5 -1.5zM255.1 258.1l1.5 1.5l-1.5 1.5l-1.5 -1.5z" stroke="#2a9898" stroke-width="0.8" fill="#e8f7f7"/>
<rect x="40.5" y="0.5" width="288.0" height="232.2" fill="none" stroke="#4d4d4d" stroke-width="1"/>
<rect x="40.5" y="240.5" width="288.0" height="57.69999999999999" fill="none" stroke="#4d4d4d" stroke-width="1"/>
<path d="M40.5 232.7v-2.4M40.5 0.5v2.4M83.8 232.7v-1.4M83.8 0.5v1.4M109.2 232.7v-1.4M109.2 0.5v1.4M127.2 232.7v-1.4M127.2 0.5v1.4M141.2 232.7v-1.4M141.2 0.5v1.4M152.6 232.7v-1.4M152.6 0.5v1.4M162.2 232.7v-1.4M162.2 0.5v1.4M170.5 232.7v-1.4M170.5 0.5v1.4M177.9 232.7v-1.4M177.9 0.5v1.4M184.5 232.7v-2.4M184.5 0.5v2.4M227.8 232.7v-1.4M227.8 0.5v1.4M253.2 232.7v-1.4M253.2 0.5v1.4M271.2 232.7v-1.4M271.2 0.5v1.4M285.2 232.7v-1.4M285.2 0.5v1.4M296.6 232.7v-1.4M296.6 0.5v1.4M306.2 232.7v-1.4M306.2 0.5v1.4M314.5 232.7v-1.4M314.5 0.5v1.4M321.9 232.7v-1.4M321.9 0.5v1.4M40.5 298.2v-2.4M40.5 240.5v2.4M83.8 298.2v-1.4M83.8 240.5v1.4M109.2 298.2v-1.4M109.2 240.5v1.4M127.2 298.2v-1.4M127.2 240.5v1.4M141.2 298.2v-1.4M141.2 240.5v1.4M152.6 298.2v-1.4M152.6 240.5v1.4M162.2 298.2v-1.4M162.2 240.5v1.4M170.5 298.2v-1.4M170.5 240.5v1.4M177.9 298.2v-1.4M177.9 240.5v1.4M184.5 298.2v-2.4M184.5 240.5v2.4M227.8 298.2v-1.4M227.8 240.5v1.4M253.2 298.2v-1.4M253.2 240.5v1.4M271.2 298.2v-1.4M271.2 240.5v1.4M285.2 298.2v-1.4M285.2 240.5v1.4M296.6 298.2v-1.4M296.6 240.5v1.4M306.2 298.2v-1.4M306.2 240.5v1.4M314.5 298.2v-1.4M314.5 240.5v1.4M321.9 298.2v-1.4M321.9 240.5v1.4M40.5 205.3h2.4M40.5 189.7h1.4M40.5 180.5h1.4M40.5 174.1h1.4M40.5 169.0h1.4M40.5 164.9h1.4M40.5 161.4h1.4M40.5 158.4h1.4M40.5 155.8h1.4M40.5 153.4h2.4M40.5 137.8h1.4M40.5 128.6h1.4M40.5 122.2h1.4M40.5 117.1h1.4M40.5 113.0h1.4M40.5 109.5h1.4M40.5 106.5h1.4M40.5 103.9h1.4M40.5 101.5h2.4M40.5 85.9h1.4M40.5 76.7h1.4M40.5 70.3h1.4M40.5 65.2h1.4M40.5 61.1h1.4M40.5 57.6h1.4M40.5 54.6h1.4M40.5 52.0h1.4M40.5 49.6h2.4M40.5 34.0h1.4M40.5 24.8h1.4M40.5 18.4h1.4M40.5 13.3h1.4M40.5 9.2h1.4M40.5 5.7h1.4M40.5 2.7h1.4M328.5 16.4h-2.4M328.5 57.9h-2.4M328.5 99.4h-2.4M328.5 140.9h-2.4M328.5 182.4h-2.4M328.5 223.9h-2.4M40.5 298.2h2.4M328.5 298.2h-2.4M40.5 283.8h2.4M328.5 283.8h-2.4M40.5 269.4h2.4M328.5 269.4h-2.4M40.5 254.9h2.4M328.5 254.9h-2.4M40.5 240.5h2.4M328.5 240.5h-2.4" stroke="#555" stroke-width="0.7" fill="none"/>
<text x="30.5" y="53.0" font-size="9.6" text-anchor="end">10</text><path d="M30.7 47.3h4.1" stroke="#2a2a2a" stroke-width="0.55"/><text x="34.9" y="49.4" font-size="6.9">2</text>
<text x="30.5" y="104.9" font-size="9.6" text-anchor="end">10</text><path d="M30.7 99.2h4.1" stroke="#2a2a2a" stroke-width="0.55"/><text x="34.9" y="101.3" font-size="6.9">3</text>
<text x="30.5" y="156.8" font-size="9.6" text-anchor="end">10</text><path d="M30.7 151.1h4.1" stroke="#2a2a2a" stroke-width="0.55"/><text x="34.9" y="153.2" font-size="6.9">4</text>
<text x="30.5" y="208.7" font-size="9.6" text-anchor="end">10</text><path d="M30.7 203.0h4.1" stroke="#2a2a2a" stroke-width="0.55"/><text x="34.9" y="205.1" font-size="6.9">5</text>
<text x="331" y="19.7" font-size="9.6">12</text>
<text x="331" y="61.2" font-size="9.6">14</text>
<text x="331" y="102.7" font-size="9.6">16</text>
<text x="331" y="144.2" font-size="9.6">18</text>
<text x="331" y="185.7" font-size="9.6">20</text>
<text x="331" y="227.2" font-size="9.6">22</text>
<text x="38.2" y="301.5" font-size="9.6" text-anchor="end">0.0</text>
<text x="38.2" y="287.1" font-size="9.6" text-anchor="end">0.5</text>
<text x="38.2" y="272.7" font-size="9.6" text-anchor="end">1.0</text>
<text x="38.2" y="258.2" font-size="9.6" text-anchor="end">1.5</text>
<text x="38.2" y="243.8" font-size="9.6" text-anchor="end">2.0</text>
<text x="40.5" y="309.5" font-size="9.6" text-anchor="middle">100</text>
<text x="83.8" y="309.5" font-size="9.6" text-anchor="middle">200</text>
<text x="127.2" y="309.5" font-size="9.6" text-anchor="middle">400</text>
<text x="184.5" y="309.5" font-size="9.6" text-anchor="middle">1000</text>
<text x="227.8" y="309.5" font-size="9.6" text-anchor="middle">2000</text>
<text x="271.2" y="309.5" font-size="9.6" text-anchor="middle">4000</text>
<text x="314.5" y="309.5" font-size="9.6" text-anchor="middle">8000</text>
<text x="157.8" y="324.6" font-size="12.6">T</text>
<path d="M169.7 321.2h7.7" stroke="#2a2a2a" stroke-width="0.75"/>
<text x="181.4" y="324.6" font-size="12.6">T</text>
<text x="188.6" y="326.6" font-size="8.8">0</text>
<text x="196.8" y="324.6" font-size="12.6" textLength="13.8" lengthAdjust="spacingAndGlyphs">(s)</text>
<text transform="translate(9.9,161.2) rotate(-90)" font-size="12.8" textLength="87.2" lengthAdjust="spacingAndGlyphs">Flux density (Jy)</text>
<text transform="translate(357.2,146.8) rotate(-90)" font-size="12.8" textLength="58.6" lengthAdjust="spacingAndGlyphs">RINGO3 R</text>
<text transform="translate(11.2,278) rotate(-90)" font-size="12.6" font-style="italic">β</text>
<text transform="translate(13.8,272) rotate(-90)" font-size="9" textLength="12" lengthAdjust="spacingAndGlyphs">opt</text>
<polygon points="4.40,269.60 4.97,268.08 6.59,268.01 5.32,267.00 5.75,265.44 4.40,266.33 3.05,265.44 3.48,267.00 2.21,268.01 3.83,268.08" fill="#222"/>
</svg></body></html>
